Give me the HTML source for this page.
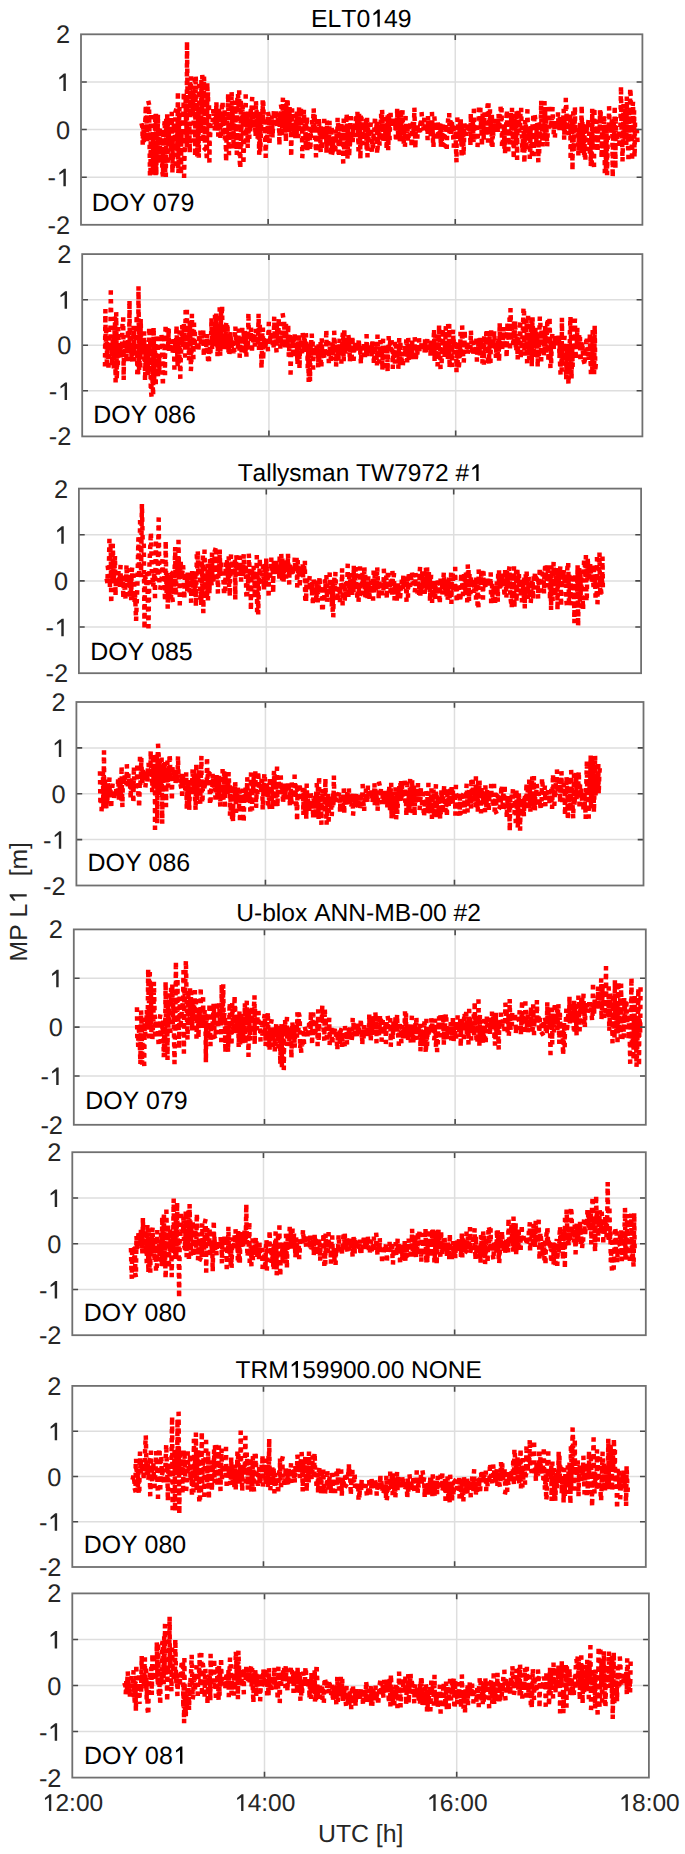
<!DOCTYPE html>
<html><head><meta charset="utf-8"><style>
html,body{margin:0;padding:0;background:#fff;}
svg{display:block;}
text{font-family:"Liberation Sans", sans-serif;font-kerning:none;text-rendering:geometricPrecision;}
</style></head><body>
<svg width="685" height="1854" viewBox="0 0 685 1854">
<rect width="685" height="1854" fill="#fff"/>
<path d="M81.00 81.93H642.40M81.00 129.55H642.40M81.00 177.18H642.40M268.13 34.30V224.80M455.27 34.30V224.80" stroke="#dedede" stroke-width="1.5" fill="none"/>
<path d="M142.0 125.4 L142.4 125.3 L142.7 143.8 L143.0 134.5 L143.5 124.5 L143.8 144.0 L144.2 128.0 L144.9 131.1 L145.5 115.8 L145.8 105.7 L146.1 132.5 L146.5 121.0 L147.0 141.5 L147.3 115.2 L147.8 112.1 L148.4 101.5 L149.0 104.1 L149.6 142.7 L150.0 176.1 L150.5 172.0 L150.8 131.2 L151.1 117.1 L151.3 158.1 L151.8 157.6 L152.4 133.1 L152.9 173.9 L153.2 132.8 L153.5 143.8 L154.0 169.3 L154.3 143.8 L154.8 172.0 L155.2 113.8 L155.6 175.7 L156.0 113.7 L156.3 174.9 L156.7 124.9 L157.1 125.0 L157.7 128.0 L157.9 114.8 L158.3 148.8 L158.9 150.0 L159.1 162.9 L159.4 133.6 L159.9 128.0 L160.0 161.8 L160.6 159.1 L161.0 159.3 L161.4 151.4 L161.7 148.7 L162.0 157.9 L162.5 173.4 L163.0 176.5 L163.4 133.2 L163.8 171.6 L164.2 126.9 L164.8 120.3 L165.2 175.0 L165.8 176.7 L166.2 117.0 L166.5 130.3 L166.9 123.7 L167.2 114.9 L167.7 164.4 L168.0 118.1 L168.5 145.6 L168.9 134.8 L169.5 136.6 L169.7 117.9 L170.2 116.6 L170.8 116.8 L171.0 156.7 L171.5 147.7 L171.8 113.9 L172.4 172.9 L172.7 136.7 L173.0 169.7 L173.4 132.6 L173.7 123.7 L173.9 130.6 L174.3 130.1 L174.5 127.7 L175.0 168.1 L175.0 145.4 L175.4 112.0 L175.8 110.7 L176.2 155.6 L176.6 154.0 L177.1 124.1 L177.4 151.3 L177.9 91.6 L178.3 172.9 L178.6 169.3 L179.0 121.6 L179.5 107.7 L180.0 154.5 L180.5 146.1 L181.0 174.2 L181.3 132.3 L181.7 143.5 L182.1 114.4 L182.5 140.6 L182.9 121.1 L183.4 111.8 L183.8 92.2 L184.1 176.1 L184.6 151.6 L184.9 150.1 L185.2 145.3 L185.6 98.7 L186.0 120.7 L186.4 123.6 L186.8 144.8 L187.0 41.7 L187.4 82.2 L187.7 116.7 L188.3 144.4 L188.7 127.4 L189.3 124.9 L189.8 152.6 L190.0 82.0 L190.3 111.4 L190.6 86.8 L191.1 77.6 L191.3 113.9 L191.8 112.7 L192.2 97.2 L192.5 95.7 L193.0 111.2 L193.3 90.0 L193.6 116.9 L193.9 133.5 L194.3 140.6 L194.8 79.7 L195.1 156.2 L195.7 76.2 L196.2 88.4 L196.7 131.7 L197.0 105.7 L197.3 156.7 L197.9 137.4 L198.4 108.2 L198.8 157.2 L199.3 85.5 L199.6 103.6 L199.9 134.7 L200.2 131.1 L200.6 119.6 L201.1 126.3 L201.4 81.1 L201.9 109.0 L202.3 76.8 L202.6 102.5 L203.1 142.0 L203.4 142.1 L204.0 77.0 L204.4 87.1 L204.9 149.1 L205.2 148.8 L205.7 95.0 L206.0 113.4 L206.5 152.4 L206.9 160.2 L207.3 82.9 L207.7 100.5 L208.0 92.4 L208.5 134.2 L209.0 103.1 L209.4 160.8 L209.9 130.5 L210.0 139.2 L210.6 122.5 L211.1 122.8 L211.6 122.1 L212.0 122.9 L212.6 121.8 L213.0 116.1 L213.4 108.0 L213.8 114.7 L214.3 110.1 L214.8 129.6 L215.4 119.2 L215.8 131.5 L216.4 102.3 L217.0 128.3 L217.4 116.8 L217.8 118.3 L218.3 135.8 L218.6 114.9 L219.1 107.6 L219.8 120.5 L220.1 118.6 L220.4 138.9 L220.9 138.7 L221.2 119.6 L221.6 113.7 L222.0 106.1 L222.6 101.7 L223.2 136.4 L223.5 113.4 L224.0 124.3 L224.6 111.4 L224.9 119.6 L225.0 138.2 L225.6 133.6 L226.1 161.5 L226.7 131.5 L227.2 124.1 L227.5 117.5 L227.8 106.2 L228.2 94.0 L228.5 139.5 L229.0 154.2 L229.4 123.9 L230.0 137.2 L230.7 139.4 L231.2 131.0 L231.6 91.9 L232.1 105.5 L232.3 125.9 L232.8 107.8 L233.3 148.6 L233.8 125.2 L234.2 130.4 L234.7 104.5 L235.2 101.3 L235.8 129.2 L236.3 133.0 L236.8 154.2 L237.4 96.5 L238.0 93.7 L238.6 107.5 L239.2 92.4 L239.7 160.6 L240.3 168.2 L240.8 98.9 L241.2 145.9 L241.6 122.0 L242.2 118.8 L242.5 103.5 L242.9 113.5 L243.4 163.9 L243.8 151.5 L244.4 117.3 L245.0 125.4 L245.4 114.4 L245.7 96.4 L246.0 141.5 L246.4 128.5 L246.7 112.8 L247.0 133.4 L247.4 125.1 L247.7 147.5 L248.3 109.4 L248.6 134.9 L248.9 124.6 L249.3 136.9 L249.8 122.0 L250.2 131.5 L250.8 109.1 L251.3 124.8 L251.7 104.3 L252.1 99.0 L252.6 112.1 L253.1 128.5 L253.6 109.9 L254.0 126.8 L254.6 121.4 L255.1 125.7 L255.6 136.4 L255.9 101.0 L256.2 107.2 L256.7 112.4 L257.3 132.1 L257.7 137.5 L258.1 119.4 L258.6 121.8 L258.9 137.1 L259.2 153.9 L259.6 111.3 L260.2 151.3 L260.6 142.8 L261.2 124.2 L261.8 129.6 L262.2 127.6 L262.7 100.8 L263.0 122.7 L263.3 103.1 L263.9 123.8 L264.3 119.7 L264.6 132.0 L265.1 135.8 L265.7 156.5 L266.4 121.4 L266.9 134.0 L267.4 138.4 L267.8 123.0 L268.0 112.3 L268.6 115.4 L269.0 121.1 L269.4 145.0 L269.9 134.3 L270.4 120.4 L270.7 119.9 L271.1 136.0 L271.7 120.6 L272.1 114.5 L272.5 137.5 L273.1 124.7 L273.5 120.5 L273.9 110.2 L274.6 116.4 L275.1 118.5 L275.7 123.4 L276.1 109.8 L276.7 123.2 L277.3 128.0 L277.5 113.0 L277.9 124.3 L278.4 116.3 L279.0 119.4 L279.4 145.2 L279.9 110.9 L280.6 131.7 L281.1 105.6 L281.6 108.6 L281.9 134.0 L282.5 119.6 L282.9 98.6 L283.4 127.0 L283.9 110.7 L284.5 108.4 L285.1 131.0 L285.5 107.1 L285.9 141.6 L286.3 104.5 L286.8 121.5 L287.1 104.8 L287.5 98.4 L288.0 110.1 L288.6 122.4 L289.0 128.1 L289.3 130.9 L289.6 107.5 L290.0 132.2 L290.3 118.7 L290.8 119.5 L291.2 156.4 L291.7 123.9 L292.1 108.9 L292.6 128.1 L293.2 127.3 L293.8 125.8 L294.2 137.8 L294.9 122.2 L295.4 137.8 L296.0 114.5 L296.7 132.4 L297.0 112.5 L297.4 125.6 L298.0 126.2 L298.4 136.7 L299.1 107.6 L299.6 120.2 L300.2 130.2 L300.7 128.8 L301.0 108.0 L301.5 127.4 L302.0 128.1 L302.3 156.9 L302.7 151.0 L303.1 147.4 L303.4 128.1 L303.9 110.0 L304.2 120.0 L304.8 127.1 L305.2 128.4 L305.7 143.3 L306.1 124.4 L306.6 126.6 L307.0 116.2 L307.3 151.5 L307.8 132.9 L308.3 149.7 L308.6 146.8 L309.0 129.9 L309.5 124.6 L310.1 150.1 L310.5 144.7 L310.9 129.2 L311.2 131.2 L311.7 130.6 L312.1 122.0 L312.7 132.0 L313.2 119.3 L313.7 108.9 L314.2 131.4 L314.7 114.1 L315.0 138.7 L315.6 143.1 L316.0 156.1 L316.4 128.8 L317.0 121.0 L317.6 137.2 L318.2 151.6 L318.6 150.0 L318.9 118.3 L319.4 131.8 L319.7 133.4 L320.2 133.3 L320.7 152.4 L321.1 128.4 L321.8 149.6 L322.3 134.0 L322.9 136.8 L323.4 129.0 L323.7 132.0 L324.2 120.7 L324.5 129.9 L325.0 137.4 L325.4 130.4 L325.9 132.5 L326.2 134.3 L326.5 152.4 L326.9 121.0 L327.3 126.2 L327.8 135.5 L328.4 137.2 L328.7 137.9 L329.2 138.6 L329.5 121.3 L330.0 146.5 L330.6 138.9 L330.9 155.4 L331.4 132.0 L331.7 126.9 L332.0 154.5 L332.6 151.9 L333.2 141.6 L333.9 152.2 L334.3 135.7 L334.7 134.5 L335.2 153.0 L335.6 144.3 L336.1 129.4 L336.7 136.7 L337.3 135.5 L337.6 118.2 L338.2 125.6 L338.6 153.3 L339.0 156.6 L339.5 134.0 L339.8 134.4 L340.2 144.2 L340.8 139.0 L341.4 123.3 L341.9 131.6 L342.5 140.2 L343.2 162.0 L343.7 119.7 L344.3 154.8 L344.8 131.1 L345.0 131.1 L345.6 149.3 L346.1 126.6 L346.7 113.9 L347.1 148.5 L347.4 158.7 L347.7 153.7 L348.1 128.4 L348.6 132.2 L349.2 156.4 L349.5 143.2 L349.9 148.0 L350.3 124.9 L350.8 117.3 L351.4 142.2 L351.8 139.4 L352.1 133.0 L352.7 141.9 L353.3 125.0 L353.8 127.4 L354.1 128.3 L354.5 130.9 L355.1 121.7 L355.7 117.9 L356.1 135.8 L356.6 117.8 L357.0 124.9 L357.5 114.0 L357.9 123.0 L358.5 150.2 L359.1 114.0 L359.7 128.5 L360.0 131.0 L360.4 158.9 L360.8 114.1 L361.4 114.8 L361.9 132.8 L362.4 144.2 L362.7 131.8 L363.2 120.4 L363.7 126.9 L364.1 129.2 L364.6 123.1 L365.2 131.1 L365.6 134.2 L366.1 121.0 L366.7 149.9 L367.1 118.6 L367.5 156.3 L367.8 126.2 L368.2 134.8 L368.7 140.8 L369.0 125.1 L369.7 129.2 L370.3 128.4 L370.7 124.0 L371.2 124.9 L371.8 150.3 L372.3 139.8 L372.9 149.9 L373.5 133.8 L374.0 139.4 L374.4 128.3 L375.0 116.6 L375.3 125.5 L375.7 128.3 L376.3 128.2 L376.8 121.2 L377.1 153.7 L377.7 146.5 L378.4 124.2 L378.7 128.2 L379.2 127.9 L379.5 144.8 L379.9 123.1 L380.0 125.9 L380.5 128.5 L381.1 114.5 L381.7 129.7 L382.1 110.1 L382.6 123.4 L383.0 141.3 L383.5 128.0 L384.0 130.5 L384.6 142.9 L385.0 130.5 L385.4 132.7 L385.8 129.3 L386.2 118.0 L386.6 149.2 L387.2 129.7 L387.6 115.2 L388.2 149.8 L388.7 130.8 L389.1 113.9 L389.6 138.1 L390.1 122.1 L390.6 113.4 L391.0 127.0 L391.6 127.0 L392.0 118.4 L392.5 127.9 L393.1 126.8 L393.7 117.7 L394.0 126.7 L394.4 126.7 L394.8 126.5 L395.4 126.6 L396.0 141.4 L396.4 136.6 L396.7 125.4 L397.2 108.5 L397.5 126.6 L397.8 126.7 L398.2 135.8 L398.7 110.2 L399.1 126.3 L399.5 113.7 L399.8 141.5 L400.3 129.1 L400.9 109.6 L401.4 140.3 L402.0 123.1 L402.5 111.8 L403.0 126.5 L403.3 139.7 L403.7 144.0 L404.0 132.9 L404.6 126.1 L405.0 145.2 L405.6 117.6 L406.1 123.1 L406.5 132.7 L407.0 125.9 L407.4 126.4 L408.0 141.5 L408.6 136.5 L408.9 124.5 L409.5 125.8 L409.9 126.1 L410.3 123.6 L410.7 133.8 L411.3 135.6 L411.6 146.8 L412.0 143.1 L412.4 124.3 L413.0 122.3 L413.6 131.0 L413.9 128.1 L414.4 108.2 L414.9 129.9 L415.4 148.2 L415.7 129.3 L416.3 126.9 L416.8 129.9 L417.4 137.0 L417.7 126.6 L418.3 130.3 L418.8 132.3 L419.2 126.1 L419.5 126.0 L420.0 131.4 L420.0 126.7 L420.5 122.8 L421.0 126.6 L421.3 121.5 L421.7 114.0 L422.2 122.2 L422.7 128.4 L423.3 126.7 L423.9 128.5 L424.3 118.9 L424.7 125.1 L425.1 128.3 L425.4 129.4 L425.7 128.6 L426.3 130.3 L426.7 128.2 L427.1 128.5 L427.6 139.3 L428.0 116.2 L428.5 133.4 L429.1 126.5 L429.4 127.0 L429.7 127.5 L430.4 126.2 L430.7 135.3 L431.2 123.1 L431.6 126.2 L432.0 113.9 L432.6 130.4 L433.1 143.2 L433.5 147.0 L433.8 122.8 L434.5 118.5 L435.0 125.8 L435.5 126.9 L436.0 130.5 L436.4 121.5 L436.9 140.5 L437.3 121.8 L437.8 123.6 L438.2 132.8 L438.8 133.7 L439.5 127.2 L439.7 126.6 L440.3 124.3 L440.9 147.1 L441.3 124.1 L441.9 145.8 L442.5 127.5 L442.8 127.3 L443.3 122.7 L443.9 144.9 L444.5 145.3 L445.0 123.3 L445.6 125.4 L445.9 132.9 L446.4 129.5 L446.8 146.8 L447.3 127.2 L447.7 127.2 L448.1 119.9 L448.7 119.5 L449.2 113.8 L449.5 132.1 L450.0 127.2 L450.0 118.4 L450.5 118.8 L451.0 134.8 L451.6 132.4 L451.9 122.3 L452.3 127.1 L452.8 124.9 L453.3 138.4 L453.8 145.9 L454.1 139.6 L454.5 128.5 L454.9 127.9 L455.5 126.6 L455.9 145.3 L456.5 161.7 L456.8 121.5 L457.4 119.5 L458.0 127.5 L458.3 122.1 L458.8 123.9 L459.3 137.6 L460.0 123.4 L460.3 140.6 L460.8 119.2 L461.1 127.0 L461.6 157.1 L462.2 122.3 L462.6 124.8 L463.1 124.9 L463.5 155.0 L464.1 138.1 L464.4 123.9 L464.9 126.9 L465.5 127.0 L465.9 134.5 L466.3 127.7 L466.9 123.5 L467.5 128.5 L467.9 123.5 L468.3 127.7 L468.6 123.3 L468.9 125.9 L469.4 132.9 L469.8 126.9 L470.0 125.7 L470.4 145.8 L470.8 113.6 L471.3 138.2 L471.7 128.0 L472.2 129.6 L472.7 119.1 L473.1 130.0 L473.6 143.1 L473.9 106.6 L474.5 141.0 L475.0 134.7 L475.3 127.3 L475.6 126.8 L475.9 128.7 L476.2 125.0 L476.6 127.5 L477.2 143.1 L477.6 145.1 L477.9 134.1 L478.2 134.0 L478.6 129.3 L479.0 105.9 L479.6 106.0 L480.1 127.7 L480.4 109.7 L480.8 125.9 L481.3 119.6 L481.9 146.0 L482.6 115.7 L483.2 118.9 L483.6 139.7 L484.0 124.4 L484.6 112.8 L485.0 128.7 L485.6 128.3 L486.2 127.3 L486.5 135.0 L487.1 111.9 L487.6 105.6 L488.0 140.6 L488.5 104.9 L489.1 121.2 L489.5 129.9 L490.0 109.8 L490.6 125.8 L491.1 120.1 L491.6 146.5 L491.9 113.9 L492.5 145.4 L493.0 130.4 L493.3 136.1 L493.6 127.9 L494.1 119.3 L494.4 126.0 L494.8 128.1 L495.3 128.7 L495.7 130.4 L496.3 124.2 L496.8 130.1 L497.4 120.5 L497.7 130.1 L498.1 119.0 L498.6 114.5 L499.1 129.4 L499.6 121.2 L500.0 114.3 L500.6 108.2 L501.1 122.8 L501.6 109.6 L502.0 144.0 L502.5 129.7 L503.0 142.2 L503.5 131.5 L504.0 127.0 L504.4 146.6 L504.7 126.8 L505.1 151.1 L505.6 128.2 L506.1 126.9 L506.5 116.3 L506.9 110.4 L507.4 134.1 L507.9 142.0 L508.3 153.5 L508.8 124.2 L509.3 119.3 L510.0 146.3 L510.5 118.4 L510.9 112.9 L511.5 127.9 L512.0 108.6 L512.7 144.0 L513.0 127.5 L513.3 128.9 L513.7 158.6 L514.3 131.8 L514.6 120.1 L515.1 128.8 L515.6 129.5 L516.1 145.0 L516.6 110.8 L517.1 158.5 L517.5 111.7 L518.2 110.3 L518.5 109.8 L518.8 121.0 L519.4 132.0 L519.8 129.2 L520.2 122.1 L520.6 108.7 L521.2 109.5 L521.6 126.9 L522.1 144.4 L522.5 152.1 L522.9 140.4 L523.5 133.1 L523.8 132.8 L524.4 162.8 L524.9 128.5 L525.2 121.7 L525.6 127.8 L525.9 126.2 L526.5 149.9 L527.0 127.6 L527.4 111.2 L527.9 127.6 L528.4 139.9 L528.8 127.7 L529.2 127.7 L529.8 157.6 L530.3 149.2 L530.6 127.1 L530.9 125.8 L531.3 145.1 L531.9 153.8 L532.5 126.0 L532.9 126.0 L533.3 114.0 L533.7 154.2 L534.2 122.0 L534.6 113.9 L535.2 118.5 L535.8 127.0 L536.2 146.3 L536.7 125.9 L537.2 123.7 L537.5 124.9 L538.0 147.0 L538.3 161.5 L538.7 122.0 L539.2 151.4 L539.7 126.9 L540.0 126.3 L540.3 135.4 L540.8 125.1 L541.2 101.0 L541.4 125.2 L542.0 130.8 L542.6 145.6 L543.1 136.4 L543.5 130.8 L543.9 129.8 L544.5 101.8 L544.8 142.4 L545.1 108.1 L545.4 138.8 L545.8 126.5 L546.2 120.6 L546.7 135.8 L547.2 146.1 L547.7 132.2 L548.3 109.0 L548.7 114.2 L549.2 127.1 L549.6 124.1 L550.2 123.4 L550.7 124.0 L551.0 125.3 L551.5 121.3 L551.8 123.1 L552.5 108.4 L553.0 121.5 L553.4 126.7 L553.7 133.1 L554.1 120.8 L554.7 134.3 L555.0 135.6 L555.5 121.9 L556.0 123.6 L556.6 128.8 L557.2 128.7 L557.7 122.2 L558.0 113.0 L558.2 117.2 L558.6 126.8 L559.0 125.7 L559.5 131.8 L559.8 118.2 L560.4 117.6 L560.7 128.5 L561.0 123.2 L561.3 124.4 L561.7 129.0 L562.1 127.3 L562.5 124.4 L562.9 123.0 L563.4 116.3 L563.7 110.0 L564.2 139.4 L564.6 123.4 L565.2 133.5 L565.8 99.4 L566.1 99.2 L566.5 112.6 L566.8 126.2 L567.3 114.1 L567.6 122.8 L568.0 124.4 L568.4 124.5 L568.8 134.3 L569.2 127.6 L569.7 127.1 L570.0 127.5 L570.3 114.2 L570.6 159.8 L571.2 134.8 L571.7 121.4 L572.0 125.0 L572.5 170.3 L572.8 114.1 L573.3 112.8 L573.7 151.5 L574.2 123.0 L574.6 128.6 L574.9 106.7 L575.3 131.9 L575.8 132.3 L576.2 129.3 L576.7 134.4 L577.1 129.4 L577.5 130.1 L578.0 129.3 L578.4 155.3 L579.0 127.9 L579.5 142.5 L580.0 122.5 L580.5 136.5 L581.0 128.0 L581.4 118.9 L581.7 105.6 L582.0 152.9 L582.4 120.9 L582.7 131.3 L583.0 141.7 L583.4 142.1 L584.1 155.4 L584.4 125.8 L584.8 160.6 L585.4 158.0 L586.0 124.3 L586.4 132.1 L586.8 128.5 L587.4 124.4 L588.0 125.3 L588.6 119.2 L589.1 129.0 L589.5 145.6 L589.9 154.6 L590.3 136.4 L590.8 165.8 L591.3 136.8 L591.9 167.7 L592.2 109.3 L592.6 149.3 L593.1 126.0 L593.5 111.9 L594.0 165.0 L594.4 108.1 L594.7 130.2 L595.3 142.8 L595.7 142.8 L596.3 121.1 L596.8 147.2 L597.3 125.6 L597.7 148.4 L598.3 129.5 L598.7 131.0 L599.3 131.9 L599.7 131.7 L600.0 110.7 L600.3 121.8 L600.7 112.2 L601.3 117.2 L601.6 157.9 L602.1 131.3 L602.4 133.8 L603.0 150.3 L603.4 114.7 L603.7 133.4 L604.1 116.0 L604.5 131.9 L604.8 171.4 L605.1 134.8 L605.5 124.5 L606.0 172.7 L606.6 128.8 L607.1 174.1 L607.8 135.2 L608.1 123.6 L608.6 130.2 L609.1 107.7 L609.7 128.7 L610.2 132.3 L610.6 132.3 L611.2 131.9 L611.6 123.8 L611.9 120.2 L612.3 129.1 L612.7 177.1 L613.3 128.2 L613.7 122.6 L614.3 139.5 L614.7 106.0 L615.0 131.9 L615.4 168.6 L615.7 116.0 L616.2 140.6 L616.6 132.7 L616.9 132.0 L617.4 137.1 L617.8 132.1 L618.4 132.0 L619.0 132.0 L619.5 147.4 L620.0 131.9 L620.4 127.8 L621.0 86.5 L621.5 128.7 L622.0 130.2 L622.5 160.9 L622.9 143.2 L623.5 106.3 L624.0 126.4 L624.4 126.0 L624.7 138.9 L625.0 131.8 L625.3 109.8 L625.9 129.9 L626.3 143.4 L626.8 97.1 L627.4 131.9 L627.7 135.4 L628.4 157.0 L628.8 134.2 L629.2 108.1 L629.6 137.3 L630.2 88.5 L630.8 97.0 L631.2 134.5 L631.6 137.6 L632.1 160.4 L632.5 109.1 L633.0 102.1 L633.6 128.5 L634.1 111.3 L634.5 157.0 L634.7 150.6 L635.0 123.7 L635.7 126.3 L636.0 126.8 L636.4 130.4 L636.9 130.9 L637.4 140.5 L637.8 136.3" fill="none" stroke="#f00" stroke-width="4.5" stroke-dasharray="0.01 8.8" stroke-linejoin="miter" stroke-linecap="square"/>
<path d="M81.00 81.93H86.80M642.40 81.93H636.60M81.00 129.55H86.80M642.40 129.55H636.60M81.00 177.18H86.80M642.40 177.18H636.60M268.13 34.30V40.10M268.13 224.80V219.00M455.27 34.30V40.10M455.27 224.80V219.00" stroke="#4a4a4a" stroke-width="1.6" fill="none"/>
<rect x="81.00" y="34.30" width="561.40" height="190.50" fill="none" stroke="#707070" stroke-width="1.8"/>
<text x="56.07" y="43.39" font-size="25.40" fill="#262626" xml:space="preserve">2</text>
<polygon points="65.83,91.02 65.83,73.51 63.95,73.51 59.25,77.43 59.38,79.59 63.41,76.92 63.41,91.02" fill="#262626"/>
<text x="56.07" y="138.64" font-size="25.40" fill="#262626" xml:space="preserve">0</text>
<text x="47.62" y="186.26" font-size="25.40" fill="#262626" xml:space="preserve">-</text><polygon points="65.83,186.26 65.83,168.76 63.95,168.76 59.25,172.68 59.38,174.83 63.41,172.17 63.41,186.26" fill="#262626"/>
<text x="47.62" y="233.89" font-size="25.40" fill="#262626" xml:space="preserve">-2</text>
<text x="91.75" y="210.85" font-size="24.95" fill="#000" xml:space="preserve">DOY 079</text>
<text x="311.07" y="26.65" font-size="24.76" fill="#000" xml:space="preserve">ELT0</text><polygon points="379.77,26.65 379.77,9.59 377.93,9.59 373.35,13.40 373.48,15.51 377.41,12.91 377.41,26.65" fill="#000"/><text x="384.03" y="26.65" font-size="24.76" fill="#000" xml:space="preserve">49</text>
<path d="M82.20 299.68H642.40M82.20 345.25H642.40M82.20 390.82H642.40M268.93 254.10V436.40M455.67 254.10V436.40" stroke="#dedede" stroke-width="1.5" fill="none"/>
<path d="M105.0 364.2 L105.4 310.4 L105.7 346.6 L106.3 330.3 L106.8 363.3 L107.1 339.9 L107.5 351.7 L108.1 344.6 L108.5 369.7 L109.1 329.6 L109.7 344.3 L110.3 350.6 L110.8 292.5 L111.4 330.2 L111.9 365.4 L112.3 344.6 L112.9 340.7 L113.4 345.4 L113.8 369.5 L114.4 325.7 L115.0 345.7 L115.0 317.2 L115.6 381.1 L116.2 312.9 L116.8 379.0 L117.4 355.8 L117.9 363.8 L118.3 328.3 L118.6 341.1 L119.2 345.2 L119.8 357.7 L120.2 344.5 L120.8 350.3 L121.2 358.4 L121.6 354.5 L122.0 345.2 L122.6 319.9 L123.2 318.5 L123.7 379.5 L124.0 347.4 L124.3 344.2 L124.7 342.4 L125.0 346.4 L125.5 356.9 L125.8 357.8 L126.4 357.1 L127.0 344.6 L127.5 347.4 L127.9 330.0 L128.2 359.4 L128.6 347.5 L129.2 347.7 L129.5 300.7 L129.8 344.8 L130.2 350.8 L130.8 342.8 L131.2 337.4 L131.5 356.6 L131.9 345.2 L132.3 361.1 L132.6 343.5 L133.2 343.0 L133.7 325.9 L134.3 360.3 L134.8 356.0 L135.0 349.1 L135.4 350.4 L136.0 345.6 L136.7 315.4 L137.0 340.1 L137.3 372.2 L137.8 363.2 L138.1 372.6 L138.5 286.8 L139.1 369.8 L139.6 361.3 L139.9 329.3 L140.3 365.6 L140.7 319.0 L141.2 345.3 L141.7 352.7 L142.2 349.9 L142.7 345.3 L143.0 346.6 L143.6 347.3 L144.1 332.4 L144.5 359.4 L144.9 346.2 L145.0 380.3 L145.3 372.5 L145.7 342.6 L146.1 369.0 L146.5 345.3 L146.9 348.4 L147.2 357.0 L147.7 375.4 L148.2 342.5 L148.7 352.5 L149.2 327.6 L149.6 335.3 L150.2 342.4 L150.8 389.6 L151.4 395.1 L151.8 344.1 L152.5 379.9 L153.1 395.1 L153.6 327.4 L153.9 344.7 L154.2 378.1 L154.8 357.7 L155.0 347.3 L155.3 344.9 L155.7 386.1 L156.2 344.9 L156.7 338.3 L157.0 342.9 L157.6 338.6 L158.0 377.0 L158.6 370.6 L159.0 356.1 L159.4 370.5 L159.9 344.5 L160.2 344.7 L160.8 337.2 L161.4 333.6 L161.9 344.7 L162.3 366.3 L162.9 385.6 L163.4 344.4 L164.0 338.2 L164.5 345.0 L165.0 373.7 L165.0 357.8 L165.6 324.8 L165.9 344.5 L166.3 347.4 L166.7 344.1 L167.3 329.6 L167.6 345.0 L168.2 344.4 L168.7 328.5 L169.0 352.7 L169.5 343.3 L170.1 347.8 L170.4 346.2 L170.9 350.2 L171.4 346.1 L171.9 340.5 L172.4 340.4 L172.8 353.4 L173.1 340.5 L173.6 340.0 L174.1 350.5 L174.4 367.9 L175.0 343.7 L175.6 351.7 L176.0 344.6 L176.5 325.7 L177.1 348.0 L177.6 364.0 L178.0 340.6 L178.6 363.3 L179.3 356.6 L179.6 331.4 L180.0 365.9 L180.3 377.2 L180.8 356.9 L181.2 349.8 L181.8 335.4 L182.2 326.0 L182.5 332.5 L183.0 346.1 L183.5 341.7 L183.9 323.7 L184.2 343.6 L184.7 340.6 L185.1 355.9 L185.6 312.3 L186.0 338.6 L186.4 335.9 L186.9 311.9 L187.2 333.2 L187.5 346.3 L188.2 327.2 L188.7 329.0 L189.0 359.9 L189.4 356.2 L189.8 320.5 L190.4 339.8 L190.9 369.8 L191.3 364.5 L191.6 342.3 L191.9 314.7 L192.5 343.7 L193.0 343.8 L193.4 357.7 L194.0 324.0 L194.4 342.2 L194.9 333.5 L195.0 344.0 L195.5 345.7 L196.2 345.9 L196.8 343.2 L197.4 350.1 L197.8 341.9 L198.2 351.4 L198.6 347.1 L199.0 337.1 L199.3 341.3 L199.8 339.0 L200.1 335.2 L200.4 331.1 L200.9 346.4 L201.2 330.6 L201.8 332.2 L202.3 342.3 L202.8 343.2 L203.3 329.4 L203.8 356.1 L204.1 343.1 L204.6 339.0 L204.9 342.4 L205.4 340.8 L206.0 352.0 L206.6 341.5 L206.9 334.2 L207.6 352.4 L208.0 359.3 L208.6 341.9 L209.0 359.9 L209.4 345.3 L209.8 341.7 L210.0 346.7 L210.4 354.4 L210.8 343.6 L211.2 331.8 L211.5 318.1 L211.9 342.9 L212.2 350.0 L212.7 341.4 L213.0 330.8 L213.6 341.1 L214.0 343.6 L214.7 347.3 L215.0 316.3 L215.5 340.4 L215.8 341.2 L216.3 314.2 L216.6 344.3 L217.1 323.8 L217.5 355.9 L218.0 346.7 L218.5 342.4 L218.9 330.3 L219.2 341.2 L219.7 309.4 L220.2 355.6 L220.7 341.0 L221.1 310.1 L221.7 313.2 L222.1 305.6 L222.5 341.1 L222.9 346.0 L223.4 334.8 L223.9 329.7 L224.2 347.8 L224.7 340.7 L225.0 346.5 L225.6 339.1 L225.9 325.8 L226.5 321.9 L227.0 331.9 L227.5 324.2 L228.0 353.1 L228.5 351.6 L228.8 340.0 L229.4 354.0 L229.8 340.8 L230.4 332.1 L231.0 343.4 L231.5 342.6 L231.9 348.8 L232.3 339.1 L232.9 349.0 L233.5 352.0 L234.0 341.8 L234.3 351.0 L234.8 338.8 L235.4 327.2 L235.9 339.0 L236.3 340.9 L236.6 344.2 L237.1 338.3 L237.5 338.7 L237.9 349.2 L238.4 338.7 L238.7 329.8 L239.1 338.2 L239.7 356.4 L240.1 338.4 L240.6 348.3 L241.1 336.4 L241.6 353.3 L242.1 325.8 L242.7 340.4 L243.1 337.4 L243.7 333.8 L244.0 339.5 L244.5 340.8 L244.8 331.3 L245.0 334.1 L245.5 354.3 L245.9 338.5 L246.4 355.3 L246.8 351.2 L247.4 341.4 L247.7 347.8 L248.1 339.9 L248.4 312.9 L248.9 339.2 L249.4 335.3 L249.9 339.2 L250.5 340.4 L251.0 328.1 L251.5 349.9 L251.9 352.4 L252.4 342.8 L253.0 339.8 L253.4 342.5 L254.0 337.7 L254.5 336.1 L254.9 346.1 L255.2 343.7 L255.8 330.5 L256.3 341.0 L256.9 340.6 L257.3 341.7 L257.7 344.0 L258.0 344.8 L258.6 314.2 L259.0 347.8 L259.4 344.2 L259.8 324.3 L260.0 345.0 L260.3 337.7 L261.0 347.0 L261.5 368.0 L261.9 354.3 L262.3 332.6 L262.9 328.2 L263.2 359.7 L263.6 340.9 L264.0 338.8 L264.4 345.0 L264.9 345.1 L265.3 347.2 L265.9 342.8 L266.3 338.8 L266.8 342.2 L267.3 342.1 L267.9 349.8 L268.5 330.8 L268.8 323.6 L269.1 327.4 L269.4 341.1 L269.8 344.1 L270.0 343.2 L270.6 332.5 L271.2 341.0 L271.8 341.1 L272.4 340.9 L273.0 346.9 L273.6 348.3 L274.2 317.4 L274.7 337.7 L275.1 338.6 L275.4 338.3 L276.0 345.2 L276.5 351.3 L277.0 324.3 L277.3 335.2 L277.9 339.6 L278.3 337.0 L278.8 318.1 L279.4 337.1 L279.9 340.6 L280.3 348.2 L280.7 337.0 L281.3 335.9 L281.7 346.7 L282.3 344.0 L282.9 315.4 L283.3 318.0 L283.9 341.7 L284.2 321.3 L284.6 340.6 L285.1 348.4 L285.4 338.6 L286.0 325.7 L286.4 340.6 L286.8 340.9 L287.3 341.8 L287.9 345.4 L288.2 324.5 L288.8 356.2 L289.3 348.0 L289.8 334.5 L290.0 334.7 L290.6 372.5 L291.0 357.7 L291.4 338.7 L291.9 343.7 L292.3 336.2 L292.9 346.7 L293.3 353.0 L293.8 344.6 L294.2 345.8 L294.7 333.5 L295.2 358.2 L295.7 344.4 L296.3 347.1 L296.6 347.5 L296.9 346.0 L297.5 364.6 L297.8 344.2 L298.4 336.5 L298.7 355.3 L299.1 334.2 L299.5 368.5 L299.9 349.9 L300.2 344.0 L300.8 339.3 L301.3 347.9 L301.9 351.5 L302.3 349.5 L302.8 334.6 L303.3 347.1 L303.9 349.7 L304.2 335.2 L304.7 335.5 L305.0 350.1 L305.4 351.2 L306.0 335.2 L306.7 348.8 L307.1 347.2 L307.4 353.1 L307.7 366.6 L308.1 346.4 L308.7 381.3 L309.3 358.9 L309.7 361.3 L310.0 380.9 L310.5 342.3 L310.9 357.2 L311.4 335.4 L311.8 334.6 L312.3 357.3 L312.7 342.4 L313.1 367.6 L313.5 351.8 L314.0 350.9 L314.4 356.6 L315.0 356.3 L315.5 351.3 L315.9 351.1 L316.3 353.1 L316.7 343.7 L317.1 349.8 L317.5 351.5 L317.9 353.2 L318.2 367.2 L318.6 344.6 L319.2 361.8 L319.8 352.0 L320.0 356.5 L320.6 343.3 L320.9 363.2 L321.4 367.5 L321.8 339.2 L322.1 352.5 L322.6 351.9 L323.2 351.7 L323.6 354.7 L324.1 356.7 L324.8 350.1 L325.0 356.4 L325.4 356.3 L325.9 349.6 L326.3 329.8 L326.6 343.2 L327.1 339.9 L327.6 339.8 L328.2 342.0 L328.8 362.0 L329.1 350.4 L329.5 352.1 L330.0 346.2 L330.4 345.1 L330.9 362.4 L331.4 357.7 L331.8 359.8 L332.2 349.9 L332.7 344.1 L333.1 355.4 L333.8 344.8 L334.2 332.0 L334.8 344.2 L335.1 348.0 L335.6 349.9 L336.1 366.2 L336.6 348.2 L337.0 343.8 L337.3 357.3 L337.9 350.8 L338.4 360.7 L339.0 348.5 L339.6 339.2 L340.0 349.7 L340.6 351.9 L340.9 346.6 L341.4 361.8 L341.7 348.4 L342.3 340.9 L342.6 335.8 L343.1 331.5 L343.7 361.0 L344.3 328.9 L344.6 346.8 L345.0 347.6 L345.6 352.7 L346.0 344.4 L346.4 347.8 L346.9 350.7 L347.2 336.6 L347.9 342.8 L348.5 336.1 L349.0 340.9 L349.3 345.3 L349.9 361.4 L350.4 349.0 L350.9 340.4 L351.4 342.3 L351.8 357.2 L352.4 336.4 L352.9 352.0 L353.3 347.6 L353.7 359.0 L354.1 353.5 L354.7 343.0 L355.2 348.2 L355.6 349.8 L356.1 344.7 L356.5 348.3 L357.1 350.3 L357.7 342.7 L358.3 348.5 L358.7 338.8 L359.3 348.2 L359.9 349.1 L360.2 350.2 L360.9 363.6 L361.4 348.3 L361.7 347.2 L362.2 349.1 L362.8 351.3 L363.2 350.5 L363.5 348.7 L363.8 342.7 L364.3 348.5 L364.7 359.3 L365.0 356.3 L365.7 346.2 L366.2 354.0 L366.6 335.8 L367.1 353.9 L367.4 347.8 L368.1 353.3 L368.7 344.2 L369.1 349.6 L369.5 350.2 L370.1 353.0 L370.5 348.0 L370.9 349.8 L371.1 346.1 L371.6 356.4 L372.2 340.1 L372.5 348.1 L373.1 343.4 L373.6 355.7 L373.9 363.7 L374.2 358.8 L374.9 349.2 L375.4 349.5 L375.8 350.4 L376.4 355.3 L377.0 364.8 L377.5 335.9 L377.9 348.2 L378.5 353.2 L379.1 362.2 L379.7 346.9 L380.0 357.2 L380.4 340.8 L380.9 349.9 L381.5 347.5 L382.1 347.9 L382.4 369.7 L382.8 345.1 L383.1 340.0 L383.6 353.6 L384.1 348.0 L384.6 345.9 L385.0 345.0 L385.5 345.1 L386.2 349.6 L386.5 351.1 L386.9 370.0 L387.3 349.8 L387.6 371.6 L387.9 347.5 L388.3 351.5 L388.7 338.3 L389.0 349.4 L389.6 347.5 L390.2 341.7 L390.8 349.5 L391.1 349.8 L391.7 342.1 L392.0 350.4 L392.4 351.6 L392.8 367.8 L393.2 350.5 L393.7 358.1 L394.3 349.7 L394.8 361.5 L395.2 343.0 L395.6 340.8 L396.0 348.2 L396.6 355.5 L397.0 349.8 L397.3 355.2 L397.9 358.9 L398.3 368.4 L398.9 349.8 L399.2 339.6 L399.7 343.2 L400.0 363.9 L400.4 340.8 L400.8 359.3 L401.4 357.6 L401.9 364.7 L402.4 358.1 L403.0 363.5 L403.6 356.0 L403.9 349.5 L404.3 350.9 L404.8 345.6 L405.4 351.0 L405.9 349.6 L406.3 337.7 L406.7 343.9 L407.2 361.8 L407.7 340.4 L408.3 338.6 L408.7 360.8 L409.1 348.4 L409.6 344.7 L410.2 356.5 L410.8 348.6 L411.2 345.9 L411.4 348.2 L411.8 358.7 L412.3 340.3 L412.7 343.6 L413.0 359.5 L413.3 354.0 L413.9 353.9 L414.5 348.6 L414.8 338.5 L415.4 349.0 L415.9 360.7 L416.4 348.6 L416.8 348.1 L417.3 355.2 L417.8 347.2 L418.2 348.9 L418.5 347.8 L419.1 339.3 L419.4 349.7 L419.8 347.8 L420.4 348.6 L420.6 347.4 L421.1 348.4 L421.5 343.5 L421.9 346.8 L422.2 348.7 L422.5 348.1 L423.0 346.7 L423.6 342.3 L424.2 352.6 L424.7 350.4 L425.1 338.4 L425.5 347.8 L425.8 346.7 L426.3 350.2 L426.7 348.8 L427.2 340.2 L427.6 342.2 L428.0 351.9 L428.6 349.4 L429.1 346.8 L429.7 346.4 L430.0 349.0 L430.5 353.9 L430.8 341.6 L431.2 353.8 L431.7 338.9 L432.3 357.0 L432.6 346.6 L433.0 342.8 L433.5 342.1 L434.1 329.3 L434.6 360.9 L435.1 333.4 L435.4 359.3 L436.0 340.9 L436.5 337.4 L437.1 345.7 L437.6 364.9 L438.0 351.0 L438.3 337.1 L438.6 354.1 L439.1 325.3 L439.5 340.2 L440.1 345.3 L440.5 367.8 L441.1 368.0 L441.5 365.5 L442.1 348.9 L442.4 345.9 L442.9 328.9 L443.3 348.6 L443.7 352.7 L444.1 356.3 L444.6 356.5 L444.9 348.1 L445.3 342.6 L445.8 327.3 L446.1 326.9 L446.5 356.9 L447.0 341.8 L447.4 342.9 L447.9 358.7 L448.2 325.8 L448.9 342.4 L449.2 324.9 L449.6 367.6 L450.0 350.4 L450.3 343.0 L450.7 343.5 L451.3 344.1 L451.9 366.0 L452.5 337.9 L453.1 330.5 L453.5 344.2 L453.8 339.1 L454.3 353.1 L454.8 344.2 L455.3 343.9 L455.7 344.1 L456.2 344.1 L456.5 371.6 L456.9 349.3 L457.4 341.4 L457.7 363.2 L458.3 342.6 L458.7 369.2 L459.3 361.6 L459.8 342.0 L460.1 357.0 L460.5 333.4 L460.9 354.6 L461.3 357.1 L461.8 343.8 L462.2 327.5 L462.6 345.1 L463.1 354.6 L463.3 355.7 L463.8 361.6 L464.4 346.4 L464.8 330.4 L465.0 347.0 L465.4 346.4 L465.9 348.8 L466.3 349.2 L466.9 348.5 L467.5 341.4 L467.9 352.5 L468.3 349.9 L468.8 348.0 L469.2 347.9 L469.9 345.9 L470.2 347.4 L470.5 347.5 L470.9 331.0 L471.5 344.5 L472.0 345.3 L472.6 354.8 L473.1 355.3 L473.6 342.9 L474.1 344.8 L474.5 343.6 L475.1 353.6 L475.7 347.2 L476.0 347.4 L476.5 337.0 L476.9 360.5 L477.4 346.4 L478.0 346.5 L478.3 346.1 L479.0 338.1 L479.3 344.8 L479.9 355.6 L480.4 337.8 L480.7 345.3 L481.3 340.1 L481.6 345.3 L482.1 346.0 L482.4 362.9 L483.0 349.7 L483.4 344.3 L483.9 363.7 L484.2 334.9 L484.7 342.1 L485.2 349.3 L485.6 344.4 L486.0 345.2 L486.3 333.3 L486.6 345.0 L487.1 332.0 L487.3 336.4 L487.7 346.1 L488.0 364.6 L488.6 356.7 L489.0 363.4 L489.7 332.2 L490.0 353.4 L490.5 360.7 L491.1 329.0 L491.6 344.8 L492.1 344.9 L492.7 343.1 L493.2 348.5 L493.6 341.4 L494.2 331.3 L494.6 340.0 L495.0 343.2 L495.5 348.1 L495.9 357.5 L496.5 343.4 L496.8 343.7 L497.1 347.3 L497.5 357.7 L498.0 346.4 L498.4 338.1 L499.1 361.6 L499.7 323.1 L500.0 343.4 L500.4 336.4 L500.8 338.4 L501.2 347.7 L501.8 342.4 L502.1 350.2 L502.7 341.3 L503.3 337.5 L503.8 327.5 L504.4 343.6 L504.7 343.7 L505.2 341.2 L505.8 341.6 L506.3 340.9 L506.6 357.5 L507.0 339.2 L507.5 322.4 L507.8 340.3 L508.2 327.6 L508.6 340.5 L509.0 327.4 L509.5 318.4 L510.0 330.8 L510.0 350.2 L510.5 309.4 L511.1 330.6 L511.4 340.2 L512.0 322.9 L512.6 341.5 L513.0 343.5 L513.4 338.3 L514.0 320.0 L514.3 341.3 L514.8 329.7 L515.2 321.1 L515.8 346.4 L516.3 350.9 L516.6 337.7 L517.0 336.6 L517.7 358.8 L518.2 338.0 L518.6 343.6 L519.0 343.5 L519.6 337.4 L520.2 320.7 L520.7 357.8 L521.1 350.9 L521.7 345.2 L522.2 339.8 L522.7 334.4 L523.0 327.3 L523.5 307.7 L524.0 309.3 L524.4 355.3 L524.9 344.4 L525.3 340.7 L525.8 350.9 L526.2 336.0 L526.6 319.0 L527.1 361.6 L527.6 338.6 L528.1 317.6 L528.6 359.3 L529.1 359.4 L529.6 338.7 L530.0 335.6 L530.4 347.9 L531.1 337.1 L531.4 320.5 L531.8 366.3 L532.2 330.9 L532.5 317.6 L533.1 333.2 L533.4 357.1 L534.1 336.7 L534.4 333.4 L535.0 340.6 L535.3 325.8 L535.7 342.0 L536.0 331.0 L536.6 346.7 L537.2 339.3 L537.7 366.7 L538.2 335.1 L538.8 358.3 L539.2 339.6 L539.8 317.5 L540.3 320.7 L540.7 335.6 L541.2 359.7 L541.6 328.8 L542.1 339.4 L542.7 330.1 L543.2 340.6 L543.8 356.1 L544.2 344.2 L544.7 349.4 L545.2 324.2 L545.7 340.3 L546.1 352.8 L546.6 346.5 L546.9 332.3 L547.4 318.8 L548.0 319.1 L548.4 361.2 L548.9 338.5 L549.5 317.0 L549.9 333.0 L550.4 366.3 L550.7 341.8 L551.2 361.7 L551.7 345.2 L552.0 342.0 L552.3 335.2 L552.9 344.9 L553.5 342.4 L553.8 347.5 L554.3 343.9 L554.7 344.5 L555.0 335.0 L555.4 344.7 L555.8 343.0 L556.4 342.8 L556.9 341.3 L557.3 345.7 L557.7 336.0 L558.4 344.6 L558.7 340.8 L559.0 338.0 L559.5 357.8 L559.9 342.1 L560.0 361.7 L560.5 372.8 L561.0 341.2 L561.7 370.2 L561.9 318.4 L562.4 361.1 L562.8 348.4 L563.1 364.3 L563.5 343.5 L564.0 343.8 L564.5 337.6 L564.9 342.1 L565.4 349.5 L565.7 356.1 L566.2 379.2 L566.8 345.7 L567.4 370.7 L568.0 342.6 L568.4 383.8 L568.8 377.2 L569.1 367.5 L569.5 371.4 L569.9 333.2 L570.5 317.0 L571.0 337.7 L571.5 378.5 L572.2 350.0 L572.6 366.3 L573.1 350.8 L573.7 343.7 L574.3 329.8 L574.9 319.8 L575.2 333.1 L575.8 359.3 L576.1 345.2 L576.5 347.6 L576.8 344.9 L577.3 327.7 L577.6 346.8 L578.0 343.4 L578.4 344.8 L578.7 334.3 L579.2 336.1 L579.7 342.0 L580.0 338.6 L580.4 361.2 L580.7 356.3 L581.2 341.7 L581.6 346.3 L582.0 342.6 L582.3 351.5 L582.7 346.3 L583.1 356.9 L583.6 360.5 L584.0 361.9 L584.6 347.8 L584.9 359.7 L585.5 348.0 L586.0 346.7 L586.3 337.6 L586.8 337.0 L587.3 347.5 L587.9 356.2 L588.5 347.1 L588.8 357.7 L589.4 349.5 L589.8 334.0 L590.4 355.2 L590.9 372.4 L591.4 348.5 L591.8 338.1 L592.3 370.6 L592.7 331.2 L593.1 340.0 L593.7 352.3 L594.1 373.1 L594.7 325.6 L595.3 371.1 L595.8 363.6" fill="none" stroke="#f00" stroke-width="4.5" stroke-dasharray="0.01 8.8" stroke-linejoin="miter" stroke-linecap="square"/>
<path d="M82.20 299.68H88.00M642.40 299.68H636.60M82.20 345.25H88.00M642.40 345.25H636.60M82.20 390.82H88.00M642.40 390.82H636.60M268.93 254.10V259.90M268.93 436.40V430.60M455.67 254.10V259.90M455.67 436.40V430.60" stroke="#4a4a4a" stroke-width="1.6" fill="none"/>
<rect x="82.20" y="254.10" width="560.20" height="182.30" fill="none" stroke="#707070" stroke-width="1.8"/>
<text x="57.27" y="263.19" font-size="25.40" fill="#262626" xml:space="preserve">2</text>
<polygon points="67.03,308.76 67.03,291.26 65.15,291.26 60.45,295.18 60.58,297.33 64.61,294.67 64.61,308.76" fill="#262626"/>
<text x="57.27" y="354.34" font-size="25.40" fill="#262626" xml:space="preserve">0</text>
<text x="48.82" y="399.91" font-size="25.40" fill="#262626" xml:space="preserve">-</text><polygon points="67.03,399.91 67.03,382.41 65.15,382.41 60.45,386.33 60.58,388.48 64.61,385.82 64.61,399.91" fill="#262626"/>
<text x="48.82" y="445.49" font-size="25.40" fill="#262626" xml:space="preserve">-2</text>
<text x="93.25" y="422.85" font-size="24.95" fill="#000" xml:space="preserve">DOY 086</text>
<path d="M78.90 534.75H641.10M78.90 580.90H641.10M78.90 627.05H641.10M266.30 488.60V673.20M453.70 488.60V673.20" stroke="#dedede" stroke-width="1.5" fill="none"/>
<path d="M107.0 580.9 L107.4 583.0 L107.9 567.6 L108.3 570.7 L108.8 571.9 L109.4 540.9 L109.9 585.0 L110.5 544.1 L110.8 543.6 L111.2 603.2 L111.7 584.1 L112.3 569.1 L112.8 544.9 L113.4 568.0 L113.8 581.6 L114.3 561.9 L114.6 566.6 L115.0 556.2 L115.5 595.5 L115.8 583.5 L116.3 580.7 L116.9 583.9 L117.4 583.2 L117.7 582.3 L118.1 580.5 L118.5 572.0 L119.0 580.3 L119.4 575.5 L120.0 586.2 L120.0 576.8 L120.5 566.9 L120.9 582.3 L121.2 579.3 L121.7 581.8 L122.1 581.6 L122.6 581.9 L122.9 576.6 L123.3 598.4 L123.7 584.2 L124.2 578.1 L124.6 587.8 L124.9 578.9 L125.5 599.6 L126.1 581.3 L126.5 565.0 L127.0 583.9 L127.4 569.3 L127.9 583.9 L128.4 585.6 L129.1 580.3 L129.6 582.9 L130.1 598.1 L130.7 574.3 L131.2 601.5 L131.6 572.2 L132.1 568.2 L132.6 588.5 L133.1 584.0 L133.5 575.4 L134.1 581.6 L134.6 600.9 L135.0 593.2 L136.1 620.3 L137.4 585.3 L138.4 538.7 L139.3 578.3 L140.1 522.0 L141.0 575.9 L141.9 504.1 L142.6 537.6 L143.8 544.0 L144.5 628.9 L145.0 574.0 L146.2 584.3 L147.2 574.1 L148.5 626.6 L149.5 563.8 L150.9 532.6 L151.9 570.4 L153.2 586.6 L154.5 572.7 L155.0 596.3 L156.0 539.6 L156.7 575.8 L157.7 574.6 L158.7 519.1 L159.4 583.1 L160.4 588.3 L161.7 577.3 L162.4 561.1 L163.2 573.5 L164.3 575.8 L165.0 600.9 L165.3 583.2 L165.7 541.0 L166.1 573.2 L166.6 591.7 L167.2 573.2 L167.7 607.8 L168.0 592.3 L168.5 575.5 L168.8 599.1 L169.4 597.7 L170.0 580.5 L170.2 574.4 L170.8 573.9 L171.1 597.7 L171.4 573.0 L172.0 573.6 L172.3 598.0 L172.6 600.0 L173.2 573.8 L173.6 584.3 L174.1 592.4 L174.5 574.8 L175.2 547.4 L175.6 594.0 L175.9 595.4 L176.4 572.3 L177.0 574.5 L177.5 558.3 L177.9 574.2 L178.5 541.3 L179.0 577.5 L179.4 581.6 L179.8 603.4 L180.0 581.4 L180.4 561.6 L180.8 563.4 L181.3 575.5 L181.8 577.1 L182.2 573.5 L182.7 569.6 L183.1 565.6 L183.7 574.8 L184.3 598.9 L184.8 574.9 L185.4 576.4 L185.9 574.1 L186.4 577.2 L186.9 574.8 L187.3 590.6 L187.6 570.8 L188.0 574.7 L188.6 585.7 L189.1 584.2 L189.5 592.0 L189.9 577.1 L190.3 580.9 L190.6 574.6 L191.1 601.6 L191.6 575.6 L192.1 570.3 L192.7 587.6 L193.2 592.6 L193.7 573.1 L194.3 575.4 L194.6 589.7 L195.0 577.9 L195.4 576.0 L195.9 606.2 L196.5 579.0 L196.8 556.2 L197.3 570.2 L197.8 551.2 L198.3 572.6 L198.8 576.1 L199.4 562.8 L199.9 566.5 L200.4 597.6 L200.9 591.4 L201.2 605.1 L201.5 590.2 L201.9 560.0 L202.4 592.4 L202.9 553.6 L203.3 612.2 L203.8 583.9 L204.2 570.5 L204.5 551.5 L205.0 571.6 L205.6 591.4 L205.9 573.9 L206.2 586.8 L206.6 593.1 L207.2 598.4 L207.6 565.0 L208.0 598.7 L208.4 568.2 L208.9 572.4 L209.4 593.8 L209.9 568.5 L210.0 559.1 L210.3 567.1 L210.8 578.8 L211.3 581.5 L211.6 584.8 L212.0 552.9 L212.3 577.9 L212.7 580.1 L213.3 574.4 L213.6 581.8 L214.2 573.6 L214.7 551.4 L215.1 550.0 L215.6 573.1 L216.0 551.5 L216.6 578.1 L216.9 577.2 L217.5 576.5 L217.9 592.5 L218.5 568.8 L218.9 565.3 L219.4 573.2 L219.7 549.8 L220.0 562.4 L220.4 571.2 L220.7 569.0 L221.2 564.6 L221.5 573.1 L221.8 574.7 L222.3 570.2 L222.7 571.7 L223.2 572.6 L223.8 589.7 L224.2 595.3 L224.8 577.8 L225.3 589.9 L225.7 566.9 L226.0 563.4 L226.5 576.6 L227.1 561.1 L227.6 569.7 L228.2 579.8 L228.7 557.0 L229.2 591.9 L229.6 592.3 L229.9 596.2 L230.0 574.2 L230.5 575.0 L231.0 556.3 L231.5 572.3 L232.0 571.6 L232.3 563.0 L232.8 570.9 L233.2 576.0 L233.7 572.8 L234.2 573.3 L234.9 558.2 L235.3 599.2 L235.6 563.1 L235.9 566.4 L236.4 556.2 L237.0 571.2 L237.5 566.9 L237.8 571.7 L238.3 562.2 L238.7 571.4 L239.3 573.7 L239.9 556.9 L240.3 570.1 L240.6 567.8 L241.1 579.8 L241.8 564.6 L242.4 569.9 L242.9 574.7 L243.2 569.9 L243.7 554.7 L244.2 575.4 L244.8 565.4 L245.5 570.7 L245.8 566.1 L246.2 593.0 L246.6 597.5 L247.1 598.5 L247.6 576.8 L247.9 574.5 L248.3 589.4 L248.8 554.6 L249.2 560.3 L249.7 576.6 L250.0 571.3 L250.6 574.5 L250.9 610.3 L251.4 575.4 L251.8 576.6 L252.1 571.8 L252.7 574.5 L253.2 578.4 L253.7 566.6 L254.0 574.0 L254.4 575.4 L254.8 597.7 L255.4 583.2 L255.7 576.3 L256.2 583.4 L256.8 556.8 L257.1 610.3 L257.4 571.7 L257.8 581.2 L258.2 613.5 L258.8 588.0 L259.3 576.2 L259.9 558.6 L260.0 576.2 L260.4 576.4 L260.8 580.0 L261.4 581.7 L262.0 582.1 L262.6 568.6 L263.0 566.1 L263.4 574.7 L263.9 590.1 L264.4 571.3 L265.0 563.5 L265.3 565.2 L265.6 587.5 L265.8 587.5 L266.2 558.5 L266.4 566.6 L267.1 573.5 L267.5 582.3 L268.0 575.5 L268.3 572.2 L268.6 597.6 L268.9 574.9 L269.3 571.0 L269.7 579.5 L270.3 574.4 L270.9 562.9 L271.3 558.5 L271.6 571.2 L272.1 570.6 L272.4 570.0 L272.8 568.7 L273.2 592.8 L273.5 562.0 L273.8 562.5 L274.2 576.0 L274.6 563.7 L275.0 565.6 L275.4 566.3 L276.0 560.9 L276.5 567.0 L277.1 573.7 L277.6 564.1 L278.0 570.2 L278.4 575.1 L279.0 568.4 L279.3 579.7 L279.7 554.9 L280.2 570.0 L280.8 567.2 L281.3 555.0 L281.7 567.6 L282.1 580.4 L282.4 558.0 L283.1 565.0 L283.6 580.6 L284.1 563.9 L284.4 566.3 L284.9 568.5 L285.4 560.8 L285.9 561.4 L286.2 576.6 L286.7 567.1 L287.1 572.3 L287.5 572.2 L288.0 554.0 L288.4 564.0 L288.8 568.4 L289.2 583.4 L289.7 563.1 L290.0 570.0 L290.4 565.3 L290.7 571.2 L291.1 569.1 L291.7 574.9 L292.1 572.0 L292.7 573.0 L293.2 570.7 L293.7 568.8 L294.2 572.0 L294.7 558.2 L295.0 561.9 L295.3 570.6 L295.7 562.3 L296.2 570.8 L296.6 558.9 L297.2 585.9 L297.7 560.6 L298.1 573.0 L298.4 575.0 L298.9 576.8 L299.4 569.7 L299.8 587.1 L300.1 567.6 L300.6 573.7 L300.9 570.5 L301.3 568.2 L301.6 574.4 L302.1 575.4 L302.7 565.7 L303.1 576.6 L303.3 576.7 L303.9 564.4 L304.4 569.3 L304.9 562.3 L305.0 585.1 L305.3 602.5 L305.8 580.8 L306.1 601.6 L306.5 579.3 L306.9 580.8 L307.2 580.8 L307.7 580.5 L308.1 587.6 L308.6 582.4 L309.2 580.4 L309.6 577.2 L309.9 586.7 L310.5 583.1 L311.1 590.9 L311.6 583.2 L312.0 595.3 L312.3 583.9 L312.9 604.7 L313.2 602.3 L313.8 577.4 L314.4 586.8 L314.8 587.7 L315.2 587.2 L315.9 589.6 L316.5 600.7 L317.0 579.9 L317.3 582.5 L317.7 600.5 L318.0 589.7 L318.6 581.1 L319.0 588.5 L319.5 576.7 L320.0 588.6 L320.3 588.7 L320.7 594.6 L321.3 585.4 L321.7 587.6 L322.2 611.4 L322.8 611.0 L323.4 589.1 L323.9 589.2 L324.5 598.2 L324.9 581.6 L325.4 588.0 L326.0 577.3 L326.6 577.3 L327.0 601.6 L327.4 588.4 L327.9 589.5 L328.5 589.2 L328.9 590.0 L329.4 592.9 L329.7 573.9 L330.3 593.9 L330.8 590.1 L331.3 585.2 L331.8 606.5 L332.3 589.4 L332.7 610.1 L333.1 582.4 L333.3 615.5 L333.7 587.6 L334.3 579.6 L334.9 589.9 L335.4 573.5 L336.0 588.7 L336.3 589.9 L336.8 588.7 L337.4 588.3 L337.8 601.1 L338.3 589.3 L338.9 586.1 L339.2 587.5 L339.8 587.5 L340.0 600.1 L340.5 584.2 L340.9 583.9 L341.5 586.6 L341.8 583.3 L342.1 569.2 L342.6 604.0 L343.0 585.9 L343.6 582.7 L344.1 586.9 L344.7 601.5 L345.3 587.8 L345.9 582.6 L346.2 597.1 L346.7 586.0 L347.3 580.8 L347.7 565.7 L348.3 597.7 L348.9 585.7 L349.2 576.5 L349.8 591.8 L350.1 584.0 L350.4 576.7 L350.8 586.0 L351.3 574.3 L351.9 585.5 L352.2 593.8 L352.8 586.3 L353.2 585.1 L353.5 591.4 L353.8 565.8 L354.1 584.8 L354.6 579.7 L355.1 585.6 L355.6 568.0 L356.2 587.8 L356.8 584.6 L357.3 599.0 L357.8 592.6 L358.2 596.6 L358.6 599.9 L359.1 583.5 L359.5 584.8 L360.0 567.8 L360.3 594.3 L360.6 593.6 L361.1 589.6 L361.6 584.5 L362.0 597.2 L362.5 573.1 L363.1 584.7 L363.5 583.3 L364.0 581.5 L364.4 566.4 L365.0 595.3 L365.3 572.9 L365.7 597.5 L366.3 587.7 L366.7 582.8 L367.0 594.4 L367.5 598.5 L367.8 584.2 L368.3 577.0 L368.6 585.1 L369.0 585.1 L369.5 599.2 L369.9 585.6 L370.2 584.9 L370.8 591.1 L371.2 581.4 L371.6 581.1 L372.1 593.6 L372.7 581.3 L373.1 598.6 L373.6 572.4 L374.1 592.1 L374.7 575.6 L375.1 576.6 L375.5 583.4 L375.8 590.3 L376.1 572.2 L376.8 586.5 L377.2 566.8 L377.8 580.2 L378.3 582.0 L378.7 598.6 L379.1 583.0 L379.7 580.5 L380.3 583.3 L380.6 583.4 L381.2 589.3 L381.7 584.2 L382.2 595.0 L382.6 593.1 L383.1 592.3 L383.4 589.6 L383.9 570.7 L384.3 580.6 L384.9 586.3 L385.3 579.9 L385.9 580.9 L386.3 577.7 L386.8 598.6 L387.3 580.6 L388.0 570.7 L388.6 581.1 L389.1 584.0 L389.4 584.7 L389.8 581.0 L390.0 589.1 L390.4 592.1 L391.0 577.5 L391.5 594.8 L391.8 582.4 L392.2 595.5 L392.5 572.6 L393.0 587.3 L393.4 581.7 L393.9 574.8 L394.2 584.4 L394.5 599.6 L394.9 584.4 L395.2 586.8 L395.5 583.3 L395.9 583.8 L396.3 584.6 L396.8 600.4 L397.2 598.4 L397.6 598.7 L398.0 584.4 L398.5 594.1 L398.8 588.5 L399.4 590.2 L399.7 584.7 L400.1 600.1 L400.7 587.5 L401.1 589.7 L401.7 582.0 L402.3 584.6 L402.8 588.7 L403.3 576.9 L403.9 586.3 L404.3 583.6 L404.8 576.2 L405.3 585.0 L405.6 576.2 L406.1 584.5 L406.5 599.9 L407.0 579.9 L407.5 576.3 L408.0 595.9 L408.6 572.6 L409.2 578.6 L409.4 580.8 L410.0 585.6 L410.4 585.5 L411.0 583.4 L411.5 572.0 L412.0 572.4 L412.6 581.7 L413.0 585.4 L413.4 585.2 L414.0 580.8 L414.5 590.7 L414.9 590.7 L415.3 586.9 L415.6 573.9 L416.0 576.5 L416.3 584.9 L416.8 586.3 L417.3 592.1 L417.9 583.2 L418.5 587.0 L419.1 594.0 L419.6 574.2 L420.0 568.1 L420.4 596.3 L420.7 589.6 L421.3 587.8 L421.6 590.4 L422.2 571.3 L422.8 584.6 L423.1 583.1 L423.6 584.0 L424.1 583.1 L424.4 583.5 L424.7 593.1 L425.4 584.3 L425.9 567.5 L426.6 590.0 L426.9 581.1 L427.1 567.9 L427.5 585.4 L427.8 589.1 L428.3 579.2 L428.9 573.8 L429.4 586.7 L429.7 576.8 L430.0 600.9 L430.5 587.1 L431.0 576.8 L431.4 588.8 L432.1 601.9 L432.4 588.4 L432.8 585.5 L433.4 582.8 L433.8 580.5 L434.3 597.9 L434.9 583.5 L435.2 599.3 L435.6 581.0 L436.2 583.1 L436.7 586.5 L437.2 591.6 L437.6 583.4 L438.1 582.3 L438.5 583.6 L439.1 583.3 L439.4 599.4 L439.8 603.5 L440.4 577.1 L441.0 586.3 L441.3 582.3 L442.0 580.6 L442.4 593.9 L442.9 584.3 L443.3 581.0 L443.8 572.5 L444.3 583.3 L444.7 583.6 L445.0 591.9 L445.4 594.0 L446.0 577.9 L446.5 596.9 L446.9 592.3 L447.3 584.5 L447.7 599.3 L448.2 581.7 L448.9 579.3 L449.3 584.5 L449.6 599.0 L450.2 580.7 L450.8 593.6 L451.1 571.6 L451.4 602.7 L451.7 581.0 L452.4 578.6 L452.9 572.7 L453.3 592.2 L453.8 584.3 L454.3 584.1 L454.7 587.2 L455.2 568.6 L455.5 587.9 L456.1 584.9 L456.7 602.3 L457.1 584.7 L457.4 584.6 L458.0 584.9 L458.6 584.7 L458.9 600.7 L459.4 592.7 L459.7 592.4 L460.0 595.7 L460.3 601.2 L460.7 593.9 L461.1 573.4 L461.4 580.4 L461.9 585.0 L462.3 584.9 L462.9 594.0 L463.4 587.8 L463.7 586.2 L464.1 573.5 L464.6 576.5 L465.1 585.1 L465.4 594.7 L465.7 585.3 L466.0 570.7 L466.6 575.4 L466.9 588.9 L467.2 601.0 L467.8 565.8 L468.2 592.0 L468.5 568.4 L469.0 600.7 L469.5 575.5 L470.0 589.9 L470.5 592.1 L470.9 577.0 L471.5 585.3 L472.0 585.5 L472.3 585.2 L472.7 584.0 L473.3 585.1 L473.8 579.3 L474.2 590.8 L474.7 585.3 L475.1 585.5 L475.6 581.6 L476.0 597.8 L476.3 579.4 L476.9 579.3 L477.5 604.1 L477.8 586.7 L478.4 605.2 L478.7 570.8 L479.4 585.4 L479.7 585.5 L480.1 576.5 L480.6 576.7 L480.9 585.4 L481.2 574.2 L481.6 582.6 L482.1 572.4 L482.6 575.6 L483.0 597.8 L483.5 572.3 L484.0 582.3 L484.3 587.7 L484.8 584.8 L485.4 586.1 L485.8 585.4 L486.4 584.5 L486.9 585.5 L487.5 577.7 L488.0 580.8 L488.6 585.3 L489.1 579.7 L489.6 584.7 L490.1 585.5 L490.7 573.5 L491.2 605.3 L491.6 585.2 L492.0 584.7 L492.5 598.7 L493.0 601.7 L493.6 587.9 L494.2 591.0 L494.8 585.0 L495.1 604.4 L495.7 585.6 L496.2 594.6 L496.6 587.5 L496.8 582.8 L497.5 590.4 L497.8 601.3 L498.2 571.9 L498.8 587.5 L499.1 570.4 L499.4 590.6 L499.7 582.0 L500.0 581.9 L500.4 585.8 L501.1 577.2 L501.4 585.3 L501.9 572.9 L502.5 585.1 L503.0 583.8 L503.5 582.7 L504.1 589.7 L504.6 596.5 L505.1 569.2 L505.4 584.6 L505.9 584.5 L506.4 596.7 L507.0 571.0 L507.4 578.2 L507.9 584.2 L508.2 588.4 L508.8 571.8 L509.4 567.3 L510.0 585.6 L510.3 598.5 L510.7 599.5 L511.3 604.1 L511.8 607.4 L512.1 573.1 L512.6 580.8 L512.9 584.2 L513.3 607.7 L513.7 586.3 L514.0 567.5 L514.4 607.5 L515.0 573.5 L515.3 575.4 L515.7 582.1 L516.1 570.4 L516.5 601.5 L517.0 581.2 L517.4 570.7 L518.0 582.5 L518.5 579.1 L519.0 575.8 L519.5 592.1 L520.0 587.8 L520.4 578.5 L521.1 597.6 L521.4 579.2 L521.9 601.0 L522.4 595.2 L522.9 585.5 L523.4 588.9 L523.9 597.2 L524.3 576.1 L524.8 608.0 L525.0 581.2 L525.4 579.6 L525.7 575.5 L526.2 583.9 L526.7 573.8 L527.0 593.0 L527.6 587.3 L528.0 597.1 L528.4 585.4 L528.7 578.0 L529.1 580.3 L529.7 598.3 L530.2 580.3 L530.8 601.7 L531.2 596.4 L531.5 580.1 L532.1 579.9 L532.6 579.7 L533.2 599.1 L533.7 574.2 L534.0 581.6 L534.5 579.5 L535.0 572.2 L535.5 579.8 L536.0 577.6 L536.3 580.2 L536.7 579.3 L537.2 579.0 L537.8 582.9 L538.1 598.0 L538.6 578.0 L539.2 586.2 L539.7 568.0 L540.0 578.0 L540.6 581.4 L541.1 590.7 L541.6 578.1 L542.0 572.8 L542.7 577.7 L543.1 574.1 L543.7 580.4 L544.0 593.1 L544.3 578.5 L545.0 567.7 L545.5 576.2 L545.8 567.2 L546.3 578.9 L546.6 576.2 L547.1 586.3 L547.5 564.7 L548.0 578.7 L548.6 576.5 L548.9 581.6 L549.3 578.9 L549.7 583.4 L550.0 599.5 L550.5 574.6 L551.1 609.7 L551.4 565.5 L552.0 578.5 L552.6 599.0 L553.1 578.6 L553.6 562.6 L554.0 575.1 L554.6 572.1 L554.9 579.0 L555.4 596.0 L555.9 576.3 L556.3 582.5 L556.7 567.2 L557.1 566.6 L557.5 609.8 L558.0 571.2 L558.4 585.8 L559.0 578.6 L559.6 566.4 L560.1 569.4 L560.3 567.1 L560.8 590.9 L561.1 606.1 L561.5 587.1 L562.0 572.3 L562.4 578.9 L562.8 577.8 L563.1 577.9 L563.7 572.1 L564.4 578.2 L564.7 584.0 L565.1 579.8 L565.4 573.3 L565.8 573.4 L566.1 598.7 L566.6 603.2 L567.0 573.8 L567.6 564.8 L568.2 562.3 L568.5 576.9 L569.0 601.9 L569.4 573.4 L570.0 604.1 L570.3 600.5 L570.7 580.8 L571.1 577.4 L571.5 580.9 L572.1 579.4 L572.4 578.7 L572.8 577.2 L573.4 596.0 L573.9 578.5 L574.4 622.3 L574.7 577.7 L575.1 577.3 L575.7 596.0 L576.3 586.0 L576.8 579.0 L577.1 597.3 L577.6 565.3 L578.1 626.1 L578.6 597.9 L578.9 585.8 L579.2 569.6 L579.5 571.7 L579.8 601.7 L580.0 596.3 L580.4 569.6 L580.7 594.2 L581.2 590.8 L581.5 578.9 L581.9 606.2 L582.2 602.8 L582.7 600.3 L583.1 609.4 L583.5 578.5 L584.1 560.0 L584.4 559.5 L585.0 567.9 L585.5 578.7 L585.9 555.6 L586.4 601.2 L586.8 598.6 L587.1 578.4 L587.4 578.6 L587.8 557.7 L588.3 574.2 L588.9 569.7 L589.3 577.8 L589.8 569.6 L590.2 564.4 L590.8 571.8 L591.4 565.9 L591.9 582.9 L592.4 578.1 L593.0 578.6 L593.5 586.2 L594.1 564.4 L594.7 583.0 L595.1 579.3 L595.6 599.0 L596.2 595.9 L596.6 592.9 L597.0 558.9 L597.5 602.7 L597.9 584.2 L598.2 579.1 L598.6 580.1 L599.0 556.6 L599.5 553.1 L599.9 582.8 L600.4 595.6 L600.7 587.7 L601.3 592.7 L601.8 577.9 L602.1 585.8 L602.5 557.6 L602.9 591.8" fill="none" stroke="#f00" stroke-width="4.5" stroke-dasharray="0.01 8.8" stroke-linejoin="miter" stroke-linecap="square"/>
<path d="M78.90 534.75H84.70M641.10 534.75H635.30M78.90 580.90H84.70M641.10 580.90H635.30M78.90 627.05H84.70M641.10 627.05H635.30M266.30 488.60V494.40M266.30 673.20V667.40M453.70 488.60V494.40M453.70 673.20V667.40" stroke="#4a4a4a" stroke-width="1.6" fill="none"/>
<rect x="78.90" y="488.60" width="562.20" height="184.60" fill="none" stroke="#707070" stroke-width="1.8"/>
<text x="53.97" y="497.69" font-size="25.40" fill="#262626" xml:space="preserve">2</text>
<polygon points="63.73,543.84 63.73,526.34 61.85,526.34 57.15,530.25 57.28,532.41 61.31,529.74 61.31,543.84" fill="#262626"/>
<text x="53.97" y="589.99" font-size="25.40" fill="#262626" xml:space="preserve">0</text>
<text x="45.52" y="636.14" font-size="25.40" fill="#262626" xml:space="preserve">-</text><polygon points="63.73,636.14 63.73,618.64 61.85,618.64 57.15,622.55 57.28,624.71 61.31,622.04 61.31,636.14" fill="#262626"/>
<text x="45.52" y="682.29" font-size="25.40" fill="#262626" xml:space="preserve">-2</text>
<text x="90.15" y="659.75" font-size="24.95" fill="#000" xml:space="preserve">DOY 085</text>
<text x="237.65" y="481.10" font-size="24.51" fill="#000" xml:space="preserve">Tallysman TW7972 #</text><polygon points="478.60,481.10 478.60,464.21 476.79,464.21 472.25,467.99 472.38,470.07 476.27,467.50 476.27,481.10" fill="#000"/>
<path d="M76.40 747.88H643.50M76.40 793.75H643.50M76.40 839.62H643.50M265.43 702.00V885.50M454.47 702.00V885.50" stroke="#dedede" stroke-width="1.5" fill="none"/>
<path d="M100.0 773.5 L100.4 804.6 L101.1 796.3 L101.6 809.4 L101.9 798.4 L102.4 796.3 L103.0 772.3 L103.4 809.2 L104.0 751.6 L104.3 806.7 L105.0 778.7 L105.0 808.6 L105.6 802.3 L105.9 797.4 L106.4 809.2 L106.7 789.0 L107.3 803.7 L107.8 782.8 L108.3 789.1 L108.8 791.4 L109.4 779.2 L109.8 793.9 L110.3 793.8 L110.6 789.1 L111.2 808.0 L111.6 793.8 L112.0 790.2 L112.5 785.2 L113.0 786.9 L113.5 790.5 L114.1 799.0 L114.7 793.1 L115.2 793.7 L115.8 795.1 L116.3 788.0 L116.7 791.8 L117.3 796.3 L117.7 794.8 L118.1 778.7 L118.4 781.1 L118.9 799.8 L119.2 791.8 L119.7 791.3 L120.0 778.4 L120.4 777.8 L120.8 797.1 L121.2 800.0 L121.6 766.3 L121.9 786.3 L122.4 806.5 L122.7 788.5 L123.2 784.8 L123.7 781.4 L124.1 780.3 L124.7 775.2 L125.2 783.1 L125.8 782.8 L126.4 784.0 L126.9 765.9 L127.2 777.9 L127.7 784.4 L128.2 782.5 L128.5 774.1 L129.1 784.5 L129.7 786.2 L130.0 784.6 L130.7 798.5 L131.0 785.7 L131.4 789.8 L132.0 788.1 L132.3 777.6 L132.7 787.3 L133.4 802.8 L133.9 766.6 L134.3 784.6 L134.9 784.3 L135.5 790.5 L136.1 787.1 L136.6 784.1 L136.9 782.7 L137.3 763.7 L137.7 778.5 L138.3 793.7 L138.7 784.8 L139.1 807.4 L139.7 785.0 L140.0 754.7 L140.3 784.0 L140.9 777.5 L141.3 758.2 L141.8 772.7 L142.4 783.7 L143.0 768.5 L143.3 770.9 L143.9 777.9 L144.5 773.1 L145.1 771.0 L145.5 785.8 L145.8 782.4 L146.2 773.4 L146.7 773.1 L147.3 783.2 L147.8 770.4 L148.2 767.6 L148.6 763.4 L149.1 778.4 L149.7 773.1 L150.1 770.0 L150.4 777.3 L150.7 751.1 L151.2 771.8 L151.8 770.5 L152.2 791.1 L152.6 773.6 L153.1 754.2 L153.6 787.4 L154.1 773.8 L154.4 768.4 L154.9 773.7 L155.0 828.2 L155.5 770.2 L156.1 774.1 L156.7 753.8 L157.2 822.8 L157.6 757.7 L158.1 745.7 L158.5 753.0 L158.9 758.2 L159.3 795.8 L159.7 759.2 L160.1 770.4 L160.5 770.5 L161.1 790.0 L161.6 758.8 L162.2 823.1 L162.7 775.5 L163.3 776.3 L163.7 762.6 L164.2 775.4 L164.8 773.7 L165.0 763.6 L165.3 778.8 L165.7 769.0 L166.0 805.9 L166.4 785.6 L167.0 777.3 L167.4 762.5 L167.7 777.6 L168.0 787.1 L168.7 766.1 L169.1 779.6 L169.6 754.6 L170.0 760.0 L170.3 781.9 L170.9 765.6 L171.3 769.8 L171.9 800.4 L172.4 765.2 L173.0 780.4 L173.3 774.3 L173.9 768.4 L174.2 773.6 L174.6 779.4 L175.1 771.6 L175.6 781.9 L176.0 767.9 L176.5 778.3 L177.0 775.9 L177.6 776.2 L178.0 756.3 L178.5 775.7 L178.9 777.8 L179.4 779.4 L180.0 786.9 L180.3 785.6 L180.9 786.2 L181.3 788.1 L181.6 774.2 L182.2 798.0 L182.7 787.1 L183.2 773.7 L183.7 780.5 L184.2 780.1 L184.8 786.7 L185.3 789.8 L185.7 786.9 L186.0 787.0 L186.2 772.9 L186.8 809.0 L187.2 797.7 L187.6 780.4 L188.1 793.4 L188.6 785.3 L189.2 810.0 L189.8 791.5 L190.4 781.6 L190.9 786.3 L191.4 789.9 L191.7 789.4 L192.1 785.2 L192.6 768.6 L193.2 794.4 L193.6 784.9 L193.9 787.9 L194.2 770.0 L194.6 787.3 L195.0 798.1 L195.6 809.8 L196.0 784.6 L196.4 763.0 L196.7 788.7 L197.1 799.9 L197.6 786.6 L198.0 774.9 L198.6 784.3 L199.2 769.4 L199.7 781.8 L200.2 801.9 L200.8 779.5 L201.4 756.7 L201.7 791.9 L202.2 802.9 L202.5 801.3 L202.9 782.9 L203.4 783.9 L203.8 783.4 L204.2 780.0 L204.5 789.7 L205.1 783.7 L205.4 779.2 L205.8 785.2 L206.1 784.2 L206.7 784.5 L207.0 757.3 L207.5 777.8 L208.1 770.7 L208.5 770.9 L209.0 786.8 L209.5 774.1 L210.0 804.5 L210.5 802.7 L211.0 791.7 L211.3 788.6 L212.0 789.9 L212.4 787.1 L212.7 773.6 L213.2 782.7 L213.5 783.6 L213.9 787.2 L214.2 778.5 L214.8 787.8 L215.1 787.8 L215.4 798.3 L215.9 788.8 L216.3 791.1 L216.6 776.3 L217.1 788.8 L217.6 799.6 L218.0 794.6 L218.5 774.8 L218.9 794.5 L219.2 776.6 L219.8 797.4 L220.3 806.2 L220.6 784.4 L221.0 790.0 L221.6 790.3 L222.1 796.2 L222.6 770.8 L223.0 795.8 L223.5 798.8 L223.9 794.9 L224.2 771.2 L224.5 771.4 L224.8 808.6 L225.4 774.0 L226.1 788.8 L226.7 788.6 L227.3 780.9 L227.6 794.7 L228.2 788.2 L228.6 772.9 L229.1 783.5 L229.5 785.1 L229.8 784.2 L230.0 813.7 L230.3 789.0 L230.8 812.4 L231.1 785.8 L231.6 808.2 L232.2 820.2 L232.6 808.0 L233.0 821.3 L233.6 784.3 L234.1 797.8 L234.6 800.5 L234.9 795.4 L235.2 780.6 L235.7 799.9 L236.0 810.8 L236.4 796.7 L237.0 793.9 L237.3 794.7 L237.9 788.0 L238.4 797.1 L239.0 806.7 L239.5 790.0 L240.0 822.0 L240.4 801.9 L240.9 795.8 L241.5 803.3 L241.8 797.5 L242.4 791.2 L242.7 789.4 L243.2 818.1 L243.7 822.1 L244.0 808.9 L244.4 794.2 L244.9 796.2 L245.0 801.9 L245.6 786.8 L246.2 794.9 L246.7 797.8 L247.3 778.0 L247.6 795.8 L248.1 802.8 L248.7 794.5 L249.2 801.5 L249.7 794.0 L250.3 809.6 L250.7 803.9 L251.0 773.9 L251.4 801.8 L252.0 809.5 L252.7 779.5 L253.2 789.4 L253.8 775.4 L254.3 791.9 L254.8 791.6 L255.3 770.2 L255.7 788.5 L256.1 807.2 L256.7 790.1 L257.0 790.5 L257.3 792.5 L257.7 778.2 L258.2 771.6 L258.9 787.3 L259.5 789.8 L260.1 789.1 L260.5 785.9 L261.0 792.4 L261.6 776.6 L262.1 778.0 L262.7 809.4 L263.3 795.2 L263.8 783.6 L264.3 774.7 L264.8 773.4 L265.2 789.2 L265.8 791.7 L266.1 794.2 L266.5 784.2 L267.0 785.9 L267.4 796.1 L267.9 803.4 L268.2 787.8 L268.6 787.9 L269.1 804.1 L269.6 807.2 L269.9 777.5 L270.2 782.3 L270.7 790.7 L271.2 792.8 L271.7 787.3 L272.1 808.9 L272.6 802.9 L272.9 784.1 L273.3 787.1 L274.0 771.4 L274.3 788.7 L274.7 774.5 L275.0 793.4 L275.4 807.1 L275.8 781.6 L276.2 804.4 L276.4 787.7 L277.0 768.6 L277.4 806.6 L277.9 789.0 L278.4 787.7 L278.9 783.6 L279.6 787.9 L280.0 788.6 L280.4 785.9 L280.8 776.7 L281.2 791.1 L281.8 793.6 L282.1 786.5 L282.5 791.1 L283.1 803.5 L283.5 789.5 L283.7 797.6 L284.1 783.1 L284.4 785.1 L284.9 796.5 L285.4 792.4 L286.0 789.3 L286.4 792.5 L287.0 792.9 L287.6 801.5 L287.9 782.4 L288.5 791.1 L289.1 782.4 L289.4 788.9 L289.9 805.7 L290.3 795.5 L290.8 790.0 L291.4 804.4 L291.9 784.4 L292.2 789.1 L292.7 784.7 L293.0 790.1 L293.6 797.3 L294.0 784.6 L294.3 798.7 L294.6 776.6 L295.0 793.7 L295.0 793.7 L295.5 785.2 L296.0 806.3 L296.4 808.3 L296.7 801.8 L297.1 820.8 L297.5 789.5 L297.8 790.0 L298.5 795.8 L298.8 797.2 L299.1 791.5 L299.7 783.3 L300.2 793.0 L300.5 800.8 L301.1 798.1 L301.4 791.7 L301.8 796.9 L302.2 792.5 L302.6 789.4 L303.1 798.0 L303.4 814.5 L303.7 789.2 L304.4 788.5 L304.8 792.8 L305.4 811.9 L305.8 798.5 L306.3 818.7 L306.7 784.7 L307.2 798.0 L307.8 798.1 L308.3 801.3 L308.9 801.0 L309.4 811.0 L309.9 797.4 L310.5 791.3 L311.1 797.2 L311.7 797.8 L312.1 799.0 L312.7 798.7 L313.1 818.0 L313.6 799.1 L314.2 803.6 L314.8 797.8 L315.0 799.3 L315.6 813.4 L316.1 798.6 L316.4 789.2 L316.8 785.2 L317.5 817.9 L318.0 786.4 L318.6 817.9 L319.1 776.5 L319.4 803.3 L319.9 798.3 L320.3 800.5 L320.7 811.3 L321.0 797.8 L321.4 823.7 L322.0 796.6 L322.3 792.7 L322.6 797.9 L323.1 788.1 L323.7 797.5 L324.1 792.0 L324.5 799.5 L324.9 810.2 L325.4 778.6 L326.0 809.2 L326.6 823.9 L326.9 814.2 L327.4 804.3 L328.1 794.6 L328.6 823.7 L329.1 798.7 L329.5 806.0 L329.8 798.6 L330.3 803.2 L330.9 798.9 L331.4 815.1 L331.8 814.7 L332.4 801.7 L333.1 795.3 L333.4 806.8 L333.9 776.5 L334.3 797.3 L334.8 799.2 L335.0 792.6 L335.4 799.7 L335.7 804.2 L336.0 798.9 L336.3 800.1 L336.8 799.1 L337.2 799.1 L337.8 798.5 L338.2 796.5 L338.7 794.4 L339.2 793.2 L339.6 795.4 L340.1 812.0 L340.4 798.0 L340.9 798.1 L341.4 800.1 L341.8 796.0 L342.3 804.2 L342.8 811.2 L343.0 796.0 L343.4 796.5 L343.8 789.9 L344.2 813.8 L344.7 798.2 L345.1 799.0 L345.4 796.7 L345.9 802.7 L346.2 800.2 L346.6 803.5 L346.9 798.8 L347.5 790.5 L348.0 800.4 L348.6 795.5 L348.9 789.9 L349.3 802.4 L349.6 795.1 L350.0 802.1 L350.5 800.1 L350.9 805.8 L351.5 805.2 L352.1 800.9 L352.5 792.3 L353.1 814.3 L353.5 810.0 L353.9 809.6 L354.4 794.0 L354.7 801.8 L355.1 804.3 L355.7 793.3 L356.2 804.2 L356.8 805.0 L357.2 804.7 L357.7 799.9 L358.0 807.7 L358.3 799.1 L358.8 800.2 L359.4 793.3 L359.8 801.0 L360.0 806.7 L360.6 799.7 L360.9 796.3 L361.4 808.2 L361.9 799.4 L362.2 797.6 L362.7 786.0 L363.2 802.1 L363.8 806.0 L364.2 810.6 L364.5 798.0 L365.1 802.1 L365.6 797.7 L366.0 788.8 L366.5 799.9 L367.0 797.5 L367.5 802.6 L367.9 786.2 L368.3 792.0 L368.9 797.2 L369.6 797.7 L370.0 794.4 L370.6 790.4 L371.0 788.6 L371.4 797.0 L371.9 790.1 L372.5 802.4 L373.0 796.7 L373.6 794.8 L374.1 798.9 L374.5 783.6 L374.8 804.4 L375.3 789.6 L375.9 805.0 L376.2 789.9 L376.6 796.6 L377.0 796.0 L377.6 810.5 L378.1 796.0 L378.6 796.4 L378.9 796.3 L379.3 783.6 L379.9 786.1 L380.5 796.2 L381.0 787.8 L381.3 795.3 L381.9 803.4 L382.2 803.7 L382.7 796.4 L383.3 794.6 L383.6 797.1 L384.0 803.8 L384.3 797.9 L384.8 804.5 L385.3 788.7 L385.7 798.4 L386.2 791.8 L386.8 791.6 L387.4 808.4 L387.9 796.1 L388.3 803.7 L388.6 795.8 L389.2 785.8 L389.4 795.4 L390.0 791.5 L390.0 812.1 L390.4 793.5 L390.8 789.5 L391.2 783.3 L391.6 818.2 L392.0 793.4 L392.4 812.9 L393.0 818.2 L393.6 799.0 L394.0 797.9 L394.5 808.1 L395.1 800.5 L395.6 787.0 L396.2 818.5 L396.6 797.6 L396.9 788.0 L397.3 813.2 L397.9 801.7 L398.4 797.7 L399.0 790.7 L399.4 784.8 L399.8 802.4 L400.4 782.3 L400.7 800.6 L401.1 782.0 L401.6 798.1 L402.1 786.2 L402.7 791.4 L403.0 795.2 L403.5 790.3 L404.0 797.2 L404.6 778.7 L405.2 800.9 L405.6 800.5 L405.9 798.3 L406.4 815.8 L406.7 798.1 L407.2 779.9 L407.6 804.6 L408.2 799.2 L408.5 807.6 L408.9 790.5 L409.4 813.4 L409.7 795.0 L410.1 781.1 L410.7 782.1 L411.0 798.1 L411.5 788.5 L411.8 798.5 L412.2 780.1 L412.7 812.0 L413.0 792.6 L413.6 794.1 L414.1 785.2 L414.6 815.3 L415.0 795.9 L415.3 788.9 L415.9 802.4 L416.3 791.7 L416.8 798.4 L417.3 788.5 L417.6 798.6 L418.0 783.7 L418.6 798.2 L419.1 805.8 L419.7 808.2 L420.0 801.7 L420.6 797.6 L420.9 787.9 L421.2 788.5 L421.8 798.3 L422.2 807.2 L422.8 795.8 L423.4 793.7 L423.7 816.1 L424.1 816.4 L424.7 802.9 L425.3 812.1 L425.6 814.8 L426.0 794.1 L426.3 793.1 L426.6 796.4 L427.1 802.7 L427.4 796.9 L428.0 809.7 L428.4 784.8 L428.9 813.3 L429.3 800.1 L429.7 803.9 L430.1 810.1 L430.7 812.7 L431.0 798.4 L431.4 789.2 L431.9 817.1 L432.6 798.3 L433.2 798.3 L433.6 789.3 L434.0 816.7 L434.6 811.0 L435.1 797.5 L435.5 798.3 L435.9 785.7 L436.4 817.6 L437.0 795.7 L437.5 795.5 L437.9 795.6 L438.3 799.1 L438.8 813.6 L439.2 794.5 L439.7 798.3 L440.1 817.7 L440.4 811.3 L441.0 815.6 L441.4 789.7 L441.7 795.3 L442.2 797.5 L442.5 795.4 L442.9 808.2 L443.2 791.1 L443.6 794.8 L444.2 785.4 L444.7 795.7 L445.0 792.2 L445.4 810.3 L445.7 796.6 L446.0 807.2 L446.5 803.9 L446.9 816.7 L447.5 792.2 L447.9 788.9 L448.2 790.5 L448.7 806.3 L449.3 797.1 L449.9 805.0 L450.2 787.2 L450.7 790.1 L451.2 791.3 L451.6 786.4 L452.0 801.3 L452.3 804.1 L452.7 802.5 L452.9 791.8 L453.5 798.1 L453.9 793.3 L454.5 796.7 L455.0 796.3 L455.4 814.4 L455.9 787.0 L456.3 787.9 L456.9 795.6 L457.4 796.7 L457.7 809.1 L458.1 797.3 L458.5 796.8 L459.1 791.8 L459.6 814.9 L460.0 796.9 L460.4 813.2 L461.0 813.3 L461.6 795.0 L462.0 791.9 L462.4 795.8 L462.8 795.1 L463.4 796.0 L463.9 796.3 L464.4 799.8 L464.7 812.8 L465.0 791.9 L465.6 799.8 L466.1 793.1 L466.6 784.9 L467.2 795.0 L467.6 811.6 L468.0 792.6 L468.5 795.5 L468.9 791.0 L469.3 796.1 L469.7 800.4 L470.0 791.1 L470.5 796.3 L471.1 808.3 L471.4 778.6 L472.0 797.2 L472.5 804.0 L472.8 781.4 L473.1 793.4 L473.6 800.7 L474.0 798.7 L474.5 795.8 L475.1 788.0 L475.6 806.6 L475.9 778.2 L476.5 804.4 L476.9 796.1 L477.2 804.1 L477.8 811.8 L478.1 780.7 L478.6 793.8 L479.1 796.0 L479.5 780.7 L479.9 795.4 L480.4 796.9 L480.6 793.5 L481.0 811.8 L481.5 788.0 L481.9 797.6 L482.4 793.5 L482.7 797.2 L483.2 798.3 L483.6 803.6 L484.2 799.6 L484.6 795.8 L485.0 810.6 L485.4 786.1 L486.0 798.9 L486.4 807.4 L487.0 790.8 L487.3 789.9 L487.9 796.7 L488.3 801.7 L488.7 810.9 L489.2 798.7 L489.5 801.0 L490.0 800.3 L490.6 797.9 L491.1 785.2 L491.7 798.2 L492.1 800.6 L492.7 800.9 L493.2 806.8 L493.7 801.4 L494.1 785.9 L494.6 811.0 L495.2 797.6 L495.5 811.1 L495.9 812.0 L496.5 795.1 L497.1 795.7 L497.6 793.7 L498.2 793.4 L498.7 800.0 L499.1 795.3 L499.7 807.3 L500.0 806.7 L500.4 807.5 L500.9 799.1 L501.3 786.4 L501.6 798.4 L502.0 784.6 L502.5 810.1 L502.8 799.8 L503.4 791.6 L503.9 801.6 L504.3 801.4 L504.7 785.0 L505.0 805.2 L505.5 806.7 L505.8 802.1 L506.3 802.2 L506.8 817.6 L507.2 806.9 L507.7 796.2 L508.3 800.0 L508.6 802.8 L509.1 800.1 L509.8 830.9 L510.1 799.4 L510.4 803.7 L510.8 803.7 L511.3 807.1 L511.7 796.0 L512.0 796.6 L512.5 797.6 L512.9 789.6 L513.4 809.3 L514.0 804.8 L514.5 813.0 L515.1 794.5 L515.7 821.5 L516.4 789.8 L516.7 808.6 L517.2 804.9 L517.7 827.4 L518.0 822.7 L518.4 802.7 L518.7 793.0 L519.1 796.7 L519.7 801.8 L520.1 829.8 L520.7 797.2 L521.3 801.5 L521.7 798.3 L522.3 816.9 L522.9 801.8 L523.3 800.3 L523.9 815.9 L524.4 799.8 L524.7 803.2 L525.0 793.9 L525.6 806.6 L526.1 798.4 L526.5 783.1 L527.1 809.5 L527.6 789.1 L528.1 797.8 L528.6 797.3 L529.2 780.5 L529.6 807.1 L529.9 790.2 L530.4 810.6 L530.8 781.0 L531.3 785.4 L531.9 788.7 L532.2 776.5 L532.5 797.8 L533.0 795.5 L533.4 801.4 L533.9 777.1 L534.2 809.9 L534.6 791.6 L534.9 810.1 L535.2 794.1 L535.8 794.7 L536.3 791.3 L536.9 784.7 L537.5 794.4 L537.8 793.3 L538.1 806.4 L538.6 801.5 L539.0 793.4 L539.3 794.1 L539.9 808.0 L540.3 805.6 L540.7 809.9 L541.2 804.3 L541.6 805.7 L542.0 778.5 L542.6 784.8 L542.9 792.9 L543.4 790.8 L544.0 792.5 L544.5 791.6 L544.8 787.1 L545.0 789.0 L545.4 805.4 L546.0 791.4 L546.4 790.9 L546.8 791.9 L547.4 792.2 L547.8 790.9 L548.2 790.9 L548.7 790.3 L549.2 788.2 L549.5 803.9 L550.1 793.0 L550.8 790.5 L551.3 790.2 L551.6 807.4 L552.1 807.3 L552.6 788.5 L553.0 774.5 L553.6 789.1 L553.9 789.4 L554.4 803.7 L555.0 789.5 L555.4 793.6 L555.8 783.5 L556.4 784.7 L557.0 771.0 L557.4 789.7 L557.9 789.9 L558.3 792.9 L558.7 780.2 L559.2 789.5 L559.6 783.8 L560.1 802.2 L560.6 781.6 L561.1 793.8 L561.5 772.2 L561.8 790.2 L562.4 804.2 L562.8 790.9 L563.4 791.4 L563.7 784.4 L564.2 789.7 L564.7 790.9 L565.0 814.9 L565.6 796.4 L566.1 791.6 L566.5 776.8 L566.9 786.7 L567.5 794.2 L567.8 819.7 L568.4 810.2 L568.8 810.8 L569.1 781.9 L569.7 797.8 L570.1 791.7 L570.6 805.6 L571.2 771.7 L571.8 789.9 L572.0 792.7 L572.6 806.2 L573.2 818.0 L573.7 793.3 L574.1 771.5 L574.5 805.9 L575.0 792.1 L575.5 792.5 L576.1 772.9 L576.6 799.8 L577.0 771.7 L577.5 793.0 L578.1 789.4 L578.5 776.0 L578.8 771.6 L579.2 791.7 L579.5 808.4 L580.0 785.6 L580.5 792.2 L580.9 796.3 L581.4 790.1 L581.8 798.0 L582.3 802.5 L582.6 793.6 L582.9 794.9 L583.5 810.1 L584.0 791.0 L584.5 791.3 L584.9 808.2 L585.3 807.1 L585.7 817.9 L586.2 789.3 L586.9 760.8 L587.2 794.8 L587.7 789.6 L588.1 799.7 L588.4 782.0 L588.7 817.1 L589.2 779.7 L589.8 789.2 L590.1 792.2 L590.7 755.6 L591.0 808.4 L591.5 765.3 L591.8 764.7 L592.4 778.1 L592.8 797.3 L593.3 761.2 L593.9 812.2 L594.5 788.3 L595.1 755.7 L595.5 797.1 L596.0 788.5 L596.4 786.4 L597.0 782.5 L597.3 792.2 L597.6 785.6 L597.9 789.3 L598.3 765.4 L598.7 793.9 L599.3 774.4 L599.8 767.7" fill="none" stroke="#f00" stroke-width="4.5" stroke-dasharray="0.01 8.8" stroke-linejoin="miter" stroke-linecap="square"/>
<path d="M76.40 747.88H82.20M643.50 747.88H637.70M76.40 793.75H82.20M643.50 793.75H637.70M76.40 839.62H82.20M643.50 839.62H637.70M265.43 702.00V707.80M265.43 885.50V879.70M454.47 702.00V707.80M454.47 885.50V879.70" stroke="#4a4a4a" stroke-width="1.6" fill="none"/>
<rect x="76.40" y="702.00" width="567.10" height="183.50" fill="none" stroke="#707070" stroke-width="1.8"/>
<text x="51.47" y="711.09" font-size="25.40" fill="#262626" xml:space="preserve">2</text>
<polygon points="61.23,756.97 61.23,739.46 59.35,739.46 54.65,743.38 54.78,745.54 58.81,742.87 58.81,756.97" fill="#262626"/>
<text x="51.47" y="802.84" font-size="25.40" fill="#262626" xml:space="preserve">0</text>
<text x="43.02" y="848.72" font-size="25.40" fill="#262626" xml:space="preserve">-</text><polygon points="61.23,848.72 61.23,831.21 59.35,831.21 54.65,835.13 54.78,837.29 58.81,834.62 58.81,848.72" fill="#262626"/>
<text x="43.02" y="894.59" font-size="25.40" fill="#262626" xml:space="preserve">-2</text>
<text x="87.55" y="871.25" font-size="24.95" fill="#000" xml:space="preserve">DOY 086</text>
<path d="M73.80 978.25H645.80M73.80 1027.10H645.80M73.80 1075.95H645.80M264.47 929.40V1124.80M455.13 929.40V1124.80" stroke="#dedede" stroke-width="1.5" fill="none"/>
<path d="M137.0 1009.6 L137.3 1036.5 L137.8 1036.9 L138.2 1046.0 L138.5 1030.5 L138.9 1030.2 L139.4 1034.7 L139.9 1046.5 L140.4 1063.7 L140.8 1031.0 L141.1 1010.8 L141.7 1030.6 L142.1 1064.0 L142.6 1019.1 L143.2 1029.4 L143.7 1055.2 L144.2 1064.0 L144.7 1022.8 L145.0 1028.5 L145.4 1034.6 L145.9 1028.0 L146.3 1027.2 L146.8 1010.5 L147.2 1027.3 L147.7 1026.3 L148.2 969.1 L148.6 1000.0 L148.9 977.7 L149.2 1040.4 L149.8 974.0 L150.1 1025.9 L150.6 990.2 L150.9 984.0 L151.4 1030.5 L151.9 1024.1 L152.3 1040.7 L152.9 1027.4 L153.3 1025.9 L153.9 982.8 L154.5 1008.8 L155.0 1027.3 L155.5 1038.5 L156.0 1020.5 L156.4 1020.0 L156.9 1026.9 L157.3 1022.8 L157.9 1029.4 L158.5 1042.4 L158.9 1029.9 L159.3 1019.3 L159.8 1018.0 L160.2 1015.7 L160.7 1042.1 L161.2 1030.5 L161.5 1030.6 L161.9 1030.2 L162.3 1026.5 L162.9 1033.7 L163.2 1022.8 L163.8 1056.5 L164.3 1034.8 L164.9 1021.7 L165.0 1056.9 L165.6 981.9 L166.1 1032.1 L166.5 991.7 L166.9 1036.4 L167.2 1025.0 L167.5 1059.2 L167.9 1001.9 L168.3 1025.7 L168.7 1026.8 L169.4 999.3 L169.9 998.6 L170.4 1035.0 L171.0 988.3 L171.4 1003.6 L171.9 1002.9 L172.3 984.5 L172.8 1022.8 L173.2 1003.9 L173.6 1003.2 L174.1 1041.1 L174.5 1062.9 L175.0 1037.4 L175.3 1035.0 L175.9 961.6 L176.3 1022.4 L176.8 1027.0 L177.5 978.3 L177.8 1026.3 L178.1 1013.9 L178.7 1028.6 L179.1 1048.6 L179.5 998.3 L179.9 1001.2 L180.3 1010.9 L180.6 1023.5 L181.1 1020.7 L181.6 1014.1 L181.9 1012.7 L182.5 1005.1 L182.9 1010.1 L183.5 971.8 L183.9 1052.3 L184.4 987.9 L184.9 1000.3 L185.5 971.7 L185.9 960.7 L186.3 981.4 L186.9 1016.7 L187.5 1039.0 L188.0 1015.7 L188.4 995.5 L188.7 1024.3 L189.0 1019.7 L189.6 1017.9 L189.9 1002.4 L190.0 987.2 L190.5 1012.5 L191.1 991.7 L191.5 1005.7 L192.1 1030.4 L192.5 1005.9 L192.8 1010.5 L193.4 1016.8 L193.9 1000.2 L194.4 1017.3 L194.9 992.0 L195.4 1014.8 L195.7 1014.2 L196.1 997.3 L196.5 1037.5 L196.9 1020.8 L197.4 1019.8 L198.0 1014.7 L198.5 1037.8 L198.8 1010.4 L199.1 1018.7 L199.5 1016.4 L200.1 1007.6 L200.4 1023.1 L200.7 987.5 L201.1 1026.2 L201.7 1018.6 L202.3 1022.4 L202.7 1027.8 L203.1 999.2 L203.6 1027.6 L204.2 1021.3 L204.7 1009.9 L205.0 1019.7 L205.4 1015.1 L205.9 1062.3 L206.3 1015.2 L206.8 1021.9 L207.2 1036.1 L207.7 1039.0 L208.2 1033.7 L208.7 1025.6 L209.1 1026.1 L209.5 1003.8 L210.0 1025.4 L210.5 1045.2 L211.0 1026.6 L211.6 1027.7 L212.0 1025.1 L212.5 1025.6 L213.1 1016.0 L213.6 1003.8 L214.0 1011.0 L214.5 1036.8 L215.0 1037.8 L215.5 1038.8 L216.0 1023.8 L216.4 1022.3 L217.0 1001.8 L217.5 1017.5 L217.9 1021.9 L218.5 1032.4 L219.0 1003.8 L219.4 1008.3 L220.0 1024.5 L220.3 1017.5 L220.8 1020.5 L221.3 1040.5 L221.7 984.7 L222.0 1015.9 L222.5 1019.6 L222.8 1014.9 L223.2 985.0 L223.7 1021.2 L224.1 1016.0 L224.4 1013.1 L224.8 1013.4 L225.4 1052.3 L226.0 1020.6 L226.4 1026.2 L227.0 1020.0 L227.4 1020.9 L228.0 1051.7 L228.6 1027.5 L229.0 1040.1 L229.6 1003.0 L230.0 1007.8 L230.0 1015.7 L230.6 1017.3 L230.9 1022.1 L231.5 1045.4 L231.9 1023.3 L232.2 1003.9 L232.7 1014.8 L233.0 1023.0 L233.5 1032.5 L234.1 1021.2 L234.6 995.7 L234.9 1021.7 L235.2 1008.5 L235.8 1032.7 L236.1 1022.7 L236.6 1022.2 L237.1 1033.1 L237.5 1022.4 L237.8 1018.0 L238.3 1022.4 L238.7 1046.8 L239.1 1032.0 L239.5 1010.4 L240.1 1046.7 L240.5 1024.9 L240.8 1023.4 L241.3 1013.6 L241.9 1025.2 L242.2 1030.6 L242.6 1043.8 L243.0 1023.3 L243.3 1038.7 L243.9 1030.2 L244.5 1023.2 L244.9 1003.4 L245.0 1034.8 L245.6 1043.8 L246.2 1024.7 L246.8 1001.8 L247.2 1025.1 L247.6 1013.4 L248.0 1025.4 L248.5 1055.6 L249.0 1008.5 L249.5 1025.9 L250.1 1039.9 L250.6 1014.9 L251.2 1017.5 L251.7 1022.8 L252.0 1005.8 L252.3 1024.1 L252.8 1033.1 L253.3 1008.2 L253.9 1008.4 L254.5 996.3 L254.7 1044.1 L255.0 1011.3 L255.6 1016.2 L256.2 1018.3 L256.6 1025.7 L256.9 1028.4 L257.5 1017.8 L258.0 1023.6 L258.4 1008.8 L258.9 1021.5 L259.5 1022.9 L260.1 1027.3 L260.5 1039.9 L260.9 1036.2 L261.5 1019.3 L262.1 1026.6 L262.5 1037.9 L262.9 1029.0 L263.3 1026.8 L263.6 1026.7 L264.2 1017.6 L264.7 1014.2 L265.3 1028.8 L265.6 1045.6 L266.2 1033.7 L266.7 1037.0 L267.0 1028.4 L267.3 1026.6 L267.8 1012.5 L268.2 1024.3 L268.7 1045.8 L269.2 1031.0 L269.6 1049.0 L270.1 1029.8 L270.5 1024.0 L271.0 1023.5 L271.4 1021.1 L272.0 1041.1 L272.3 1031.6 L272.9 1045.3 L273.4 1030.5 L273.7 1036.4 L274.3 1026.5 L274.8 1051.0 L275.3 1050.3 L275.7 1040.6 L276.2 1024.9 L276.8 1032.3 L277.4 1025.8 L277.9 1031.7 L278.2 1045.1 L278.5 1046.8 L278.9 1031.3 L279.4 1032.3 L279.7 1048.2 L280.0 1039.0 L280.3 1064.0 L280.9 1037.0 L281.2 1032.7 L281.6 1023.6 L281.9 1066.0 L282.5 1057.7 L283.0 1031.2 L283.3 1028.7 L283.8 1068.7 L284.2 1031.3 L284.5 1032.4 L285.1 1019.7 L285.7 1033.8 L286.3 1027.3 L286.9 1019.0 L287.2 1044.6 L287.5 1032.3 L288.1 1034.3 L288.4 1027.9 L289.0 1036.0 L289.3 1041.1 L289.6 1029.7 L290.1 1033.6 L290.6 1027.3 L291.0 1032.2 L291.4 1057.8 L292.0 1030.1 L292.4 1022.3 L292.9 1032.9 L293.4 1027.8 L293.7 1028.0 L294.2 1029.1 L294.6 1047.4 L294.9 1042.3 L295.0 1033.1 L295.6 1033.1 L296.1 1024.5 L296.7 1023.2 L297.0 1037.3 L297.4 1013.5 L297.9 1021.8 L298.4 1030.9 L298.9 1013.6 L299.3 1015.4 L299.8 1020.4 L300.1 1048.0 L300.6 1043.9 L301.2 1051.5 L301.7 1051.6 L302.3 1039.1 L302.8 1046.5 L303.4 1032.8 L304.0 1042.4 L304.2 1034.9 L304.9 1027.2 L305.4 1029.7 L305.9 1029.6 L306.5 1033.3 L307.1 1031.9 L307.5 1038.5 L308.0 1028.9 L308.5 1033.2 L309.1 1023.7 L309.4 1027.9 L309.9 1024.6 L310.0 1028.0 L310.5 1034.4 L310.9 1011.8 L311.3 1028.4 L311.8 1031.1 L312.1 1044.7 L312.5 1018.4 L312.8 1037.0 L313.1 1010.5 L313.7 1024.1 L314.0 1023.2 L314.4 1025.5 L314.9 1021.7 L315.3 1031.2 L315.8 1031.4 L316.3 1020.3 L316.9 1022.5 L317.3 1023.2 L317.6 1044.7 L318.2 1010.8 L318.7 1040.8 L319.1 1025.6 L319.4 1022.5 L319.8 1021.9 L320.5 1023.0 L320.8 1022.8 L321.4 1019.6 L321.7 1022.3 L322.3 1005.6 L322.7 1010.4 L323.2 1024.5 L323.7 1031.6 L324.3 1039.8 L324.8 1008.9 L325.4 1026.3 L326.0 1021.5 L326.4 1023.2 L327.0 1041.8 L327.5 1026.6 L328.1 1027.0 L328.6 1030.9 L329.2 1018.8 L329.7 1043.5 L330.0 1031.1 L330.5 1032.0 L331.0 1029.5 L331.5 1028.7 L331.9 1042.2 L332.4 1043.9 L332.8 1031.8 L333.4 1035.3 L333.8 1032.2 L334.4 1032.4 L335.0 1028.4 L335.3 1032.5 L335.7 1032.2 L336.2 1038.3 L336.7 1034.3 L337.1 1049.8 L337.4 1048.5 L337.7 1036.7 L338.3 1039.2 L338.9 1036.1 L339.5 1029.3 L339.8 1044.7 L340.1 1036.0 L340.7 1031.1 L341.1 1029.8 L341.4 1036.6 L341.8 1031.1 L342.2 1046.5 L342.5 1035.6 L342.8 1033.6 L343.4 1036.3 L344.0 1035.9 L344.6 1044.6 L345.1 1027.8 L345.7 1035.3 L346.3 1034.0 L346.7 1033.8 L347.0 1044.2 L347.6 1033.7 L348.2 1029.2 L348.7 1029.9 L349.1 1031.7 L349.5 1029.1 L349.9 1036.5 L350.0 1033.5 L350.4 1034.8 L350.8 1036.2 L351.1 1033.8 L351.5 1033.7 L351.9 1038.6 L352.4 1034.2 L352.7 1018.3 L353.3 1019.6 L353.9 1033.4 L354.2 1032.8 L354.5 1032.7 L354.9 1028.9 L355.3 1038.1 L355.6 1032.5 L355.9 1033.6 L356.5 1026.4 L356.9 1037.2 L357.3 1035.8 L357.8 1024.2 L358.2 1031.9 L358.8 1031.2 L359.1 1027.5 L359.5 1031.3 L359.8 1032.4 L360.3 1032.8 L360.8 1019.1 L361.2 1027.1 L361.6 1038.6 L362.0 1032.6 L362.3 1044.6 L362.8 1030.2 L363.2 1038.3 L363.4 1040.5 L364.0 1030.4 L364.2 1024.6 L364.5 1029.8 L364.9 1034.8 L365.1 1029.5 L365.7 1030.1 L366.3 1031.8 L366.8 1035.7 L367.2 1029.4 L367.7 1029.1 L368.0 1034.1 L368.4 1030.0 L368.8 1033.8 L369.3 1014.6 L369.7 1034.9 L370.0 1034.3 L370.4 1024.6 L370.8 1041.4 L371.2 1022.3 L371.7 1029.8 L372.0 1035.7 L372.7 1026.1 L373.2 1015.2 L373.9 1023.8 L374.4 1029.2 L374.7 1029.5 L375.1 1020.3 L375.5 1014.6 L376.1 1023.9 L376.5 1042.0 L376.8 1017.5 L377.4 1031.0 L378.0 1029.8 L378.4 1030.0 L379.0 1034.5 L379.5 1029.6 L380.0 1014.9 L380.4 1019.5 L380.7 1029.6 L381.1 1017.5 L381.6 1040.0 L382.1 1030.6 L382.7 1021.4 L383.0 1027.7 L383.4 1032.8 L383.9 1029.5 L384.5 1030.1 L384.8 1028.1 L385.2 1022.5 L385.5 1025.0 L385.9 1042.2 L386.6 1023.3 L387.2 1022.8 L387.5 1028.0 L387.9 1017.7 L388.4 1020.7 L388.8 1029.4 L389.1 1028.6 L389.7 1030.4 L390.3 1019.2 L390.8 1045.7 L391.2 1032.6 L391.6 1031.5 L392.1 1027.6 L392.7 1039.1 L393.2 1029.1 L393.6 1020.2 L393.8 1030.5 L394.4 1031.0 L395.0 1030.5 L395.5 1016.4 L395.9 1024.8 L396.5 1028.4 L397.1 1014.5 L397.5 1029.9 L397.8 1028.4 L398.3 1038.9 L398.8 1043.8 L399.3 1030.3 L399.9 1025.1 L400.3 1024.9 L400.9 1032.7 L401.3 1041.3 L401.7 1025.6 L402.3 1030.2 L402.8 1036.6 L403.4 1030.1 L403.9 1035.0 L404.4 1029.8 L405.0 1012.6 L405.5 1030.0 L406.0 1013.4 L406.4 1039.0 L406.9 1022.6 L407.5 1027.7 L408.0 1041.1 L408.4 1029.2 L409.0 1028.0 L409.4 1031.8 L409.8 1030.7 L410.0 1029.9 L410.3 1034.3 L410.8 1042.4 L411.2 1031.3 L411.8 1017.9 L412.3 1034.8 L412.7 1029.9 L413.0 1026.8 L413.3 1043.0 L413.9 1026.3 L414.5 1031.5 L414.9 1032.1 L415.4 1024.6 L416.0 1032.1 L416.4 1017.1 L416.9 1036.3 L417.4 1039.3 L417.7 1027.0 L418.3 1030.3 L418.6 1029.3 L419.1 1029.6 L419.7 1031.3 L420.1 1025.8 L420.5 1050.8 L420.8 1031.1 L421.3 1038.4 L421.7 1043.6 L422.3 1031.4 L422.8 1032.4 L423.1 1047.1 L423.4 1033.7 L424.0 1046.3 L424.3 1019.8 L424.7 1024.7 L425.2 1031.8 L425.7 1052.9 L426.1 1047.1 L426.4 1020.5 L427.1 1045.0 L427.5 1033.5 L428.1 1029.4 L428.6 1035.4 L429.1 1030.9 L429.4 1031.6 L430.0 1029.1 L430.5 1029.4 L430.8 1031.5 L431.3 1019.3 L431.8 1031.8 L432.3 1024.5 L432.8 1030.3 L433.1 1031.4 L433.7 1030.8 L434.3 1038.8 L434.8 1034.7 L435.1 1019.4 L435.7 1027.6 L436.0 1048.3 L436.5 1033.4 L437.1 1050.5 L437.7 1046.5 L438.2 1028.1 L438.7 1021.3 L439.1 1017.1 L439.7 1035.2 L440.0 1035.5 L440.4 1014.0 L441.0 1013.1 L441.6 1020.3 L442.0 1019.7 L442.5 1024.6 L442.9 1030.3 L443.3 1019.1 L443.8 1044.4 L444.1 1030.1 L444.7 1030.1 L445.2 1022.3 L445.7 1015.7 L446.3 1013.7 L446.6 1032.7 L447.2 1037.7 L447.6 1030.9 L447.9 1035.7 L448.5 1033.2 L449.0 1029.6 L449.4 1029.5 L450.0 1030.1 L450.4 1030.5 L450.7 1022.4 L451.2 1040.1 L451.8 1037.6 L452.2 1034.0 L452.8 1018.0 L453.2 1039.5 L453.6 1042.7 L454.2 1022.9 L454.5 1027.4 L455.0 1029.3 L455.6 1035.6 L456.1 1039.3 L456.5 1021.5 L457.0 1029.6 L457.6 1016.6 L457.9 1018.0 L458.5 1026.3 L459.1 1031.6 L459.8 1027.8 L460.3 1019.2 L460.7 1046.6 L461.2 1027.7 L461.5 1017.7 L462.2 1028.1 L462.6 1027.1 L462.9 1027.1 L463.4 1023.1 L463.9 1041.1 L464.2 1013.0 L464.8 1015.6 L465.0 1016.8 L465.4 1024.8 L466.1 1010.6 L466.4 1018.3 L466.8 1033.2 L467.2 1027.1 L467.6 1031.5 L468.2 1025.4 L468.5 1043.8 L468.8 1014.0 L469.2 1010.5 L469.6 1026.1 L470.2 1017.8 L470.7 1025.1 L471.2 1039.0 L471.7 1026.6 L472.2 1028.8 L472.9 1023.6 L473.4 1027.4 L473.7 1015.8 L474.2 1037.4 L474.7 1001.8 L475.1 1025.1 L475.5 1014.9 L475.8 1024.4 L476.4 1038.1 L476.7 1016.8 L477.1 1036.5 L477.6 1042.4 L478.1 1034.1 L478.5 1001.5 L478.9 1027.9 L479.4 1044.6 L479.9 1015.1 L480.3 1029.7 L480.8 1037.9 L481.4 1044.3 L481.9 1027.3 L482.3 1028.2 L482.9 1042.3 L483.3 1027.4 L483.8 1036.9 L484.2 1020.0 L484.8 1023.7 L485.3 1043.5 L485.7 1043.3 L486.2 1022.6 L486.8 1016.1 L487.2 1026.2 L487.7 1020.7 L488.2 1029.3 L488.7 1029.2 L489.2 1028.9 L489.7 1024.1 L490.0 1034.6 L490.6 1018.6 L491.0 1024.1 L491.4 1019.0 L492.0 1013.5 L492.3 1028.4 L492.9 1017.8 L493.3 1017.5 L493.8 1019.8 L494.4 1036.5 L494.7 1031.5 L495.0 1044.6 L495.6 1035.8 L495.9 1012.8 L496.3 1029.4 L496.6 1034.6 L497.2 1029.0 L497.6 1029.1 L498.2 1035.6 L498.7 1048.8 L499.2 1025.3 L499.6 1028.8 L500.0 1028.5 L500.6 1015.1 L501.0 1014.0 L501.4 1020.2 L501.8 1028.2 L502.2 1026.6 L502.8 1018.5 L503.2 1026.6 L503.8 1026.4 L504.2 1026.3 L504.6 1033.4 L505.0 1029.2 L505.4 1003.7 L506.0 1013.9 L506.6 1008.9 L506.9 1028.4 L507.4 1030.3 L508.1 1026.0 L508.4 1015.0 L508.9 1034.0 L509.4 1023.1 L509.7 999.8 L510.2 1025.5 L510.7 1030.1 L511.3 1028.1 L511.8 1026.3 L512.3 1012.2 L512.6 1021.9 L513.2 1017.6 L513.8 1021.8 L514.2 1021.0 L514.6 1020.8 L515.2 1013.1 L515.9 1033.3 L516.2 1026.8 L516.8 1025.4 L517.2 1028.2 L517.9 1020.4 L518.2 1019.2 L518.7 1020.2 L519.3 1017.5 L519.6 1011.5 L520.0 1018.7 L520.6 1019.8 L520.9 1034.4 L521.5 1019.8 L522.1 1000.6 L522.4 1024.4 L523.0 1013.9 L523.5 1020.2 L524.0 1023.1 L524.4 1019.6 L525.0 1033.9 L525.4 1003.4 L525.9 1008.1 L526.2 1013.9 L526.8 1027.6 L527.2 1021.4 L527.7 1015.2 L528.0 1030.8 L528.5 1022.4 L529.1 1019.3 L529.6 1019.8 L530.0 1019.4 L530.6 1028.0 L531.0 1007.3 L531.3 1019.7 L531.6 1016.3 L532.1 1033.7 L532.7 1029.2 L533.2 1004.7 L533.5 1019.9 L534.0 1033.0 L534.3 1024.0 L534.8 1020.5 L535.2 1020.3 L535.5 1019.8 L536.1 1019.1 L536.6 1021.0 L536.9 1001.1 L537.3 1023.4 L537.7 1020.0 L538.0 1019.7 L538.6 1015.2 L539.2 1032.5 L539.6 1027.4 L539.9 1019.7 L540.5 1020.7 L541.0 1019.6 L541.4 1022.1 L541.9 1034.0 L542.4 1033.7 L543.0 1021.0 L543.5 1029.4 L543.9 1022.1 L544.3 1022.5 L544.9 1018.1 L545.4 1020.5 L546.0 1033.3 L546.5 1030.6 L546.8 1031.4 L547.3 1002.5 L547.6 1027.9 L548.1 1024.9 L548.4 1012.3 L548.9 1023.5 L549.5 1021.4 L550.0 1025.8 L550.5 1053.3 L550.8 1018.5 L551.1 1016.9 L551.4 1015.9 L551.7 1005.4 L552.2 1043.7 L552.5 1014.1 L552.8 1025.2 L553.3 1016.6 L553.7 1025.1 L554.0 1032.4 L554.6 1006.8 L555.0 1003.1 L555.5 1021.4 L556.0 1020.4 L556.4 1024.3 L556.9 1009.3 L557.4 1028.5 L558.0 1011.7 L558.4 1004.6 L558.8 1019.3 L559.3 1042.9 L559.8 1012.0 L560.4 1026.1 L560.9 1023.3 L561.6 1023.2 L562.2 1038.2 L562.8 1032.2 L563.0 1054.9 L563.7 1045.8 L564.1 1022.5 L564.7 1045.6 L565.0 1022.9 L565.4 1022.0 L565.8 1022.4 L566.3 1010.6 L566.9 1031.9 L567.5 1023.0 L568.1 1012.6 L568.6 1018.7 L569.1 1020.6 L569.5 996.9 L569.9 1023.0 L570.5 1019.5 L571.0 1018.9 L571.4 1018.9 L571.9 1011.5 L572.3 1020.2 L572.6 1002.6 L572.9 1020.7 L573.4 1018.4 L573.8 1028.6 L574.2 1002.8 L574.7 1033.5 L575.2 1006.5 L575.7 1004.6 L576.2 1022.1 L576.6 1035.2 L577.0 1015.5 L577.6 1017.6 L577.9 1000.6 L578.4 997.6 L578.8 1018.6 L579.1 1000.2 L579.6 1030.3 L580.3 1009.4 L580.7 1012.7 L581.3 999.3 L581.7 1012.1 L582.3 998.7 L582.7 1005.5 L583.2 1002.5 L583.5 995.2 L584.1 1026.2 L584.6 1010.5 L584.9 1025.8 L585.5 1009.0 L586.1 1002.9 L586.7 1003.4 L587.1 1010.7 L587.7 1012.2 L588.2 1008.6 L588.7 1009.8 L589.1 1004.3 L589.7 1000.0 L590.0 1009.0 L590.5 1011.4 L590.9 1009.4 L591.5 1013.6 L592.1 1020.2 L592.5 1017.3 L593.0 982.8 L593.4 1011.3 L593.8 1008.1 L594.1 1013.6 L594.7 997.7 L595.1 1007.8 L595.7 1000.9 L596.3 1002.5 L596.6 1010.2 L597.3 1007.7 L597.8 997.1 L598.1 986.9 L598.4 1007.7 L599.0 1008.7 L599.5 1001.1 L600.0 1005.5 L600.4 1005.8 L600.6 1001.5 L601.2 979.1 L601.5 1019.3 L602.1 1006.3 L602.6 983.9 L603.2 1011.3 L603.8 1008.6 L604.3 1017.4 L604.9 1011.2 L605.0 1008.3 L605.4 1009.4 L606.0 967.7 L606.3 1012.1 L606.8 1006.4 L607.4 1003.7 L607.8 1007.3 L608.4 1017.4 L608.7 988.1 L609.3 1030.6 L609.7 1020.4 L610.2 994.6 L610.5 997.6 L610.8 1004.8 L611.3 1001.1 L612.0 1012.1 L612.5 1041.8 L613.1 998.1 L613.6 1010.1 L614.1 1002.4 L614.5 1039.7 L614.9 980.4 L615.0 1012.5 L615.6 1005.3 L615.9 1011.8 L616.3 1032.8 L616.6 1017.2 L617.1 987.2 L617.5 1044.2 L618.0 1013.1 L618.4 981.7 L619.0 1032.6 L619.3 1014.6 L619.8 1006.5 L620.3 997.6 L620.7 1037.7 L621.1 984.8 L621.5 1021.0 L621.9 1015.6 L622.3 1041.2 L622.8 1027.0 L623.3 1015.6 L623.8 1036.9 L624.2 999.1 L624.8 1016.3 L625.0 1004.7 L625.6 1001.5 L626.1 1012.8 L626.5 1003.5 L626.8 1016.7 L627.4 1022.9 L628.0 1017.6 L628.5 1039.5 L629.1 1017.1 L629.6 1029.2 L630.2 1062.2 L630.9 1016.3 L631.2 995.4 L631.5 977.8 L631.9 1043.5 L632.6 1045.9 L632.9 1038.6 L633.5 1059.7 L633.9 1014.0 L634.4 1037.8 L634.8 995.2 L635.1 1044.8 L635.5 1022.1 L636.0 1021.1 L636.5 1066.3 L637.0 1053.3 L637.3 1044.8 L637.9 1015.1 L638.4 988.4 L639.0 1065.9 L639.3 1019.3 L639.9 1022.4 L640.2 1031.9 L640.6 982.0" fill="none" stroke="#f00" stroke-width="4.5" stroke-dasharray="0.01 8.8" stroke-linejoin="miter" stroke-linecap="square"/>
<path d="M73.80 978.25H79.60M645.80 978.25H640.00M73.80 1027.10H79.60M645.80 1027.10H640.00M73.80 1075.95H79.60M645.80 1075.95H640.00M264.47 929.40V935.20M264.47 1124.80V1119.00M455.13 929.40V935.20M455.13 1124.80V1119.00" stroke="#4a4a4a" stroke-width="1.6" fill="none"/>
<rect x="73.80" y="929.40" width="572.00" height="195.40" fill="none" stroke="#707070" stroke-width="1.8"/>
<text x="48.87" y="938.49" font-size="25.40" fill="#262626" xml:space="preserve">2</text>
<polygon points="58.63,987.34 58.63,969.84 56.75,969.84 52.05,973.75 52.18,975.91 56.21,973.24 56.21,987.34" fill="#262626"/>
<text x="48.87" y="1036.19" font-size="25.40" fill="#262626" xml:space="preserve">0</text>
<text x="40.42" y="1085.04" font-size="25.40" fill="#262626" xml:space="preserve">-</text><polygon points="58.63,1085.04 58.63,1067.54 56.75,1067.54 52.05,1071.45 52.18,1073.61 56.21,1070.94 56.21,1085.04" fill="#262626"/>
<text x="40.42" y="1133.89" font-size="25.40" fill="#262626" xml:space="preserve">-2</text>
<text x="85.15" y="1109.15" font-size="24.95" fill="#000" xml:space="preserve">DOY 079</text>
<text x="236.20" y="921.40" font-size="24.62" fill="#000" xml:space="preserve">U-blox ANN-MB-00 #2</text>
<path d="M72.30 1197.95H645.80M72.30 1243.70H645.80M72.30 1289.45H645.80M263.47 1152.20V1335.20M454.63 1152.20V1335.20" stroke="#dedede" stroke-width="1.5" fill="none"/>
<path d="M131.0 1250.3 L131.4 1269.5 L131.8 1278.0 L132.2 1246.9 L132.6 1247.0 L133.0 1247.8 L133.3 1248.7 L133.6 1249.0 L134.0 1249.5 L134.6 1262.5 L134.9 1253.5 L135.5 1274.7 L135.9 1276.6 L136.5 1236.2 L137.1 1250.0 L137.7 1246.0 L138.2 1237.1 L138.6 1232.4 L139.2 1245.2 L139.8 1242.9 L140.0 1243.0 L140.3 1246.0 L141.0 1228.6 L141.4 1248.8 L142.1 1244.3 L142.4 1253.3 L142.9 1218.0 L143.4 1247.6 L143.8 1249.5 L144.4 1242.5 L144.9 1243.4 L145.4 1233.5 L145.9 1239.3 L146.4 1242.5 L146.7 1261.8 L147.1 1250.6 L147.4 1224.9 L148.0 1241.2 L148.4 1272.5 L148.8 1228.0 L149.1 1243.5 L149.5 1267.7 L149.9 1239.3 L150.3 1271.1 L150.6 1245.1 L151.0 1241.8 L151.3 1239.4 L151.5 1253.6 L152.2 1232.7 L152.6 1228.0 L153.0 1249.6 L153.5 1246.7 L154.1 1249.7 L154.6 1261.1 L155.1 1236.7 L155.6 1248.1 L156.0 1271.3 L156.4 1270.8 L157.0 1264.4 L157.3 1231.3 L157.6 1246.7 L157.9 1245.8 L158.4 1247.3 L158.8 1245.8 L159.4 1253.1 L159.7 1260.9 L160.0 1244.3 L160.6 1245.4 L161.1 1234.2 L161.6 1266.2 L161.9 1262.6 L162.2 1216.9 L162.7 1242.2 L163.2 1256.0 L163.5 1228.4 L163.9 1213.4 L164.5 1264.0 L164.8 1244.7 L165.3 1264.9 L165.6 1278.4 L166.1 1259.2 L166.4 1211.5 L166.9 1238.5 L167.3 1238.0 L167.7 1244.6 L168.1 1226.8 L168.4 1267.9 L168.9 1267.4 L169.3 1243.4 L169.9 1251.2 L170.0 1237.9 L170.3 1229.3 L170.7 1254.1 L171.2 1245.9 L171.7 1276.0 L172.2 1243.9 L172.6 1246.4 L173.1 1242.2 L173.7 1199.4 L174.1 1253.2 L174.8 1231.7 L175.2 1258.7 L175.9 1215.2 L176.2 1257.3 L176.5 1248.9 L177.1 1202.6 L177.6 1234.8 L178.0 1250.6 L178.6 1241.5 L179.1 1297.8 L179.7 1239.5 L180.0 1235.3 L180.4 1235.8 L181.0 1215.9 L181.4 1229.5 L181.9 1228.5 L182.4 1231.2 L183.0 1233.7 L183.5 1215.5 L184.0 1240.1 L184.3 1246.7 L184.6 1247.7 L184.9 1241.6 L185.3 1248.3 L185.7 1211.0 L186.3 1236.8 L186.6 1256.4 L187.0 1236.1 L187.5 1237.1 L188.0 1248.0 L188.4 1210.6 L188.9 1260.8 L189.2 1247.3 L189.6 1204.8 L190.0 1232.1 L190.4 1220.4 L190.9 1255.2 L191.2 1226.9 L191.8 1236.8 L192.4 1232.9 L192.8 1224.3 L193.3 1256.3 L193.8 1239.1 L194.2 1236.8 L194.7 1225.3 L195.2 1227.7 L195.7 1236.8 L196.2 1252.5 L196.8 1213.7 L197.4 1225.7 L198.0 1259.6 L198.6 1245.3 L199.1 1237.5 L199.7 1260.0 L200.1 1259.1 L200.6 1240.1 L201.0 1239.5 L201.4 1246.4 L201.8 1257.8 L202.2 1224.0 L202.8 1245.5 L203.3 1242.2 L203.8 1241.2 L204.2 1248.2 L204.7 1238.0 L205.0 1221.9 L205.4 1220.3 L205.8 1227.1 L206.2 1271.4 L206.6 1240.7 L207.2 1228.3 L207.6 1243.1 L208.3 1242.0 L208.7 1241.3 L209.3 1242.1 L209.7 1228.6 L210.0 1256.8 L210.4 1243.1 L210.8 1241.8 L211.3 1244.8 L211.8 1248.7 L212.2 1243.7 L212.7 1271.2 L213.2 1243.9 L213.8 1220.9 L214.2 1250.0 L214.5 1236.0 L214.8 1245.6 L215.2 1249.1 L215.7 1241.6 L216.1 1246.2 L216.5 1254.3 L216.9 1244.1 L217.3 1245.0 L217.8 1242.7 L218.3 1244.6 L218.9 1244.5 L219.2 1244.5 L219.7 1244.7 L220.0 1242.8 L220.6 1237.8 L221.2 1246.9 L221.5 1240.3 L221.9 1262.8 L222.3 1243.8 L222.7 1249.4 L223.4 1245.3 L223.9 1236.2 L224.2 1243.9 L224.6 1238.5 L225.0 1244.5 L225.3 1237.3 L225.7 1246.7 L226.1 1241.7 L226.4 1245.8 L226.7 1267.8 L227.3 1246.6 L227.5 1241.5 L228.0 1252.6 L228.4 1227.2 L228.7 1243.1 L229.2 1246.0 L229.7 1253.7 L230.2 1242.0 L230.8 1267.1 L231.1 1247.7 L231.6 1267.2 L232.1 1243.4 L232.7 1239.3 L233.3 1245.1 L233.8 1246.6 L234.3 1242.0 L234.6 1236.9 L235.0 1247.5 L235.6 1231.3 L236.1 1247.6 L236.4 1246.2 L236.8 1234.6 L237.4 1243.0 L237.8 1258.9 L238.2 1231.3 L238.6 1236.9 L238.9 1262.3 L239.4 1241.6 L239.8 1263.9 L240.3 1238.4 L240.9 1230.6 L241.4 1245.7 L241.8 1246.7 L242.1 1237.7 L242.7 1235.9 L243.1 1246.7 L243.8 1233.9 L244.2 1241.2 L244.5 1232.5 L245.0 1232.4 L245.4 1243.0 L245.7 1243.1 L246.3 1204.2 L246.6 1230.3 L247.1 1246.6 L247.5 1256.6 L248.2 1250.5 L248.7 1247.0 L249.3 1221.8 L249.7 1261.4 L250.0 1249.6 L250.4 1250.5 L251.0 1246.5 L251.4 1264.6 L252.0 1242.2 L252.6 1239.6 L252.9 1259.8 L253.3 1251.3 L253.8 1246.7 L254.4 1249.8 L254.8 1239.7 L255.1 1252.3 L255.4 1246.0 L255.8 1237.4 L256.4 1242.7 L256.9 1247.9 L257.2 1257.8 L257.7 1246.4 L258.2 1248.3 L258.6 1247.9 L258.9 1260.3 L259.4 1242.1 L259.9 1252.2 L260.3 1247.4 L260.6 1246.9 L261.2 1246.2 L261.6 1247.7 L262.0 1249.5 L262.6 1267.2 L263.1 1255.2 L263.7 1257.1 L264.3 1254.8 L264.9 1259.3 L265.5 1269.0 L265.8 1248.6 L266.5 1240.0 L266.9 1268.6 L267.3 1259.0 L267.9 1257.6 L268.4 1248.3 L268.7 1248.8 L269.1 1248.3 L269.6 1230.7 L270.1 1251.8 L270.5 1249.5 L271.2 1246.8 L271.5 1261.3 L272.1 1247.2 L272.5 1262.1 L272.9 1252.8 L273.2 1265.7 L273.6 1248.1 L273.9 1269.5 L274.4 1245.9 L274.8 1261.9 L275.0 1248.1 L275.6 1232.8 L276.0 1236.3 L276.5 1258.9 L276.7 1274.5 L277.1 1261.8 L277.6 1249.3 L278.1 1233.0 L278.4 1263.1 L278.9 1250.0 L279.4 1227.3 L279.7 1255.7 L280.3 1276.0 L280.8 1249.6 L281.4 1245.5 L281.9 1253.4 L282.3 1246.6 L282.7 1263.6 L283.2 1248.4 L283.7 1243.7 L284.1 1254.6 L284.5 1247.5 L284.9 1254.9 L285.4 1263.5 L286.0 1235.4 L286.5 1246.2 L286.9 1268.2 L287.3 1247.6 L287.8 1237.3 L288.1 1249.9 L288.6 1245.9 L289.2 1244.2 L289.7 1228.1 L290.0 1231.9 L290.4 1247.7 L290.8 1230.9 L291.3 1240.9 L291.7 1247.3 L292.1 1245.0 L292.5 1230.6 L292.8 1244.7 L293.1 1242.9 L293.4 1244.5 L294.0 1234.5 L294.4 1242.2 L294.9 1243.7 L295.4 1257.4 L296.0 1243.2 L296.2 1238.6 L296.7 1255.3 L297.1 1243.1 L297.5 1242.8 L298.1 1243.0 L298.7 1242.6 L299.2 1258.1 L299.7 1250.8 L300.1 1237.6 L300.4 1241.9 L301.0 1237.8 L301.6 1237.8 L301.9 1241.5 L302.4 1241.5 L303.0 1230.0 L303.3 1235.1 L303.9 1238.9 L304.3 1242.5 L304.7 1235.5 L305.1 1242.2 L305.5 1240.1 L306.0 1245.4 L306.4 1243.9 L307.0 1238.0 L307.6 1242.9 L308.0 1242.9 L308.5 1238.8 L309.0 1243.1 L309.3 1241.6 L309.7 1241.0 L310.0 1248.6 L310.4 1237.1 L310.9 1246.6 L311.5 1251.3 L312.0 1245.3 L312.4 1246.8 L312.9 1241.0 L313.5 1243.0 L313.8 1255.3 L314.2 1244.2 L314.7 1236.1 L315.0 1243.2 L315.5 1236.6 L316.2 1245.0 L316.5 1241.3 L317.1 1253.4 L317.5 1247.7 L318.0 1253.7 L318.3 1245.4 L318.8 1245.5 L319.3 1238.7 L319.6 1244.3 L320.2 1260.4 L320.5 1244.0 L321.2 1246.1 L321.7 1242.4 L322.1 1244.6 L322.6 1243.3 L323.0 1246.5 L323.5 1233.5 L324.0 1248.6 L324.3 1264.3 L324.8 1251.9 L325.3 1263.7 L325.6 1233.9 L325.9 1251.7 L326.3 1248.0 L326.7 1240.5 L327.3 1249.0 L327.9 1252.1 L328.2 1243.8 L328.6 1233.6 L329.2 1247.8 L329.8 1248.2 L330.3 1241.2 L330.5 1244.2 L330.9 1262.7 L331.3 1248.1 L331.6 1239.7 L332.2 1236.3 L332.8 1254.8 L333.5 1248.1 L334.0 1252.2 L334.6 1260.8 L335.1 1250.0 L335.6 1263.4 L336.1 1247.9 L336.7 1252.2 L337.2 1247.8 L337.9 1247.2 L338.1 1247.7 L338.6 1235.1 L339.0 1241.8 L339.5 1243.6 L340.0 1245.3 L340.5 1249.1 L340.9 1250.1 L341.2 1247.5 L341.6 1246.4 L342.1 1254.6 L342.4 1246.0 L342.7 1248.7 L343.2 1238.7 L343.6 1233.3 L344.2 1248.8 L344.8 1234.3 L345.0 1241.4 L345.3 1239.4 L345.6 1247.1 L346.1 1246.3 L346.5 1238.3 L347.1 1248.6 L347.4 1250.9 L348.0 1248.4 L348.4 1247.2 L348.9 1246.3 L349.4 1249.1 L349.8 1244.8 L350.3 1238.2 L350.7 1245.1 L351.0 1247.1 L351.6 1247.8 L352.1 1244.1 L352.6 1257.3 L353.2 1247.2 L353.6 1236.5 L354.0 1252.9 L354.3 1237.0 L354.7 1251.8 L355.1 1238.6 L355.4 1243.5 L356.0 1246.5 L356.4 1246.5 L357.1 1248.5 L357.4 1248.6 L357.9 1245.1 L358.2 1246.0 L358.5 1247.7 L359.0 1247.2 L359.6 1242.6 L359.9 1238.1 L360.3 1254.3 L360.9 1245.7 L361.3 1255.2 L361.6 1244.4 L362.2 1245.8 L362.7 1248.0 L363.3 1246.3 L363.8 1235.7 L364.4 1247.6 L364.9 1240.1 L365.3 1248.8 L365.7 1246.4 L366.2 1243.7 L366.8 1246.1 L367.3 1238.0 L367.9 1236.5 L368.2 1247.2 L368.8 1249.2 L369.3 1249.9 L369.8 1253.3 L370.4 1246.5 L370.6 1244.3 L371.1 1241.1 L371.4 1247.2 L371.8 1253.3 L372.3 1243.0 L372.9 1247.5 L373.3 1250.7 L373.9 1238.1 L374.4 1248.3 L374.9 1247.0 L375.5 1248.2 L375.9 1248.0 L376.3 1234.6 L376.6 1237.9 L377.0 1246.8 L377.5 1255.5 L377.9 1248.4 L378.3 1245.9 L378.7 1248.3 L379.2 1242.6 L379.5 1246.7 L379.8 1238.4 L380.0 1248.9 L380.3 1246.3 L380.8 1248.8 L381.3 1250.9 L381.7 1249.5 L382.1 1263.2 L382.6 1248.9 L383.2 1251.3 L383.7 1248.9 L384.2 1250.6 L384.6 1249.5 L385.1 1246.5 L385.5 1249.2 L386.0 1243.3 L386.5 1249.7 L386.9 1262.4 L387.2 1255.4 L387.8 1254.8 L388.4 1246.5 L388.7 1250.3 L389.1 1250.7 L389.6 1242.4 L389.9 1251.0 L390.6 1249.8 L390.9 1247.7 L391.2 1250.5 L391.6 1243.3 L392.1 1242.3 L392.5 1257.6 L393.0 1263.5 L393.5 1249.4 L394.1 1253.2 L394.7 1251.3 L395.3 1245.5 L395.7 1243.9 L396.3 1256.4 L396.8 1249.0 L397.2 1252.7 L397.6 1239.7 L398.2 1246.5 L398.6 1244.2 L399.2 1246.7 L399.8 1254.8 L400.1 1264.4 L400.4 1249.7 L400.7 1245.6 L401.4 1244.5 L401.7 1249.7 L402.2 1251.9 L402.6 1261.0 L402.9 1257.1 L403.3 1243.8 L403.9 1246.7 L404.5 1258.5 L404.7 1242.2 L405.4 1261.8 L405.8 1253.9 L406.1 1258.1 L406.7 1248.3 L407.1 1256.6 L407.7 1248.8 L408.3 1247.4 L408.7 1239.0 L409.2 1247.6 L409.8 1246.6 L410.0 1246.8 L410.5 1254.9 L410.9 1251.7 L411.5 1256.4 L412.1 1229.5 L412.6 1247.6 L412.9 1251.9 L413.4 1233.1 L413.9 1253.6 L414.3 1246.6 L414.7 1237.9 L415.2 1248.3 L415.7 1237.5 L416.0 1257.5 L416.5 1247.1 L416.8 1241.5 L417.4 1251.2 L417.9 1232.0 L418.5 1244.4 L419.0 1241.3 L419.5 1229.7 L419.8 1250.9 L420.4 1256.4 L421.0 1248.9 L421.3 1261.4 L421.8 1238.0 L422.2 1247.0 L422.6 1234.2 L423.0 1244.7 L423.5 1251.4 L424.0 1252.3 L424.5 1245.5 L425.0 1244.6 L425.5 1228.6 L425.8 1242.5 L426.4 1263.4 L426.7 1233.6 L427.3 1262.1 L427.6 1245.7 L428.0 1256.6 L428.5 1232.8 L428.9 1245.6 L429.5 1245.3 L430.1 1245.9 L430.5 1232.1 L431.1 1229.7 L431.4 1256.8 L431.8 1249.8 L432.3 1229.6 L432.6 1243.4 L433.0 1230.0 L433.6 1245.9 L433.9 1233.7 L434.4 1262.5 L435.0 1254.8 L435.4 1246.0 L435.6 1241.8 L436.1 1232.1 L436.7 1264.6 L437.1 1242.3 L437.6 1230.8 L438.0 1247.9 L438.5 1230.7 L439.0 1233.8 L439.4 1242.8 L439.9 1248.9 L440.0 1243.9 L440.3 1258.7 L440.7 1246.2 L441.1 1231.0 L441.7 1248.7 L442.3 1255.4 L442.6 1246.5 L443.1 1246.3 L443.7 1241.5 L444.0 1247.8 L444.6 1238.3 L445.1 1252.2 L445.7 1252.3 L446.2 1241.8 L446.6 1246.8 L447.0 1257.1 L447.6 1245.9 L448.2 1243.8 L448.7 1250.0 L449.2 1259.6 L449.8 1233.9 L450.3 1250.9 L450.9 1251.4 L451.2 1256.4 L451.7 1260.2 L452.1 1248.0 L452.7 1246.0 L453.1 1241.3 L453.4 1252.3 L453.9 1248.2 L454.4 1252.7 L455.0 1245.7 L455.3 1257.8 L455.7 1245.9 L456.1 1244.0 L456.6 1244.1 L457.2 1242.9 L457.5 1240.2 L457.9 1240.5 L458.5 1248.2 L458.9 1240.8 L459.2 1253.0 L459.8 1246.0 L460.3 1250.6 L460.7 1247.3 L461.0 1258.5 L461.5 1244.7 L461.9 1232.3 L462.3 1256.6 L462.7 1247.0 L463.1 1239.3 L463.7 1246.0 L464.0 1243.7 L464.6 1249.7 L464.9 1246.2 L465.3 1246.0 L465.8 1251.8 L466.2 1251.3 L466.5 1233.4 L466.9 1244.1 L467.4 1247.9 L467.9 1237.4 L468.5 1249.7 L469.0 1239.9 L469.6 1246.0 L470.0 1228.3 L470.5 1252.3 L471.1 1246.0 L471.7 1247.0 L472.0 1248.6 L472.5 1243.4 L472.8 1239.2 L473.3 1248.2 L473.9 1243.3 L474.6 1229.0 L475.1 1247.2 L475.5 1259.8 L475.9 1236.3 L476.4 1254.4 L476.8 1244.7 L477.5 1246.0 L478.1 1248.4 L478.6 1254.2 L479.0 1246.3 L479.3 1244.6 L479.7 1258.6 L480.3 1251.9 L480.6 1262.1 L481.0 1235.7 L481.3 1236.9 L481.9 1258.0 L482.4 1237.2 L482.8 1245.0 L483.1 1230.3 L483.4 1235.6 L483.8 1251.8 L484.4 1236.6 L484.8 1248.7 L485.1 1263.3 L485.4 1246.0 L485.9 1253.9 L486.5 1242.7 L486.9 1241.3 L487.3 1246.0 L487.6 1262.6 L488.1 1243.7 L488.5 1227.9 L489.0 1244.0 L489.4 1229.3 L490.0 1231.8 L490.0 1251.9 L490.6 1229.4 L491.0 1248.2 L491.4 1246.1 L492.0 1245.2 L492.3 1245.4 L492.6 1247.5 L493.1 1256.9 L493.5 1259.8 L494.0 1244.2 L494.5 1249.7 L495.0 1245.6 L495.7 1241.3 L496.2 1248.3 L496.5 1251.8 L496.9 1229.9 L497.5 1247.3 L497.8 1231.6 L498.3 1238.1 L498.7 1260.2 L499.1 1245.2 L499.3 1261.6 L499.7 1253.9 L500.3 1238.0 L500.7 1245.2 L501.1 1234.2 L501.6 1244.4 L502.0 1231.2 L502.6 1243.4 L502.9 1243.7 L503.4 1251.6 L503.8 1242.9 L504.2 1250.3 L504.7 1242.7 L505.0 1253.9 L505.6 1247.1 L506.1 1241.7 L506.7 1247.8 L507.1 1243.6 L507.4 1240.5 L507.8 1244.2 L508.2 1251.7 L508.5 1218.4 L509.1 1240.3 L509.6 1239.4 L510.1 1242.6 L510.7 1240.0 L511.3 1223.9 L511.6 1228.0 L512.2 1238.4 L512.5 1244.3 L512.7 1238.1 L513.2 1250.5 L513.5 1217.6 L514.0 1240.3 L514.5 1250.3 L515.1 1250.5 L515.6 1223.3 L516.2 1255.0 L516.8 1238.7 L517.3 1229.2 L517.9 1239.0 L518.3 1247.4 L518.8 1232.0 L519.1 1247.7 L519.6 1235.2 L520.0 1237.9 L520.4 1237.6 L520.7 1248.6 L521.0 1236.3 L521.5 1240.4 L521.7 1225.0 L522.1 1237.8 L522.5 1238.6 L523.1 1238.6 L523.4 1234.7 L523.8 1239.0 L524.3 1240.7 L524.8 1238.0 L525.0 1238.8 L525.5 1238.1 L526.1 1238.4 L526.4 1244.9 L526.9 1241.9 L527.5 1239.7 L527.9 1239.0 L528.6 1238.5 L528.9 1230.1 L529.4 1227.8 L529.8 1223.1 L530.1 1250.9 L530.6 1244.5 L531.3 1238.4 L531.7 1235.9 L532.1 1237.8 L532.4 1227.3 L532.9 1237.9 L533.2 1242.3 L533.6 1222.1 L534.1 1238.6 L534.4 1239.2 L534.7 1241.0 L535.2 1247.0 L535.7 1221.0 L536.1 1232.2 L536.7 1239.5 L537.0 1237.7 L537.5 1240.2 L537.8 1239.9 L538.2 1240.2 L538.7 1221.5 L539.0 1241.0 L539.5 1259.3 L540.0 1245.5 L540.4 1232.9 L540.8 1235.3 L541.2 1241.0 L541.8 1240.0 L542.5 1256.4 L542.8 1242.7 L543.2 1242.9 L543.8 1253.1 L544.0 1242.6 L544.4 1259.3 L544.9 1250.4 L545.0 1242.6 L545.5 1265.0 L545.9 1240.6 L546.5 1234.3 L546.9 1245.8 L547.4 1226.4 L548.1 1245.2 L548.7 1243.7 L549.0 1239.1 L549.5 1242.2 L550.0 1248.8 L550.3 1249.6 L550.7 1243.0 L551.0 1259.0 L551.5 1262.6 L551.8 1245.3 L552.3 1247.1 L553.0 1251.0 L553.3 1244.3 L553.7 1265.8 L554.1 1247.9 L554.5 1244.2 L555.1 1248.3 L555.5 1264.2 L555.8 1252.2 L556.5 1244.9 L556.8 1239.0 L557.3 1264.6 L557.9 1244.9 L558.2 1246.4 L558.6 1251.3 L559.2 1247.8 L559.5 1235.0 L560.1 1226.6 L560.4 1246.4 L561.0 1232.7 L561.6 1249.5 L562.0 1231.4 L562.4 1236.7 L562.9 1259.5 L563.4 1240.6 L563.8 1232.1 L564.1 1237.2 L564.5 1230.4 L564.9 1268.3 L565.0 1219.5 L565.3 1245.0 L565.6 1229.2 L566.1 1230.8 L566.6 1209.8 L567.2 1227.4 L567.8 1237.4 L568.3 1240.0 L568.7 1245.3 L569.2 1227.9 L569.7 1238.7 L570.0 1240.5 L570.5 1236.1 L570.9 1207.3 L571.5 1212.8 L572.1 1234.7 L572.5 1232.1 L573.1 1234.1 L573.5 1236.2 L573.9 1241.3 L574.2 1238.5 L574.5 1228.4 L574.7 1224.8 L575.2 1240.9 L575.6 1252.7 L576.1 1233.4 L576.7 1224.0 L577.2 1242.4 L577.9 1241.1 L578.4 1232.2 L578.8 1231.8 L579.4 1223.7 L579.8 1227.4 L580.0 1220.8 L580.4 1235.1 L580.8 1244.5 L581.5 1231.0 L582.1 1247.8 L582.6 1242.2 L583.1 1243.3 L583.4 1228.1 L584.0 1220.7 L584.7 1229.6 L585.2 1234.5 L585.8 1221.7 L586.4 1222.3 L586.9 1225.0 L587.4 1211.7 L588.0 1209.4 L588.5 1227.4 L588.9 1210.5 L589.3 1231.2 L589.7 1227.9 L590.0 1227.3 L590.4 1219.5 L590.9 1213.2 L591.3 1243.7 L591.7 1227.2 L592.0 1209.2 L592.6 1197.2 L593.1 1226.4 L593.6 1219.0 L594.0 1220.9 L594.4 1222.2 L594.7 1244.0 L595.1 1251.3 L595.8 1211.2 L596.1 1195.6 L596.7 1223.7 L597.1 1213.1 L597.4 1222.3 L597.8 1240.8 L598.2 1236.1 L598.9 1223.3 L599.3 1224.3 L599.7 1210.7 L600.0 1220.9 L600.4 1231.7 L601.0 1225.8 L601.5 1233.2 L601.8 1213.4 L602.4 1221.8 L603.0 1225.8 L603.3 1244.1 L603.6 1220.6 L603.9 1232.8 L604.2 1223.7 L604.6 1234.2 L605.1 1216.7 L605.7 1230.8 L606.2 1221.5 L606.5 1235.4 L606.9 1225.7 L607.3 1210.1 L607.7 1183.2 L608.1 1217.3 L608.5 1241.6 L609.0 1241.6 L609.4 1206.7 L610.0 1238.1 L610.4 1231.8 L610.8 1261.2 L611.3 1252.2 L611.9 1268.8 L612.5 1238.4 L613.1 1239.6 L613.7 1268.3 L614.2 1253.8 L614.8 1241.0 L615.2 1227.4 L615.7 1232.2 L616.0 1254.4 L616.3 1248.1 L616.7 1233.5 L617.2 1261.8 L617.6 1252.3 L618.2 1255.0 L618.7 1249.7 L619.1 1243.4 L619.7 1244.8 L620.1 1234.4 L620.7 1243.1 L621.3 1230.2 L621.8 1263.3 L622.0 1251.4 L622.6 1256.8 L623.2 1247.0 L623.7 1234.8 L624.2 1243.1 L624.5 1231.1 L625.0 1208.6 L625.5 1260.2 L625.9 1236.5 L626.4 1258.6 L626.9 1225.3 L627.3 1214.8 L627.7 1242.0 L628.1 1241.3 L628.5 1245.3 L629.0 1243.5 L629.3 1241.0 L629.8 1259.3 L630.1 1244.2 L630.7 1240.0 L631.2 1214.3 L631.6 1242.1 L631.9 1257.1 L632.4 1243.3 L632.9 1256.1 L633.6 1266.4 L634.2 1213.2 L634.6 1246.7 L634.9 1239.4" fill="none" stroke="#f00" stroke-width="4.5" stroke-dasharray="0.01 8.8" stroke-linejoin="miter" stroke-linecap="square"/>
<path d="M72.30 1197.95H78.10M645.80 1197.95H640.00M72.30 1243.70H78.10M645.80 1243.70H640.00M72.30 1289.45H78.10M645.80 1289.45H640.00M263.47 1152.20V1158.00M263.47 1335.20V1329.40M454.63 1152.20V1158.00M454.63 1335.20V1329.40" stroke="#4a4a4a" stroke-width="1.6" fill="none"/>
<rect x="72.30" y="1152.20" width="573.50" height="183.00" fill="none" stroke="#707070" stroke-width="1.8"/>
<text x="47.37" y="1161.29" font-size="25.40" fill="#262626" xml:space="preserve">2</text>
<polygon points="57.13,1207.04 57.13,1189.54 55.25,1189.54 50.55,1193.45 50.68,1195.61 54.71,1192.94 54.71,1207.04" fill="#262626"/>
<text x="47.37" y="1252.79" font-size="25.40" fill="#262626" xml:space="preserve">0</text>
<text x="38.92" y="1298.54" font-size="25.40" fill="#262626" xml:space="preserve">-</text><polygon points="57.13,1298.54 57.13,1281.04 55.25,1281.04 50.55,1284.95 50.68,1287.11 54.71,1284.44 54.71,1298.54" fill="#262626"/>
<text x="38.92" y="1344.29" font-size="25.40" fill="#262626" xml:space="preserve">-2</text>
<text x="83.65" y="1320.85" font-size="24.95" fill="#000" xml:space="preserve">DOY 080</text>
<path d="M72.30 1431.18H645.80M72.30 1476.45H645.80M72.30 1521.72H645.80M263.47 1385.90V1567.00M454.63 1385.90V1567.00" stroke="#dedede" stroke-width="1.5" fill="none"/>
<path d="M133.0 1477.7 L133.6 1475.2 L133.9 1477.9 L134.5 1482.7 L135.1 1489.9 L135.5 1491.4 L135.7 1464.1 L136.1 1459.2 L136.4 1469.2 L136.8 1471.7 L137.3 1470.8 L137.6 1470.7 L137.9 1486.6 L138.3 1471.8 L138.7 1494.0 L139.3 1493.7 L139.6 1464.8 L140.0 1452.7 L140.3 1467.6 L140.7 1459.7 L141.0 1474.2 L141.3 1473.4 L141.9 1464.4 L142.5 1470.2 L142.8 1466.8 L143.3 1464.3 L143.6 1479.8 L143.9 1466.1 L144.3 1471.4 L144.7 1466.2 L145.2 1446.7 L145.8 1435.7 L146.4 1464.2 L146.9 1473.5 L147.5 1469.8 L147.8 1464.9 L148.0 1464.6 L148.4 1479.5 L148.9 1471.1 L149.3 1461.3 L149.7 1459.5 L150.2 1495.0 L150.5 1490.3 L150.9 1452.3 L151.2 1467.9 L151.6 1470.6 L151.9 1471.8 L152.5 1486.9 L152.9 1470.9 L153.3 1462.4 L153.8 1474.8 L154.3 1471.9 L154.6 1486.0 L155.2 1477.6 L155.6 1470.9 L156.1 1452.0 L156.5 1461.8 L156.9 1471.9 L157.4 1481.0 L158.0 1496.9 L158.4 1465.4 L159.1 1448.6 L159.6 1449.7 L160.0 1471.3 L160.3 1487.9 L160.9 1455.7 L161.4 1460.2 L162.0 1475.0 L162.6 1472.4 L163.0 1473.6 L163.3 1477.0 L163.8 1482.0 L164.4 1484.0 L164.7 1470.3 L165.2 1472.1 L165.9 1453.7 L166.2 1444.5 L166.7 1460.4 L167.2 1470.9 L167.5 1479.3 L167.9 1500.6 L168.3 1469.8 L168.8 1470.1 L169.2 1464.6 L169.6 1478.6 L170.0 1472.5 L170.5 1473.1 L170.9 1470.3 L171.4 1462.4 L172.1 1416.8 L172.6 1508.4 L173.2 1461.1 L173.8 1468.4 L174.2 1467.8 L174.6 1448.2 L175.1 1511.0 L175.7 1465.9 L176.1 1452.2 L176.7 1471.1 L177.2 1472.3 L177.5 1419.2 L177.8 1470.3 L178.3 1449.0 L178.6 1413.4 L179.0 1468.8 L179.3 1513.9 L179.9 1455.0 L180.0 1471.4 L180.4 1449.2 L180.9 1470.3 L181.2 1474.8 L181.7 1462.0 L182.2 1470.5 L182.5 1490.8 L183.1 1493.5 L183.6 1450.3 L184.3 1452.7 L184.6 1455.8 L185.2 1475.2 L185.8 1473.9 L186.3 1488.9 L186.8 1482.6 L187.2 1472.7 L187.7 1453.5 L188.3 1469.7 L188.8 1466.9 L189.2 1464.2 L189.6 1468.4 L190.0 1454.0 L190.4 1476.0 L191.0 1480.9 L191.5 1471.2 L191.9 1496.2 L192.4 1469.5 L193.1 1471.8 L193.5 1492.1 L193.9 1440.2 L194.3 1466.6 L194.6 1472.8 L195.1 1457.9 L195.4 1473.7 L195.9 1433.4 L196.3 1483.6 L196.8 1490.5 L197.2 1455.6 L197.6 1470.4 L198.1 1449.5 L198.7 1478.9 L199.3 1502.7 L200.0 1501.0 L200.0 1469.4 L200.6 1461.8 L200.9 1493.3 L201.3 1483.1 L201.8 1431.9 L202.2 1484.7 L202.8 1463.6 L203.4 1457.5 L204.0 1478.1 L204.3 1495.1 L204.6 1489.7 L205.1 1461.2 L205.5 1457.5 L206.1 1441.9 L206.7 1465.4 L207.1 1487.4 L207.4 1468.0 L207.8 1459.9 L208.1 1451.7 L208.4 1466.0 L208.9 1499.0 L209.4 1465.7 L209.8 1469.5 L210.0 1468.0 L210.6 1460.6 L211.0 1468.4 L211.6 1468.0 L211.9 1490.7 L212.2 1478.9 L212.8 1467.3 L213.1 1468.2 L213.8 1462.4 L214.1 1450.3 L214.6 1482.5 L215.0 1446.5 L215.6 1469.3 L216.2 1447.2 L216.8 1461.0 L217.3 1483.2 L217.8 1485.9 L218.3 1470.5 L218.9 1446.5 L219.2 1454.0 L219.8 1470.0 L220.1 1464.2 L220.5 1490.0 L220.9 1470.0 L221.5 1448.9 L222.0 1477.5 L222.6 1464.9 L223.0 1470.4 L223.3 1471.3 L223.7 1471.1 L224.1 1466.9 L224.4 1468.0 L225.0 1476.5 L225.3 1476.6 L225.7 1472.7 L226.0 1448.8 L226.6 1484.1 L227.0 1469.6 L227.7 1467.9 L228.0 1469.0 L228.7 1474.4 L229.1 1468.3 L229.6 1471.6 L230.1 1480.8 L230.7 1484.5 L231.2 1457.6 L231.7 1479.8 L232.1 1470.6 L232.7 1480.8 L233.3 1469.5 L233.8 1475.3 L234.4 1486.7 L235.0 1464.3 L235.3 1469.6 L235.7 1490.1 L236.3 1471.7 L236.9 1481.4 L237.4 1453.4 L237.8 1463.8 L238.3 1452.3 L238.6 1467.5 L239.2 1466.9 L239.6 1483.5 L240.0 1473.9 L240.4 1464.8 L240.7 1432.3 L241.2 1468.4 L241.9 1477.3 L242.2 1490.9 L242.8 1467.0 L243.1 1474.1 L243.7 1466.0 L244.1 1467.2 L244.5 1465.7 L244.8 1467.4 L245.4 1437.6 L246.0 1485.5 L246.4 1474.3 L246.8 1453.4 L247.4 1465.7 L247.8 1489.2 L248.1 1469.2 L248.4 1469.8 L249.0 1470.1 L249.6 1467.8 L250.0 1469.5 L250.3 1457.8 L250.7 1479.6 L251.1 1487.8 L251.5 1492.0 L251.8 1472.0 L252.4 1484.6 L252.9 1456.2 L253.6 1486.5 L253.9 1489.8 L254.3 1474.2 L254.8 1455.5 L255.4 1468.3 L255.7 1455.2 L256.3 1471.1 L256.9 1475.9 L257.3 1476.3 L257.8 1487.5 L258.1 1479.7 L258.5 1468.2 L259.1 1467.9 L259.6 1482.1 L260.0 1479.3 L260.4 1484.3 L261.0 1466.6 L261.5 1464.0 L262.0 1477.3 L262.5 1455.4 L262.9 1484.6 L263.5 1473.8 L264.0 1468.1 L264.3 1466.6 L264.7 1459.3 L265.0 1472.8 L265.6 1484.3 L266.2 1472.0 L266.6 1476.1 L267.3 1470.6 L267.9 1485.7 L268.5 1455.7 L268.8 1479.8 L269.2 1438.7 L269.6 1473.5 L269.9 1474.7 L270.0 1473.4 L270.4 1489.8 L270.9 1465.9 L271.3 1474.5 L271.8 1476.3 L272.3 1467.3 L272.8 1477.9 L273.3 1483.4 L273.7 1467.8 L274.1 1479.0 L274.4 1491.9 L274.8 1480.7 L275.1 1474.9 L275.5 1480.9 L276.1 1483.7 L276.5 1486.3 L277.0 1485.9 L277.6 1480.4 L278.1 1493.5 L278.7 1479.1 L279.0 1479.6 L279.3 1471.7 L279.9 1476.8 L280.0 1458.5 L280.6 1479.6 L281.1 1485.9 L281.5 1477.1 L282.1 1459.4 L282.4 1458.2 L282.7 1477.4 L283.1 1476.7 L283.7 1480.4 L284.2 1484.8 L284.8 1483.7 L285.2 1484.9 L285.5 1471.6 L285.8 1466.8 L286.2 1476.6 L286.7 1473.8 L287.1 1484.3 L287.6 1475.3 L288.1 1485.3 L288.7 1470.1 L289.3 1471.8 L289.9 1471.8 L290.2 1472.3 L290.6 1475.8 L291.0 1464.3 L291.5 1474.5 L292.2 1481.5 L292.5 1479.3 L293.1 1471.0 L293.7 1470.3 L294.0 1477.3 L294.4 1470.8 L294.8 1482.0 L295.3 1467.1 L295.7 1470.1 L296.1 1469.4 L296.5 1466.6 L296.9 1470.9 L297.4 1455.6 L298.1 1462.9 L298.6 1470.7 L298.9 1462.7 L299.3 1470.1 L299.9 1477.4 L300.0 1473.6 L300.5 1465.1 L301.1 1456.3 L301.7 1453.3 L302.2 1466.8 L302.7 1490.9 L303.3 1465.8 L303.8 1464.5 L304.4 1464.2 L304.7 1473.7 L305.3 1456.2 L305.5 1474.4 L305.8 1478.9 L306.1 1465.7 L306.7 1491.2 L307.3 1463.9 L307.7 1478.4 L308.2 1471.6 L308.7 1481.1 L309.0 1452.1 L309.6 1468.9 L310.1 1465.9 L310.7 1464.7 L311.0 1469.5 L311.6 1478.8 L312.3 1478.1 L312.6 1456.0 L313.1 1471.8 L313.4 1471.3 L314.0 1478.3 L314.5 1453.0 L314.9 1460.8 L315.0 1471.0 L315.5 1470.4 L316.1 1477.3 L316.6 1488.1 L317.0 1474.8 L317.3 1483.8 L317.8 1474.0 L318.1 1493.4 L318.7 1473.0 L319.3 1469.2 L319.8 1475.0 L320.4 1471.8 L321.0 1494.1 L321.7 1476.2 L322.2 1470.7 L322.6 1477.3 L322.9 1478.5 L323.3 1470.1 L323.8 1484.9 L324.2 1492.8 L324.7 1488.6 L325.1 1493.3 L325.4 1490.3 L325.9 1485.3 L326.4 1485.6 L327.0 1481.8 L327.3 1469.6 L327.8 1486.5 L328.4 1489.2 L328.9 1480.7 L329.5 1478.2 L330.0 1480.6 L330.5 1482.8 L330.9 1493.0 L331.3 1479.0 L331.6 1477.5 L332.1 1474.1 L332.5 1478.3 L332.8 1491.5 L333.2 1480.1 L333.6 1479.7 L334.2 1483.8 L334.8 1481.8 L335.1 1491.3 L335.5 1489.6 L335.8 1479.9 L336.2 1476.6 L336.6 1469.5 L336.9 1470.9 L337.4 1485.4 L337.7 1483.8 L338.2 1470.7 L338.6 1484.8 L339.2 1489.1 L339.5 1483.1 L339.8 1481.7 L340.0 1476.8 L340.3 1484.2 L340.8 1489.3 L341.2 1471.3 L341.8 1495.8 L342.4 1479.1 L342.7 1479.2 L343.0 1487.1 L343.5 1479.5 L344.0 1483.7 L344.5 1485.4 L345.1 1477.4 L345.4 1477.6 L345.8 1485.8 L346.2 1485.1 L346.5 1478.9 L347.0 1474.7 L347.4 1474.0 L347.9 1474.9 L348.2 1472.4 L348.5 1477.0 L348.9 1464.2 L349.1 1472.4 L349.5 1470.6 L350.2 1477.3 L350.8 1494.8 L351.4 1479.8 L351.7 1479.5 L352.3 1468.7 L352.7 1480.8 L353.3 1483.1 L353.8 1484.5 L354.3 1478.9 L354.7 1473.8 L355.0 1486.2 L355.4 1483.5 L355.9 1482.4 L356.5 1482.9 L357.0 1485.8 L357.3 1490.5 L357.8 1483.2 L358.2 1483.3 L358.5 1497.7 L358.8 1483.2 L359.4 1498.4 L360.0 1485.3 L360.5 1488.3 L360.7 1484.6 L361.2 1489.5 L361.7 1479.8 L362.2 1482.6 L362.5 1485.3 L363.1 1487.2 L363.6 1486.5 L364.1 1484.4 L364.6 1486.2 L365.1 1486.2 L365.6 1487.2 L365.9 1485.2 L366.3 1489.4 L366.8 1495.0 L367.4 1490.7 L367.8 1491.8 L368.2 1490.0 L368.7 1489.2 L369.2 1482.0 L369.7 1487.0 L370.2 1496.2 L370.5 1484.7 L370.9 1481.3 L371.3 1486.9 L371.6 1479.2 L372.2 1487.5 L372.6 1487.4 L373.2 1485.9 L373.8 1489.8 L374.2 1485.1 L374.6 1487.3 L375.1 1481.4 L375.5 1486.8 L375.8 1488.6 L376.2 1480.9 L376.7 1495.0 L377.2 1489.9 L377.7 1487.0 L378.2 1485.3 L378.7 1488.1 L379.1 1484.1 L379.6 1483.2 L379.9 1485.1 L380.0 1482.1 L380.4 1474.5 L380.6 1486.9 L381.3 1480.8 L381.8 1485.6 L382.4 1490.3 L382.7 1483.4 L383.1 1484.9 L383.6 1493.4 L384.3 1485.5 L384.8 1489.1 L385.5 1486.3 L386.0 1498.2 L386.4 1475.7 L386.9 1498.9 L387.5 1494.0 L388.0 1484.3 L388.6 1488.9 L389.1 1485.0 L389.6 1484.2 L390.2 1473.0 L390.6 1488.9 L391.2 1485.9 L391.7 1477.5 L392.3 1478.9 L392.6 1493.9 L393.0 1473.2 L393.6 1474.5 L394.0 1486.8 L394.5 1494.3 L394.9 1481.7 L395.4 1496.8 L395.9 1485.1 L396.4 1487.8 L396.7 1480.7 L397.0 1473.8 L397.5 1489.4 L397.8 1483.7 L398.3 1477.0 L398.6 1480.3 L399.1 1485.3 L399.7 1486.4 L400.3 1488.3 L400.8 1484.8 L401.2 1489.4 L401.8 1482.9 L402.3 1477.7 L402.8 1484.5 L403.2 1477.9 L403.8 1489.0 L404.3 1485.0 L404.6 1482.9 L405.1 1482.3 L405.6 1487.5 L406.2 1484.6 L406.6 1481.7 L407.0 1491.0 L407.3 1498.7 L407.8 1479.0 L408.2 1493.8 L408.7 1484.5 L409.1 1486.1 L409.6 1475.7 L410.0 1480.1 L410.4 1484.4 L410.9 1483.9 L411.2 1484.4 L411.8 1489.9 L412.2 1487.2 L412.8 1488.7 L413.4 1476.3 L414.0 1487.6 L414.4 1492.5 L415.0 1484.3 L415.2 1479.2 L415.8 1489.3 L416.4 1484.0 L416.7 1471.7 L417.1 1493.9 L417.7 1492.2 L418.1 1483.7 L418.7 1487.3 L419.3 1483.3 L419.6 1480.9 L420.0 1483.7 L420.5 1482.5 L421.0 1475.0 L421.5 1475.7 L421.8 1485.4 L422.1 1478.4 L422.7 1472.2 L423.4 1476.9 L423.7 1480.4 L424.1 1478.3 L424.7 1497.2 L425.0 1483.9 L425.3 1485.7 L425.7 1483.6 L426.3 1483.3 L426.8 1494.4 L427.4 1485.4 L427.9 1483.6 L428.2 1484.1 L428.7 1492.8 L429.0 1493.2 L429.4 1484.8 L429.8 1483.9 L430.2 1477.3 L430.6 1489.0 L431.2 1480.0 L431.6 1481.1 L431.9 1490.8 L432.4 1495.4 L432.8 1475.2 L433.2 1490.4 L433.9 1496.3 L434.2 1484.1 L434.6 1495.0 L435.1 1484.3 L435.4 1484.3 L435.8 1482.4 L436.3 1484.2 L436.8 1478.7 L437.1 1493.9 L437.7 1476.8 L438.2 1488.1 L438.7 1489.1 L439.1 1485.1 L439.7 1484.7 L440.0 1484.2 L440.5 1476.4 L440.8 1482.8 L441.4 1484.6 L441.9 1481.8 L442.3 1474.9 L442.6 1490.1 L443.1 1487.8 L443.4 1490.7 L443.9 1483.4 L444.5 1486.6 L445.0 1477.7 L445.5 1499.1 L446.0 1486.0 L446.3 1482.4 L446.7 1484.9 L447.0 1483.8 L447.6 1478.4 L448.1 1484.2 L448.4 1500.6 L449.0 1489.4 L449.6 1500.7 L450.2 1475.9 L450.8 1489.0 L451.1 1486.3 L451.6 1484.9 L452.0 1501.0 L452.6 1482.0 L453.1 1485.6 L453.5 1495.3 L454.0 1485.1 L454.4 1481.6 L455.1 1480.6 L455.4 1483.8 L455.8 1480.6 L456.1 1480.1 L456.5 1485.9 L456.9 1484.8 L457.3 1489.4 L457.9 1483.9 L458.2 1483.5 L458.7 1481.4 L459.1 1476.7 L459.5 1497.0 L460.0 1485.6 L460.3 1483.5 L460.9 1493.4 L461.4 1479.8 L461.9 1498.5 L462.4 1483.7 L463.0 1489.6 L463.4 1500.5 L463.9 1476.1 L464.5 1483.3 L464.9 1483.3 L465.0 1480.8 L465.5 1493.8 L466.2 1489.7 L466.5 1483.1 L466.9 1479.7 L467.2 1494.7 L467.8 1486.1 L468.4 1482.8 L469.1 1485.3 L469.4 1487.8 L469.9 1480.5 L470.2 1483.8 L470.7 1495.8 L471.2 1483.1 L471.6 1481.0 L472.1 1478.3 L472.5 1482.1 L472.9 1481.0 L473.4 1491.0 L473.7 1476.0 L474.1 1470.7 L474.4 1481.3 L475.0 1486.4 L475.3 1481.2 L475.9 1493.6 L476.5 1482.4 L477.1 1493.5 L477.6 1490.2 L478.1 1479.9 L478.6 1480.4 L479.0 1486.3 L479.4 1481.3 L479.8 1477.6 L480.1 1493.2 L480.6 1479.8 L481.1 1472.9 L481.6 1481.9 L482.0 1472.7 L482.5 1476.9 L482.9 1480.2 L483.3 1480.8 L483.9 1473.1 L484.5 1475.3 L485.1 1470.4 L485.8 1469.3 L486.2 1489.6 L486.6 1479.3 L487.0 1477.8 L487.5 1484.8 L487.8 1480.4 L488.4 1478.3 L488.7 1479.7 L489.2 1483.1 L489.5 1477.5 L490.0 1463.5 L490.6 1467.3 L490.9 1472.5 L491.4 1477.4 L491.8 1475.8 L492.3 1482.7 L493.0 1477.9 L493.3 1466.6 L493.9 1474.0 L494.4 1470.7 L495.0 1477.7 L495.3 1470.9 L495.7 1480.9 L496.2 1476.8 L496.8 1468.8 L497.4 1485.0 L497.7 1477.0 L498.1 1476.9 L498.7 1481.9 L499.3 1483.4 L499.8 1486.2 L500.4 1480.0 L501.0 1462.8 L501.6 1476.2 L501.9 1479.0 L502.2 1462.1 L502.5 1472.9 L502.9 1480.8 L503.5 1475.6 L504.1 1472.6 L504.5 1473.5 L504.7 1468.7 L505.3 1492.3 L505.7 1490.4 L506.2 1478.3 L506.7 1487.3 L507.2 1490.2 L507.6 1473.2 L508.1 1482.8 L508.7 1484.8 L509.2 1473.2 L509.8 1480.7 L510.0 1475.6 L510.3 1472.8 L510.8 1481.9 L511.4 1470.0 L511.9 1473.5 L512.5 1471.9 L512.8 1475.0 L513.3 1459.1 L513.6 1473.6 L513.9 1484.5 L514.4 1449.3 L514.8 1449.5 L515.3 1469.8 L515.8 1474.7 L516.2 1462.8 L516.7 1469.2 L517.1 1473.9 L517.5 1457.2 L517.8 1482.2 L518.2 1457.8 L518.7 1463.1 L519.2 1485.0 L519.6 1478.7 L520.0 1466.3 L520.6 1448.7 L521.0 1487.1 L521.3 1468.4 L521.6 1479.5 L521.9 1466.1 L522.4 1486.0 L522.8 1460.1 L523.3 1480.8 L523.9 1470.4 L524.5 1477.1 L524.8 1472.4 L525.0 1483.2 L525.6 1476.2 L526.0 1474.5 L526.5 1445.3 L526.8 1471.7 L527.2 1467.7 L527.8 1467.8 L528.2 1454.4 L528.7 1457.8 L529.2 1464.1 L529.8 1439.6 L530.2 1467.6 L530.7 1467.2 L531.4 1471.1 L531.7 1459.5 L532.2 1458.9 L532.8 1442.9 L533.4 1441.6 L534.1 1440.7 L534.5 1471.7 L534.9 1469.9 L535.0 1470.2 L535.4 1466.9 L535.9 1481.1 L536.2 1470.2 L536.8 1461.1 L537.3 1462.0 L537.9 1471.4 L538.2 1476.9 L538.7 1475.4 L539.0 1466.0 L539.3 1449.5 L539.8 1474.3 L540.4 1458.2 L540.9 1472.2 L541.5 1469.5 L542.0 1470.5 L542.4 1472.7 L543.0 1465.1 L543.3 1479.1 L543.8 1447.5 L544.4 1474.5 L544.9 1489.2 L545.5 1480.0 L545.8 1474.9 L546.2 1500.1 L546.7 1496.1 L547.3 1462.8 L547.8 1476.1 L548.3 1453.4 L548.7 1473.7 L549.3 1471.5 L549.8 1471.2 L550.3 1475.3 L550.7 1480.0 L551.3 1467.2 L551.6 1500.2 L551.9 1473.6 L552.4 1463.3 L553.0 1479.7 L553.6 1477.8 L553.9 1469.5 L554.4 1499.9 L554.8 1475.1 L555.0 1479.2 L555.3 1500.1 L555.7 1490.4 L556.0 1471.1 L556.7 1489.7 L557.0 1477.9 L557.5 1483.9 L558.1 1479.5 L558.7 1451.8 L559.0 1477.9 L559.4 1455.7 L559.9 1476.1 L560.4 1464.2 L560.9 1466.3 L561.4 1468.4 L561.7 1493.4 L562.2 1481.5 L562.7 1478.1 L563.3 1480.3 L563.6 1502.6 L564.0 1475.5 L564.3 1469.8 L564.9 1495.1 L565.3 1475.2 L565.8 1484.7 L566.4 1492.9 L567.0 1474.2 L567.4 1487.4 L567.8 1466.4 L568.4 1470.8 L568.8 1482.5 L569.1 1482.5 L569.5 1463.8 L570.0 1480.0 L570.4 1503.7 L570.9 1448.2 L571.2 1489.4 L571.6 1445.4 L572.0 1470.0 L572.6 1428.9 L573.0 1438.5 L573.3 1473.3 L573.9 1489.1 L574.4 1472.7 L574.8 1439.2 L575.0 1475.3 L575.3 1470.3 L575.6 1459.2 L576.3 1471.1 L576.7 1472.7 L577.3 1476.8 L577.6 1458.8 L578.0 1469.0 L578.5 1495.9 L579.2 1469.2 L579.8 1466.1 L580.3 1472.0 L580.8 1465.9 L581.3 1483.0 L581.8 1472.6 L582.2 1474.5 L582.5 1474.0 L583.0 1468.3 L583.4 1456.9 L583.9 1473.9 L584.2 1484.6 L584.5 1492.7 L584.8 1463.3 L585.2 1485.6 L585.8 1475.9 L586.4 1470.9 L586.7 1497.1 L587.1 1469.6 L587.5 1467.3 L587.8 1493.6 L588.4 1473.2 L589.0 1451.1 L589.2 1478.4 L589.9 1473.7 L590.0 1472.9 L590.4 1472.4 L590.9 1459.0 L591.4 1472.9 L591.8 1487.2 L592.1 1506.5 L592.7 1475.6 L593.0 1465.7 L593.6 1439.0 L594.0 1481.7 L594.5 1491.7 L595.1 1472.3 L595.6 1486.1 L596.0 1481.2 L596.6 1486.7 L597.0 1450.5 L597.7 1462.6 L598.0 1466.0 L598.4 1471.3 L599.0 1489.7 L599.4 1472.9 L599.9 1454.8 L600.4 1470.6 L600.7 1496.8 L601.1 1500.5 L601.5 1488.6 L602.1 1469.1 L602.6 1452.9 L602.9 1457.0 L603.4 1471.9 L604.1 1462.2 L604.5 1478.9 L605.0 1491.2 L605.0 1470.6 L605.3 1466.3 L605.7 1480.1 L606.2 1468.5 L606.8 1486.1 L607.2 1468.8 L607.8 1488.6 L608.3 1438.9 L608.9 1488.3 L609.3 1464.5 L609.8 1490.1 L610.1 1483.0 L610.6 1444.1 L611.1 1467.7 L611.7 1451.4 L612.2 1490.5 L612.9 1454.2 L613.4 1471.3 L613.9 1438.8 L614.5 1470.1 L614.9 1451.7 L615.0 1471.8 L615.3 1487.4 L616.0 1469.8 L616.6 1484.0 L617.1 1508.5 L617.7 1470.1 L618.4 1471.7 L618.9 1468.3 L619.3 1486.9 L619.8 1476.8 L620.3 1497.1 L620.8 1487.1 L621.4 1478.4 L622.0 1490.6 L622.6 1471.8 L623.2 1480.8 L623.5 1470.9 L624.1 1487.1 L624.7 1484.4 L625.3 1478.1 L625.6 1487.7 L626.1 1505.6 L626.6 1466.0 L627.1 1477.9 L627.5 1494.2 L627.9 1485.6" fill="none" stroke="#f00" stroke-width="4.5" stroke-dasharray="0.01 8.8" stroke-linejoin="miter" stroke-linecap="square"/>
<path d="M72.30 1431.18H78.10M645.80 1431.18H640.00M72.30 1476.45H78.10M645.80 1476.45H640.00M72.30 1521.72H78.10M645.80 1521.72H640.00M263.47 1385.90V1391.70M263.47 1567.00V1561.20M454.63 1385.90V1391.70M454.63 1567.00V1561.20" stroke="#4a4a4a" stroke-width="1.6" fill="none"/>
<rect x="72.30" y="1385.90" width="573.50" height="181.10" fill="none" stroke="#707070" stroke-width="1.8"/>
<text x="47.37" y="1394.99" font-size="25.40" fill="#262626" xml:space="preserve">2</text>
<polygon points="57.13,1440.27 57.13,1422.76 55.25,1422.76 50.55,1426.68 50.68,1428.84 54.71,1426.17 54.71,1440.27" fill="#262626"/>
<text x="47.37" y="1485.54" font-size="25.40" fill="#262626" xml:space="preserve">0</text>
<text x="38.92" y="1530.82" font-size="25.40" fill="#262626" xml:space="preserve">-</text><polygon points="57.13,1530.82 57.13,1513.31 55.25,1513.31 50.55,1517.23 50.68,1519.38 54.71,1516.72 54.71,1530.82" fill="#262626"/>
<text x="38.92" y="1576.09" font-size="25.40" fill="#262626" xml:space="preserve">-2</text>
<text x="83.65" y="1552.85" font-size="24.95" fill="#000" xml:space="preserve">DOY 080</text>
<text x="235.55" y="1377.80" font-size="24.48" fill="#000" xml:space="preserve">TRM</text><polygon points="297.98,1377.80 297.98,1360.93 296.17,1360.93 291.64,1364.70 291.76,1366.78 295.66,1364.21 295.66,1377.80" fill="#000"/><text x="302.20" y="1377.80" font-size="24.48" fill="#000" xml:space="preserve">59900.00 NONE</text>
<path d="M72.30 1639.45H648.90M72.30 1685.50H648.90M72.30 1731.55H648.90M264.50 1593.40V1777.60M456.70 1593.40V1777.60" stroke="#dedede" stroke-width="1.5" fill="none"/>
<path d="M125.0 1685.0 L125.4 1686.2 L125.8 1692.9 L126.2 1683.1 L126.7 1694.1 L127.2 1683.0 L127.8 1671.8 L128.4 1685.2 L128.8 1684.9 L129.2 1695.3 L129.7 1688.6 L130.0 1698.9 L130.6 1684.1 L131.2 1684.6 L131.6 1677.5 L132.1 1687.8 L132.5 1685.2 L133.0 1681.3 L133.5 1672.1 L133.8 1696.7 L134.2 1683.7 L134.7 1704.0 L135.0 1683.3 L135.4 1682.5 L135.9 1711.0 L136.3 1664.9 L136.6 1676.0 L137.2 1683.9 L137.8 1691.8 L138.3 1684.0 L138.6 1696.6 L139.0 1673.4 L139.5 1703.9 L139.8 1682.4 L140.2 1683.0 L140.8 1682.6 L141.1 1692.2 L141.7 1656.3 L142.2 1677.6 L142.8 1682.2 L143.3 1675.1 L143.7 1685.9 L144.2 1673.9 L144.5 1665.8 L144.9 1658.4 L145.0 1683.2 L145.6 1687.0 L146.2 1670.7 L146.7 1699.6 L147.1 1684.1 L147.6 1709.8 L148.3 1714.5 L148.7 1683.2 L149.2 1683.0 L149.8 1674.9 L150.4 1684.8 L150.8 1670.1 L151.3 1668.7 L151.8 1694.0 L152.4 1653.9 L152.8 1680.6 L153.4 1678.1 L154.0 1658.4 L154.6 1670.5 L155.0 1675.2 L155.5 1678.1 L155.9 1678.1 L156.5 1679.9 L156.8 1642.3 L157.4 1675.1 L157.9 1685.3 L158.2 1642.8 L158.8 1697.1 L159.2 1693.8 L159.8 1679.1 L160.2 1704.6 L160.6 1673.4 L161.1 1684.3 L161.6 1678.4 L162.0 1644.4 L162.5 1642.0 L162.9 1642.1 L163.2 1646.5 L163.7 1683.2 L164.2 1638.2 L164.6 1667.6 L165.0 1625.3 L165.5 1674.8 L166.0 1671.1 L166.6 1667.2 L167.2 1701.2 L167.6 1670.6 L168.2 1667.4 L168.5 1664.5 L169.0 1667.8 L169.6 1617.0 L169.9 1673.4 L170.0 1651.2 L170.5 1664.6 L170.9 1671.8 L171.4 1690.8 L171.8 1668.6 L172.1 1649.0 L172.7 1666.9 L173.3 1670.2 L173.8 1680.8 L174.2 1670.8 L174.6 1671.0 L175.0 1670.2 L175.3 1639.6 L175.9 1672.0 L176.5 1685.5 L176.9 1674.4 L177.4 1694.8 L178.0 1681.5 L178.4 1680.5 L179.0 1683.5 L179.3 1678.2 L179.6 1673.7 L180.0 1681.7 L180.0 1678.7 L180.6 1678.0 L181.2 1668.1 L181.8 1662.2 L182.4 1661.1 L182.7 1674.0 L183.1 1661.5 L183.3 1707.7 L183.7 1687.6 L184.1 1722.4 L184.4 1659.8 L184.9 1710.4 L185.3 1699.8 L185.8 1716.1 L186.3 1692.1 L186.7 1701.7 L187.2 1707.2 L187.6 1688.1 L188.2 1688.7 L188.5 1687.1 L189.0 1709.6 L189.6 1687.5 L190.0 1681.3 L190.3 1683.3 L190.7 1676.3 L191.1 1672.0 L191.7 1655.4 L192.3 1683.6 L192.7 1699.1 L193.2 1695.9 L193.5 1683.1 L193.8 1681.4 L194.4 1674.7 L195.0 1688.3 L195.4 1690.4 L196.0 1690.1 L196.5 1667.3 L196.9 1676.0 L197.3 1679.5 L197.8 1698.0 L198.1 1673.7 L198.5 1678.6 L199.0 1668.9 L199.3 1674.7 L199.7 1654.4 L200.3 1681.7 L200.9 1668.8 L201.3 1655.1 L201.6 1679.4 L202.1 1695.4 L202.4 1679.4 L203.0 1665.3 L203.6 1670.4 L203.9 1690.3 L204.6 1697.5 L205.0 1678.9 L205.4 1669.6 L205.7 1684.9 L206.1 1677.4 L206.7 1682.4 L207.0 1678.3 L207.5 1703.8 L208.2 1680.2 L208.7 1678.4 L209.3 1674.0 L209.9 1678.6 L210.3 1700.3 L210.6 1655.0 L211.1 1681.3 L211.5 1682.6 L211.9 1686.6 L212.3 1683.1 L212.8 1677.9 L213.2 1681.6 L213.8 1681.6 L214.2 1658.9 L214.7 1687.6 L215.2 1681.9 L215.8 1695.6 L216.2 1683.3 L216.5 1682.9 L217.2 1680.2 L217.5 1665.9 L218.1 1680.0 L218.6 1700.5 L219.0 1665.3 L219.5 1695.6 L220.0 1671.3 L220.3 1686.5 L220.7 1681.2 L221.1 1658.1 L221.5 1677.1 L221.8 1679.5 L222.3 1674.5 L222.9 1679.1 L223.2 1677.0 L223.7 1678.0 L224.3 1678.6 L224.9 1686.2 L225.3 1689.1 L225.6 1678.1 L226.0 1678.3 L226.6 1672.8 L227.2 1688.7 L227.7 1678.7 L228.1 1682.0 L228.5 1671.1 L228.8 1695.6 L229.4 1675.1 L230.0 1658.7 L230.6 1662.0 L231.1 1675.7 L231.6 1694.6 L231.9 1680.9 L232.5 1687.8 L232.9 1685.6 L233.3 1675.4 L233.9 1694.7 L234.2 1677.5 L234.8 1682.4 L235.0 1689.3 L235.4 1675.9 L235.8 1651.5 L236.3 1659.8 L236.8 1678.9 L237.3 1658.1 L237.9 1698.6 L238.4 1651.5 L238.9 1664.5 L239.5 1677.8 L239.9 1675.4 L240.0 1676.0 L240.6 1676.4 L241.1 1668.0 L241.4 1677.3 L241.8 1682.7 L242.2 1686.5 L242.4 1671.5 L242.8 1670.1 L243.4 1683.5 L243.8 1692.5 L244.2 1668.9 L244.6 1674.3 L245.2 1677.8 L245.7 1678.9 L246.2 1668.3 L246.6 1680.0 L247.1 1678.2 L247.6 1668.1 L248.1 1679.3 L248.4 1679.5 L249.0 1681.2 L249.3 1673.2 L249.6 1683.2 L250.1 1672.1 L250.5 1669.4 L250.8 1668.1 L251.1 1681.3 L251.6 1684.7 L252.1 1668.5 L252.4 1686.5 L252.8 1687.7 L253.4 1702.7 L253.7 1684.6 L254.0 1676.3 L254.4 1674.1 L254.8 1675.6 L255.2 1670.0 L255.6 1675.3 L256.2 1696.2 L256.5 1673.6 L256.8 1682.4 L257.4 1682.3 L257.7 1676.1 L258.3 1687.6 L258.7 1678.4 L259.0 1678.1 L259.6 1690.6 L260.2 1699.8 L260.9 1681.1 L261.2 1683.2 L261.7 1672.3 L262.3 1684.8 L262.8 1682.2 L263.4 1669.2 L263.9 1682.0 L264.2 1686.2 L264.7 1683.1 L265.2 1684.3 L265.5 1683.2 L266.2 1685.0 L266.7 1669.3 L267.1 1693.4 L267.7 1683.5 L268.0 1678.6 L268.5 1695.9 L269.0 1668.5 L269.3 1680.6 L269.8 1687.2 L270.4 1683.7 L271.0 1682.9 L271.3 1688.6 L271.6 1680.9 L272.0 1684.5 L272.3 1678.9 L273.0 1683.5 L273.4 1676.3 L273.8 1682.4 L274.4 1667.5 L274.7 1681.6 L275.2 1679.2 L275.7 1689.3 L276.0 1684.5 L276.4 1683.7 L276.8 1686.1 L277.2 1684.6 L277.6 1699.4 L278.1 1688.8 L278.4 1667.5 L278.9 1681.1 L279.2 1685.0 L279.8 1701.1 L280.0 1683.6 L280.5 1681.0 L281.1 1685.5 L281.7 1673.4 L282.2 1672.5 L282.8 1680.1 L283.2 1669.8 L283.5 1680.4 L283.8 1680.9 L284.2 1669.1 L284.8 1675.1 L285.4 1686.7 L285.7 1667.8 L286.0 1679.0 L286.4 1667.4 L287.0 1681.4 L287.5 1691.0 L287.8 1678.0 L288.4 1679.0 L288.9 1675.6 L289.3 1684.6 L289.8 1675.6 L290.3 1679.9 L290.9 1666.8 L291.6 1667.5 L292.1 1672.8 L292.7 1679.1 L293.3 1675.2 L293.5 1691.7 L293.9 1669.9 L294.2 1678.0 L294.8 1673.5 L295.2 1680.8 L295.8 1677.5 L296.3 1681.3 L296.8 1678.0 L297.1 1692.8 L297.5 1667.0 L297.9 1675.6 L298.4 1680.8 L298.9 1673.0 L299.4 1681.1 L299.9 1692.7 L300.0 1675.2 L300.4 1699.1 L300.7 1679.6 L301.2 1694.1 L301.5 1685.6 L302.1 1693.0 L302.4 1681.8 L302.8 1678.9 L303.3 1673.3 L303.9 1685.6 L304.3 1681.9 L304.8 1685.9 L305.4 1669.7 L305.9 1667.3 L306.3 1682.5 L306.8 1685.3 L307.2 1687.1 L307.4 1683.9 L307.9 1683.6 L308.4 1686.5 L308.7 1683.6 L309.1 1678.1 L309.5 1698.4 L310.0 1679.9 L310.5 1689.0 L311.1 1698.2 L311.4 1672.7 L311.7 1683.6 L312.3 1684.1 L312.6 1676.2 L313.1 1686.4 L313.5 1684.6 L314.1 1683.9 L314.4 1685.2 L314.7 1669.0 L315.0 1700.0 L315.6 1685.5 L316.0 1701.2 L316.5 1664.8 L316.9 1672.2 L317.5 1685.9 L318.1 1697.9 L318.5 1691.6 L318.8 1689.4 L319.4 1686.1 L319.7 1697.5 L320.0 1685.6 L320.3 1686.5 L321.0 1686.7 L321.3 1685.6 L321.9 1687.3 L322.2 1687.1 L322.5 1698.6 L322.8 1690.9 L323.3 1687.3 L323.9 1701.0 L324.5 1681.4 L325.1 1684.7 L325.5 1681.4 L325.9 1683.0 L326.5 1687.1 L326.9 1680.2 L327.2 1686.1 L327.6 1690.1 L328.0 1689.9 L328.6 1692.4 L329.2 1683.3 L329.7 1689.2 L330.0 1685.6 L330.5 1689.6 L330.8 1692.6 L331.4 1693.9 L331.7 1692.7 L332.3 1685.7 L333.0 1701.0 L333.5 1688.3 L333.9 1686.2 L334.2 1694.6 L334.5 1692.7 L334.9 1688.7 L335.3 1686.3 L335.9 1690.0 L336.3 1703.8 L336.9 1690.5 L337.3 1676.7 L337.9 1700.2 L338.4 1691.3 L338.8 1691.4 L339.4 1697.2 L339.8 1682.8 L340.4 1692.8 L340.8 1678.0 L341.3 1692.0 L341.6 1693.9 L342.2 1678.4 L342.9 1702.7 L343.2 1687.0 L343.5 1692.4 L344.0 1689.8 L344.3 1693.7 L344.5 1688.1 L345.0 1692.5 L345.5 1698.8 L346.0 1704.7 L346.5 1687.4 L347.0 1700.6 L347.4 1694.2 L347.9 1702.6 L348.3 1693.4 L349.0 1693.6 L349.3 1705.1 L349.7 1692.9 L350.1 1693.4 L350.4 1692.1 L350.9 1693.6 L351.2 1707.8 L351.6 1692.5 L351.9 1689.9 L352.5 1694.1 L352.9 1685.3 L353.3 1692.0 L353.6 1703.6 L354.1 1695.1 L354.7 1695.9 L355.0 1694.3 L355.6 1706.1 L356.2 1688.0 L356.6 1698.6 L357.1 1696.3 L357.6 1697.0 L358.0 1694.2 L358.3 1697.0 L358.9 1697.0 L359.5 1690.8 L359.9 1695.0 L360.3 1698.4 L360.7 1689.6 L361.3 1687.8 L361.9 1692.1 L362.5 1693.3 L363.0 1705.3 L363.6 1694.0 L364.2 1693.0 L364.5 1697.2 L364.9 1696.3 L365.0 1692.0 L365.4 1691.9 L365.7 1698.6 L366.1 1681.4 L366.7 1686.4 L367.1 1685.4 L367.6 1702.4 L368.2 1693.2 L368.5 1692.3 L368.8 1702.9 L369.3 1693.6 L369.9 1690.4 L370.4 1693.3 L370.9 1687.0 L371.2 1705.5 L371.7 1693.2 L372.3 1704.4 L372.9 1692.9 L373.2 1688.4 L373.7 1692.9 L374.3 1692.4 L374.6 1693.3 L375.1 1701.8 L375.6 1687.7 L376.2 1688.0 L376.7 1699.3 L377.1 1692.7 L377.6 1697.1 L378.2 1704.8 L378.8 1694.2 L379.4 1686.5 L380.0 1682.6 L380.4 1694.3 L380.7 1695.1 L381.2 1682.4 L381.7 1693.0 L382.3 1691.2 L382.7 1686.0 L382.9 1691.3 L383.3 1695.6 L383.7 1691.8 L384.1 1680.0 L384.7 1690.1 L385.2 1691.7 L385.7 1691.2 L386.1 1691.8 L386.6 1679.1 L387.2 1686.3 L387.8 1681.1 L388.3 1691.8 L388.9 1702.7 L389.4 1678.4 L389.9 1691.4 L390.0 1679.5 L390.4 1704.3 L390.9 1674.5 L391.5 1690.3 L391.8 1694.5 L392.2 1691.2 L392.6 1692.1 L393.0 1702.6 L393.5 1692.6 L393.9 1691.1 L394.4 1703.8 L394.9 1692.8 L395.5 1686.7 L396.0 1685.5 L396.3 1695.4 L396.9 1684.4 L397.4 1706.5 L398.0 1704.5 L398.7 1689.5 L399.1 1672.8 L399.7 1691.1 L400.2 1689.3 L400.6 1706.6 L400.9 1689.8 L401.3 1677.3 L401.8 1691.0 L402.3 1690.3 L402.8 1683.9 L403.3 1686.7 L403.9 1689.5 L404.4 1690.1 L405.0 1690.4 L405.4 1675.6 L405.8 1690.7 L406.1 1704.7 L406.7 1689.3 L407.0 1689.7 L407.5 1689.3 L408.0 1679.8 L408.3 1675.2 L408.7 1703.2 L409.1 1692.2 L409.7 1685.6 L410.1 1682.1 L410.6 1673.5 L411.1 1692.7 L411.4 1691.3 L411.9 1679.2 L412.3 1690.5 L412.8 1689.6 L413.3 1695.9 L413.8 1692.1 L414.2 1702.6 L414.7 1687.2 L415.1 1684.4 L415.4 1693.6 L416.0 1697.2 L416.3 1688.5 L416.6 1688.0 L417.0 1687.8 L417.6 1691.9 L418.2 1695.5 L418.8 1699.2 L419.1 1688.9 L419.5 1696.3 L420.0 1683.0 L420.0 1702.7 L420.5 1690.6 L421.0 1677.7 L421.3 1686.7 L421.6 1678.2 L422.1 1694.5 L422.5 1705.1 L422.9 1694.0 L423.5 1704.8 L424.0 1700.5 L424.4 1694.9 L424.8 1688.2 L425.4 1695.0 L426.0 1685.9 L426.2 1688.2 L426.6 1687.3 L427.0 1710.2 L427.3 1687.5 L427.6 1707.4 L428.0 1694.7 L428.5 1699.9 L429.1 1695.2 L429.7 1686.6 L430.0 1691.2 L430.4 1709.8 L430.9 1692.5 L431.3 1681.4 L431.7 1686.3 L432.0 1690.2 L432.7 1691.8 L433.0 1681.6 L433.5 1692.0 L433.9 1707.9 L434.2 1698.4 L434.5 1675.7 L434.8 1697.2 L435.5 1691.9 L436.0 1702.8 L436.6 1698.5 L437.2 1691.7 L437.7 1708.2 L438.3 1695.7 L438.7 1691.3 L439.2 1700.0 L439.5 1692.4 L439.9 1685.9 L440.2 1693.9 L440.6 1711.8 L441.2 1692.3 L441.6 1690.5 L442.1 1704.2 L442.4 1695.5 L443.0 1687.6 L443.5 1691.6 L443.8 1681.6 L444.4 1692.6 L444.9 1706.9 L445.3 1698.3 L445.8 1707.1 L446.1 1682.2 L446.4 1693.6 L446.8 1707.1 L447.3 1685.0 L447.9 1691.8 L448.4 1696.9 L448.7 1710.6 L449.3 1689.5 L449.7 1695.1 L450.1 1676.8 L450.5 1687.1 L451.1 1699.7 L451.8 1692.2 L452.2 1683.6 L452.7 1680.5 L453.1 1692.4 L453.4 1683.1 L453.7 1679.0 L454.3 1704.5 L454.7 1708.4 L455.2 1680.7 L455.8 1696.9 L456.2 1694.8 L456.8 1696.9 L457.2 1703.7 L457.6 1690.0 L457.9 1683.5 L458.3 1695.2 L458.7 1695.8 L459.3 1689.3 L459.7 1689.3 L460.2 1697.8 L460.7 1700.3 L461.1 1707.1 L461.6 1690.3 L461.9 1675.6 L462.3 1692.7 L462.9 1692.0 L463.5 1708.4 L463.9 1691.9 L464.2 1695.3 L464.5 1692.4 L465.0 1712.8 L465.5 1687.6 L466.0 1700.8 L466.3 1692.6 L466.7 1691.9 L467.2 1703.6 L467.6 1684.2 L468.0 1704.1 L468.3 1690.8 L468.7 1694.8 L469.3 1691.8 L469.8 1682.5 L470.0 1689.7 L470.6 1691.1 L471.2 1687.8 L471.6 1692.8 L472.0 1681.3 L472.4 1692.5 L473.0 1692.4 L473.4 1702.0 L473.9 1693.3 L474.5 1692.4 L475.0 1692.1 L475.7 1693.0 L476.2 1695.4 L476.6 1702.8 L477.2 1689.1 L477.9 1694.8 L478.3 1689.2 L478.7 1705.5 L479.2 1683.2 L479.7 1680.0 L480.3 1690.6 L480.7 1681.4 L481.1 1698.5 L481.6 1702.2 L482.1 1691.9 L482.8 1702.5 L483.4 1681.8 L483.8 1702.5 L484.0 1685.0 L484.4 1697.2 L484.9 1693.8 L485.4 1680.2 L485.7 1691.1 L486.3 1682.9 L486.8 1689.7 L487.4 1684.8 L488.0 1690.6 L488.3 1690.3 L488.7 1690.4 L489.1 1706.5 L489.6 1696.8 L489.9 1690.6 L490.0 1681.9 L490.5 1696.1 L490.8 1682.7 L491.2 1680.7 L491.6 1686.7 L491.9 1689.3 L492.2 1703.4 L492.5 1685.4 L492.8 1684.0 L493.4 1697.8 L493.7 1671.4 L494.2 1704.4 L494.8 1686.9 L495.4 1699.0 L495.8 1688.5 L496.4 1698.5 L496.9 1693.9 L497.5 1673.5 L497.9 1688.5 L498.4 1683.2 L499.0 1684.2 L499.4 1699.3 L499.7 1684.7 L500.2 1701.7 L500.7 1691.7 L501.3 1687.5 L501.8 1694.3 L502.5 1681.4 L502.9 1687.2 L503.2 1680.0 L503.5 1674.5 L503.9 1671.3 L504.4 1671.6 L504.8 1690.3 L505.4 1698.3 L506.0 1681.1 L506.5 1691.2 L507.1 1680.8 L507.4 1686.2 L507.8 1685.9 L508.2 1685.9 L508.5 1680.5 L509.0 1685.2 L509.6 1684.9 L509.9 1685.0 L510.0 1694.6 L510.5 1687.0 L511.0 1677.2 L511.5 1679.9 L511.8 1687.1 L512.4 1666.6 L513.0 1675.7 L513.6 1687.1 L514.1 1693.8 L514.6 1690.4 L515.1 1680.8 L515.5 1681.7 L515.9 1671.4 L516.5 1669.7 L516.8 1681.6 L517.3 1683.5 L517.7 1677.5 L518.2 1690.9 L518.7 1679.2 L519.3 1668.4 L519.6 1695.9 L520.1 1665.1 L520.6 1678.3 L521.2 1694.1 L521.6 1692.8 L522.0 1694.2 L522.3 1697.9 L522.9 1683.7 L523.2 1687.8 L523.6 1683.6 L524.2 1686.3 L524.8 1668.1 L525.4 1671.9 L525.9 1687.7 L526.2 1687.0 L526.5 1699.6 L526.9 1668.2 L527.5 1681.4 L528.1 1683.9 L528.4 1692.0 L528.9 1684.6 L529.4 1686.7 L530.0 1684.3 L530.4 1676.8 L530.8 1703.8 L531.2 1682.7 L531.8 1707.6 L532.3 1686.7 L532.8 1668.9 L533.5 1682.3 L534.0 1698.6 L534.4 1681.7 L534.8 1689.5 L535.2 1679.6 L535.8 1684.0 L536.4 1692.0 L537.0 1685.8 L537.4 1686.1 L538.0 1670.9 L538.7 1679.4 L539.1 1678.0 L539.5 1707.8 L540.0 1681.4 L540.6 1685.5 L541.2 1685.5 L541.5 1688.1 L541.9 1684.0 L542.4 1689.8 L542.8 1685.5 L543.4 1679.2 L544.1 1677.1 L544.7 1684.5 L545.3 1685.3 L545.7 1704.7 L546.0 1703.1 L546.3 1672.5 L546.7 1685.9 L547.3 1685.0 L547.7 1682.7 L548.2 1691.0 L548.6 1685.6 L549.0 1705.8 L549.6 1684.5 L550.0 1667.8 L550.6 1694.8 L551.0 1672.9 L551.6 1681.5 L552.0 1685.1 L552.6 1685.4 L553.0 1696.4 L553.5 1663.0 L554.2 1685.4 L554.6 1667.3 L555.0 1672.2 L555.6 1692.5 L556.1 1679.5 L556.7 1685.3 L557.2 1686.3 L557.6 1673.2 L558.1 1679.2 L558.5 1663.7 L558.9 1668.3 L559.2 1679.0 L559.6 1670.1 L560.1 1711.8 L560.7 1669.3 L561.1 1672.6 L561.5 1685.0 L561.8 1661.1 L562.4 1673.1 L562.7 1697.4 L563.1 1690.1 L563.3 1712.7 L563.6 1707.7 L564.3 1687.3 L564.6 1685.5 L565.2 1685.1 L565.8 1664.3 L566.2 1681.1 L566.5 1706.0 L566.8 1665.5 L567.4 1680.7 L567.9 1675.1 L568.3 1678.9 L568.9 1686.4 L569.5 1668.9 L570.0 1695.9 L570.5 1691.0 L571.1 1677.7 L571.5 1690.4 L572.0 1677.9 L572.3 1695.4 L572.9 1688.9 L573.2 1682.1 L573.8 1697.0 L574.2 1681.8 L574.5 1683.0 L574.9 1687.1 L575.0 1677.0 L575.4 1681.1 L576.0 1660.0 L576.5 1660.1 L577.0 1664.3 L577.6 1658.1 L578.2 1682.6 L578.8 1656.9 L579.2 1676.2 L579.8 1699.8 L580.2 1673.5 L580.7 1684.2 L581.3 1657.0 L581.8 1685.8 L582.1 1670.4 L582.6 1703.4 L583.0 1680.4 L583.4 1675.1 L583.9 1688.0 L584.2 1691.7 L584.9 1682.8 L585.2 1681.3 L585.7 1665.3 L586.2 1687.1 L586.6 1689.7 L587.2 1660.8 L587.7 1679.3 L588.1 1678.8 L588.4 1674.8 L588.8 1697.4 L589.4 1661.4 L589.9 1684.5 L590.0 1671.5 L590.4 1646.9 L590.7 1672.2 L591.1 1708.1 L591.7 1696.6 L592.2 1679.4 L592.7 1684.6 L593.1 1676.8 L593.4 1689.0 L593.7 1669.3 L594.2 1671.1 L594.6 1679.1 L595.1 1708.3 L595.6 1671.3 L596.0 1678.2 L596.3 1676.6 L596.6 1681.9 L597.0 1692.7 L597.6 1712.5 L598.1 1694.1 L598.6 1647.0 L598.9 1677.0 L599.5 1704.8 L600.1 1687.0 L600.4 1647.6 L600.7 1671.9 L601.2 1684.6 L601.5 1660.6 L602.1 1700.6 L602.6 1677.1 L603.2 1684.5 L603.8 1651.5 L604.4 1683.9 L604.9 1704.0 L605.0 1666.0 L605.5 1704.7 L606.1 1678.6 L606.6 1683.3 L607.3 1669.8 L607.7 1682.5 L608.3 1666.6 L608.9 1652.2 L609.2 1685.0 L609.8 1685.7 L610.2 1687.2 L610.8 1661.5 L611.1 1657.5 L611.7 1678.8 L612.0 1698.0 L612.4 1655.1 L612.7 1718.2 L613.2 1687.2 L613.8 1652.2 L614.4 1701.5 L614.9 1696.1 L615.0 1682.0 L615.6 1686.1 L616.2 1682.1 L616.7 1686.0 L617.0 1701.3 L617.3 1686.6 L618.0 1667.2 L618.4 1688.7 L618.6 1680.1 L619.3 1688.5 L619.6 1664.1 L619.9 1658.1 L620.4 1665.0 L620.9 1683.1 L621.4 1683.5 L621.9 1674.9 L622.5 1679.2 L622.9 1680.6 L623.4 1678.6 L623.9 1682.8 L624.4 1673.5 L624.9 1684.0 L625.4 1682.9 L625.8 1675.8 L626.3 1672.4 L626.8 1693.8 L627.2 1659.4 L627.7 1665.5 L628.0 1676.4 L628.3 1674.2 L628.6 1686.5 L628.9 1690.4 L629.5 1679.4 L629.8 1687.4 L630.1 1691.8 L630.7 1658.0" fill="none" stroke="#f00" stroke-width="4.5" stroke-dasharray="0.01 8.8" stroke-linejoin="miter" stroke-linecap="square"/>
<path d="M72.30 1639.45H78.10M648.90 1639.45H643.10M72.30 1685.50H78.10M648.90 1685.50H643.10M72.30 1731.55H78.10M648.90 1731.55H643.10M264.50 1593.40V1599.20M264.50 1777.60V1771.80M456.70 1593.40V1599.20M456.70 1777.60V1771.80" stroke="#4a4a4a" stroke-width="1.6" fill="none"/>
<rect x="72.30" y="1593.40" width="576.60" height="184.20" fill="none" stroke="#707070" stroke-width="1.8"/>
<text x="47.37" y="1602.49" font-size="25.40" fill="#262626" xml:space="preserve">2</text>
<polygon points="57.13,1648.54 57.13,1631.04 55.25,1631.04 50.55,1634.95 50.68,1637.11 54.71,1634.44 54.71,1648.54" fill="#262626"/>
<text x="47.37" y="1694.59" font-size="25.40" fill="#262626" xml:space="preserve">0</text>
<text x="38.92" y="1740.64" font-size="25.40" fill="#262626" xml:space="preserve">-</text><polygon points="57.13,1740.64 57.13,1723.14 55.25,1723.14 50.55,1727.05 50.68,1729.21 54.71,1726.54 54.71,1740.64" fill="#262626"/>
<text x="38.92" y="1786.69" font-size="25.40" fill="#262626" xml:space="preserve">-2</text>
<text x="84.05" y="1763.75" font-size="24.95" fill="#000" xml:space="preserve">DOY 08</text><polygon points="182.39,1763.75 182.39,1746.56 180.54,1746.56 175.92,1750.40 176.05,1752.52 180.02,1749.90 180.02,1763.75" fill="#000"/>
<polygon points="51.25,1811.10 51.25,1794.22 49.44,1794.22 44.91,1797.99 45.03,1800.07 48.93,1797.50 48.93,1811.10" fill="#262626"/><text x="55.47" y="1811.10" font-size="24.50" fill="#262626" xml:space="preserve">2:00</text>
<polygon points="243.45,1811.10 243.45,1794.22 241.64,1794.22 237.11,1797.99 237.23,1800.07 241.13,1797.50 241.13,1811.10" fill="#262626"/><text x="247.67" y="1811.10" font-size="24.50" fill="#262626" xml:space="preserve">4:00</text>
<polygon points="435.65,1811.10 435.65,1794.22 433.84,1794.22 429.31,1797.99 429.43,1800.07 433.33,1797.50 433.33,1811.10" fill="#262626"/><text x="439.87" y="1811.10" font-size="24.50" fill="#262626" xml:space="preserve">6:00</text>
<polygon points="627.85,1811.10 627.85,1794.22 626.04,1794.22 621.51,1797.99 621.63,1800.07 625.53,1797.50 625.53,1811.10" fill="#262626"/><text x="632.07" y="1811.10" font-size="24.50" fill="#262626" xml:space="preserve">8:00</text>
<text x="317.99" y="1841.80" font-size="24.82" fill="#262626" xml:space="preserve">UTC [h]</text>
<g transform="translate(26.7 901.7) rotate(-90)"><text x="-59.71" y="0.00" font-size="24.70" fill="#262626" xml:space="preserve">MP L</text><polygon points="7.43,0.00 7.43,-17.02 5.60,-17.02 1.03,-13.21 1.15,-11.12 5.08,-13.71 5.08,0.00" fill="#262626"/><text x="11.68" y="0.00" font-size="24.70" fill="#262626" xml:space="preserve">  [m]</text></g>
</svg></body></html>
